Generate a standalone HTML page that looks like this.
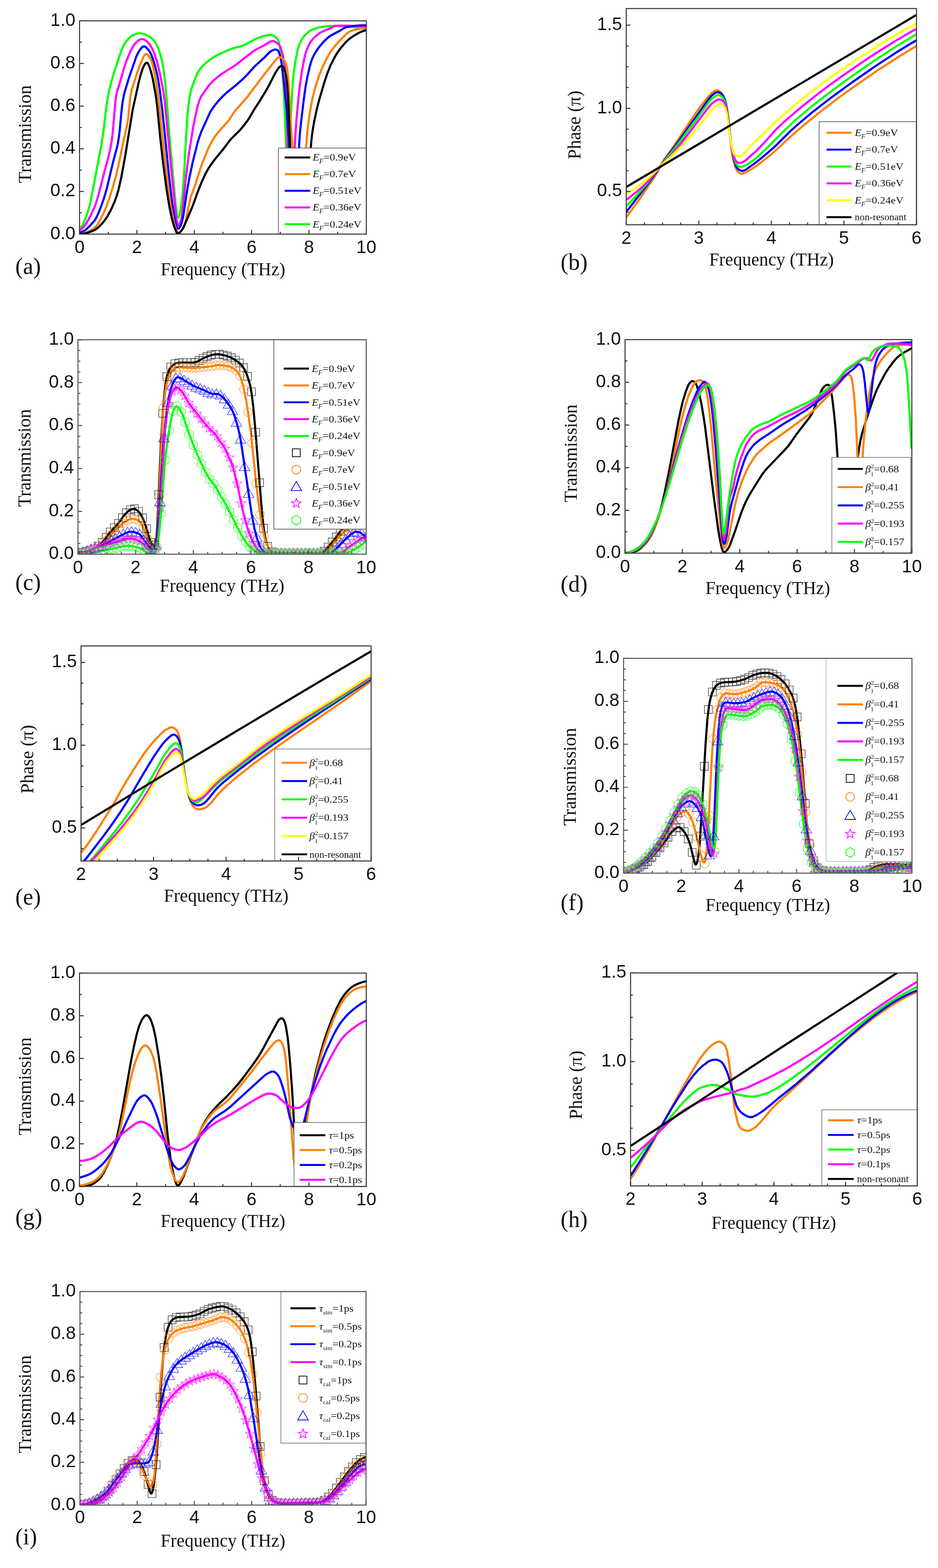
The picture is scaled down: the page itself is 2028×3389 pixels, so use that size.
<!DOCTYPE html>
<html><head><meta charset="utf-8"><title>Figure</title>
<style>html,body{margin:0;padding:0;background:#fff;}svg{display:block;}</style>
</head><body>
<svg xmlns="http://www.w3.org/2000/svg" width="2028" height="3389" viewBox="0 0 2028 3389"><clipPath id="clipa"><rect x="172" y="45" width="620" height="461"/></clipPath>
<g clip-path="url(#clipa)" fill="none" stroke-linejoin="round" stroke-linecap="round">
<path d="M171.9,493.2 174.3,491.9 176.8,489.1 179.3,485.1 183.0,477.1 190.4,456.3 195.4,437.8 218.9,314.8 223.8,283.1 230.0,231.1 232.5,214.0 236.2,194.9 241.2,174.8 247.3,154.2 261.0,113.0 264.7,103.5 268.4,96.3 273.3,88.8 279.5,81.7 284.5,77.5 288.2,75.6 294.4,73.2 299.3,72.0 303.0,71.8 308.0,72.5 312.9,74.1 319.1,76.6 324.1,79.6 327.8,82.6 331.5,86.3 335.2,90.9 337.7,94.9 342.6,105.7 347.6,121.0 350.1,131.3 352.5,144.1 355.0,160.3 357.5,181.4 360.0,209.3 367.4,308.0 378.5,429.1 382.2,462.8 383.5,468.5 384.7,470.8 386.0,470.2 387.2,467.4 389.7,457.4 392.1,443.0 394.6,422.1 398.3,370.8 402.0,299.5 404.5,260.1 407.0,231.8 409.5,212.0 411.9,199.1 414.4,190.0 421.8,170.1 425.6,161.4 429.3,154.1 433.0,148.4 437.9,142.6 445.4,135.7 454.0,128.8 462.7,123.1 472.6,117.7 488.7,110.4 501.0,105.3 508.5,102.9 520.8,100.1 525.8,98.4 533.2,94.8 550.5,85.3 561.7,80.7 567.9,78.6 574.1,77.1 580.2,75.9 585.2,75.5 587.7,75.8 591.4,77.3 596.3,80.3 598.8,82.6 601.3,86.6 602.5,90.0 605.0,101.2 607.5,118.3 609.9,141.6 612.4,174.7 613.7,197.8 618.6,316.4 619.8,335.6 621.1,345.5 622.3,346.9 623.6,340.9 624.8,327.8 631.0,210.8 632.2,190.4 634.7,160.5 638.4,133.3 643.4,108.9 647.1,96.6 652.0,86.1 655.7,80.5 660.7,74.6 665.6,70.1 671.8,65.6 676.8,63.2 683.0,61.1 690.4,59.3 700.3,57.5 707.7,56.5 713.9,56.1 732.5,56.2 748.6,56.9 769.6,59.1 789.4,63.0" stroke="#00ff00" stroke-width="4.6"/>
<path d="M171.9,497.6 175.6,495.8 180.5,491.1 184.2,486.3 189.2,478.4 195.4,466.7 202.8,451.1 206.5,441.8 210.2,430.6 216.4,408.4 226.3,368.9 233.7,342.5 238.7,320.7 241.2,306.4 243.6,288.2 249.8,215.8 252.3,200.7 259.7,176.8 268.4,146.3 272.1,135.3 277.1,122.4 283.2,108.7 288.2,99.3 293.1,92.9 299.3,87.4 303.0,85.2 305.5,84.5 308.0,84.5 310.5,85.1 314.2,87.1 317.9,89.7 321.6,93.3 324.1,96.5 330.3,107.3 335.2,119.7 340.2,135.5 345.1,155.6 351.3,186.5 353.8,201.6 356.3,220.3 369.9,361.8 379.8,460.0 382.2,478.9 383.5,484.3 384.7,486.8 386.0,487.2 387.2,486.0 389.7,481.1 392.1,472.8 393.4,466.3 395.9,446.0 402.0,382.0 408.2,334.2 416.9,279.2 420.6,259.6 425.6,236.6 430.5,218.4 434.2,209.8 436.7,205.8 450.3,186.6 456.5,179.1 463.9,172.0 473.8,164.0 487.4,154.4 503.5,144.6 509.7,140.4 546.8,111.4 555.5,106.0 571.6,97.8 582.7,90.7 587.7,88.7 591.4,88.9 593.9,89.9 600.0,93.8 603.8,97.0 606.2,101.2 609.9,113.1 613.7,131.8 616.1,150.1 617.4,165.1 618.6,190.3 622.3,318.9 623.6,348.5 624.8,366.3 626.0,376.4 627.3,381.9 628.5,384.5 629.7,385.4 631.0,385.3 632.2,383.5 633.5,377.7 634.7,364.5 638.4,295.9 640.9,259.8 644.6,218.7 648.3,184.8 653.3,151.1 658.2,125.0 661.9,111.2 666.9,99.0 670.6,92.2 675.5,85.5 681.7,79.0 687.9,73.7 691.6,71.1 696.6,68.4 712.7,61.9 723.8,56.1 727.5,55.6 751.0,55.6 789.4,56.6" stroke="#ff00ff" stroke-width="4.6"/>
<path d="M171.9,502.2 175.6,501.7 178.0,500.9 181.8,499.0 185.5,496.5 194.1,488.6 204.0,477.2 207.7,471.4 212.7,461.1 217.6,448.7 223.8,431.3 227.5,419.5 231.3,405.9 244.9,348.5 252.3,320.9 254.8,310.3 257.2,295.2 258.5,284.7 262.2,245.2 264.7,223.1 267.2,208.6 269.6,198.3 278.3,169.8 294.4,122.9 296.9,117.5 301.8,108.9 305.5,103.8 308.0,101.4 310.5,100.3 311.7,100.3 314.2,101.1 316.7,102.9 322.8,110.3 326.6,116.9 330.3,126.5 335.2,142.5 338.9,157.1 341.4,169.1 345.1,192.0 350.1,231.1 355.0,276.7 364.9,375.3 372.3,439.0 376.1,463.2 379.8,482.4 382.2,491.1 383.5,493.5 384.7,494.4 386.0,494.3 387.2,493.2 389.7,489.5 392.1,483.9 394.6,475.0 397.1,461.6 404.5,412.0 409.5,384.2 416.9,349.4 426.8,310.3 430.5,297.7 435.5,284.0 454.0,243.2 459.0,235.0 465.2,226.6 473.8,216.3 482.5,207.2 489.9,200.4 508.5,185.5 525.8,170.2 533.2,162.8 550.5,143.6 571.6,124.3 582.7,112.9 586.4,110.1 591.4,107.8 595.1,107.0 597.6,107.3 600.0,108.5 601.3,109.8 603.8,114.9 605.0,118.7 607.5,129.5 608.7,136.8 613.7,177.5 619.8,238.3 627.3,339.8 631.0,383.9 632.2,394.2 633.5,401.4 634.7,405.4 635.9,407.2 637.2,407.9 639.6,407.6 640.9,405.7 642.1,399.2 643.4,384.1 647.1,307.2 648.3,289.0 650.8,264.8 657.0,213.5 660.7,187.0 664.4,166.9 670.6,140.3 673.1,132.1 675.5,125.7 679.2,118.2 683.0,111.7 687.9,104.4 692.9,98.0 699.1,90.9 705.2,84.8 711.4,79.5 716.4,76.1 734.9,66.4 743.6,60.9 747.3,59.2 756.0,57.4 768.4,55.7 779.5,54.8 789.4,54.5" stroke="#0000ff" stroke-width="4.6"/>
<path d="M171.9,506.1 179.3,505.2 187.9,502.2 194.1,499.1 200.3,495.4 204.0,492.8 206.5,490.5 211.5,484.0 217.6,473.2 226.3,455.5 231.3,443.3 241.2,413.6 251.1,378.6 258.5,346.5 268.4,297.6 273.3,277.5 275.8,264.5 277.1,255.1 282.0,207.9 284.5,194.9 296.9,156.2 301.8,142.4 310.5,122.2 312.9,118.5 315.4,116.7 317.9,117.1 320.4,119.1 324.1,124.6 326.6,129.5 330.3,140.8 335.2,164.8 338.9,187.3 343.9,224.5 360.0,377.1 366.2,426.6 371.1,457.1 374.8,474.8 378.5,488.9 381.0,496.6 383.5,501.8 384.7,503.1 386.0,503.6 387.2,503.5 388.4,502.9 390.9,500.6 395.9,493.4 398.3,488.1 402.0,474.8 409.5,437.8 413.2,423.0 420.6,404.4 433.0,365.0 439.2,347.6 450.3,321.1 455.3,310.7 459.0,303.9 463.9,296.2 471.3,286.6 494.9,259.8 506.0,242.6 509.7,237.6 527.0,218.8 536.9,206.7 570.3,162.3 593.9,132.2 600.0,125.2 602.5,123.6 603.8,123.3 606.2,123.8 609.9,125.9 612.4,128.1 614.9,131.2 617.4,135.9 618.6,139.2 621.1,150.2 623.6,173.3 629.7,280.6 637.2,392.4 639.6,424.4 640.9,436.2 642.1,444.4 643.4,449.2 644.6,451.5 645.8,452.3 649.5,452.5 652.0,451.9 653.3,449.8 654.5,443.9 655.7,431.5 661.9,315.4 664.4,286.3 666.9,264.6 670.6,239.2 675.5,213.3 681.7,188.6 687.9,168.8 692.9,155.6 697.8,144.0 704.0,130.9 709.0,121.6 713.9,113.4 720.1,104.6 726.3,96.9 732.5,90.1 748.6,73.7 752.3,70.6 756.0,68.1 762.2,65.8 773.3,63.0 782.0,61.6 789.4,61.2" stroke="#ff8000" stroke-width="4.6"/>
<path d="M171.9,506.1 176.8,505.8 183.0,504.8 195.4,501.0 202.8,498.0 206.5,496.1 213.9,490.2 218.9,485.2 225.1,478.0 232.5,467.2 241.2,450.9 248.6,433.8 252.3,423.2 256.0,410.8 262.2,383.6 270.9,335.8 287.0,236.4 299.3,180.7 303.0,165.5 308.0,149.3 310.5,143.6 312.9,139.2 315.4,136.2 316.7,135.5 317.9,135.5 319.1,136.4 320.4,138.1 322.8,143.7 326.6,155.3 330.3,170.5 336.5,204.4 340.2,233.0 346.4,296.9 352.5,351.6 360.0,408.5 366.2,446.4 371.1,470.3 376.1,488.2 381.0,501.0 382.2,503.0 383.5,504.2 384.7,504.7 387.2,503.9 390.9,500.2 394.6,495.2 398.3,488.3 416.9,444.4 428.0,413.4 435.5,394.6 444.1,375.8 451.5,362.7 463.9,345.2 481.2,324.3 496.1,304.3 502.3,297.5 518.4,281.7 527.0,271.5 534.5,261.7 539.4,254.2 550.5,235.2 561.7,217.9 574.1,197.8 582.7,182.4 595.1,157.9 601.3,148.1 603.8,145.0 606.2,143.3 607.5,143.0 609.9,143.2 611.2,143.8 612.4,144.9 613.7,147.0 616.1,154.2 618.6,165.6 621.1,184.8 622.3,201.2 623.6,224.7 629.7,380.1 633.5,445.4 635.9,475.4 638.4,492.2 639.6,496.2 640.9,498.6 643.4,501.4 647.1,503.9 650.8,505.1 653.3,504.4 655.7,501.4 658.2,495.5 659.4,491.4 661.9,480.0 663.2,470.7 665.6,436.5 670.6,335.4 673.1,304.5 675.5,284.8 679.2,262.8 685.4,233.8 690.4,214.9 700.3,181.1 707.7,158.6 715.1,140.2 725.0,121.0 730.0,113.0 736.2,104.3 747.3,91.4 753.5,85.5 758.5,81.6 767.1,75.9 775.8,71.0 783.2,67.7 789.4,65.9" stroke="#000000" stroke-width="4.6"/>
</g>
<rect x="602" y="320" width="190" height="186" fill="#fff" stroke="#555" stroke-width="1.5"/>
<line x1="615.5" y1="340.3" x2="670.8" y2="340.3" stroke="#000000" stroke-width="4.2"/>
<text transform="translate(676,347.3) scale(1.07,1)" font-family="'Liberation Serif', 'Times New Roman', serif" font-size="22" fill="#111"><tspan font-style="italic">E</tspan><tspan font-size="14" dy="6" font-style="italic">F</tspan><tspan dy="-6">=0.9eV</tspan></text>
<line x1="615.5" y1="376.35" x2="670.8" y2="376.35" stroke="#ff8000" stroke-width="4.2"/>
<text transform="translate(676,383.4) scale(1.07,1)" font-family="'Liberation Serif', 'Times New Roman', serif" font-size="22" fill="#111"><tspan font-style="italic">E</tspan><tspan font-size="14" dy="6" font-style="italic">F</tspan><tspan dy="-6">=0.7eV</tspan></text>
<line x1="615.5" y1="412.4" x2="670.8" y2="412.4" stroke="#0000ff" stroke-width="4.2"/>
<text transform="translate(676,419.4) scale(1.07,1)" font-family="'Liberation Serif', 'Times New Roman', serif" font-size="22" fill="#111"><tspan font-style="italic">E</tspan><tspan font-size="14" dy="6" font-style="italic">F</tspan><tspan dy="-6">=0.51eV</tspan></text>
<line x1="615.5" y1="448.45" x2="670.8" y2="448.45" stroke="#ff00ff" stroke-width="4.2"/>
<text transform="translate(676,455.4) scale(1.07,1)" font-family="'Liberation Serif', 'Times New Roman', serif" font-size="22" fill="#111"><tspan font-style="italic">E</tspan><tspan font-size="14" dy="6" font-style="italic">F</tspan><tspan dy="-6">=0.36eV</tspan></text>
<line x1="615.5" y1="484.5" x2="670.8" y2="484.5" stroke="#00ff00" stroke-width="4.2"/>
<text transform="translate(676,491.5) scale(1.07,1)" font-family="'Liberation Serif', 'Times New Roman', serif" font-size="22" fill="#111"><tspan font-style="italic">E</tspan><tspan font-size="14" dy="6" font-style="italic">F</tspan><tspan dy="-6">=0.24eV</tspan></text>
<rect x="172" y="45" width="620" height="461" fill="none" stroke="#333" stroke-width="2.2"/>
<path d="M172.0,506 v-9 M296.0,506 v-9 M420.0,506 v-9 M544.0,506 v-9 M668.0,506 v-9 M792.0,506 v-9 M234.0,506 v-5 M358.0,506 v-5 M482.0,506 v-5 M606.0,506 v-5 M730.0,506 v-5 M172,506.0 h9 M172,413.8 h9 M172,321.6 h9 M172,229.4 h9 M172,137.2 h9 M172,45.0 h9 M172,459.9 h5 M172,367.7 h5 M172,275.5 h5 M172,183.3 h5 M172,91.1 h5" stroke="#333" stroke-width="2.2" fill="none"/>
<text x="172.0" y="547" font-family="'Liberation Sans', Arial, sans-serif" font-size="39" text-anchor="middle" fill="#111">0</text>
<text x="296.0" y="547" font-family="'Liberation Sans', Arial, sans-serif" font-size="39" text-anchor="middle" fill="#111">2</text>
<text x="420.0" y="547" font-family="'Liberation Sans', Arial, sans-serif" font-size="39" text-anchor="middle" fill="#111">4</text>
<text x="544.0" y="547" font-family="'Liberation Sans', Arial, sans-serif" font-size="39" text-anchor="middle" fill="#111">6</text>
<text x="668.0" y="547" font-family="'Liberation Sans', Arial, sans-serif" font-size="39" text-anchor="middle" fill="#111">8</text>
<text x="792.0" y="547" font-family="'Liberation Sans', Arial, sans-serif" font-size="39" text-anchor="middle" fill="#111">10</text>
<text x="163" y="516.5" font-family="'Liberation Sans', Arial, sans-serif" font-size="39" text-anchor="end" fill="#111">0.0</text>
<text x="163" y="424.3" font-family="'Liberation Sans', Arial, sans-serif" font-size="39" text-anchor="end" fill="#111">0.2</text>
<text x="163" y="332.1" font-family="'Liberation Sans', Arial, sans-serif" font-size="39" text-anchor="end" fill="#111">0.4</text>
<text x="163" y="239.9" font-family="'Liberation Sans', Arial, sans-serif" font-size="39" text-anchor="end" fill="#111">0.6</text>
<text x="163" y="147.7" font-family="'Liberation Sans', Arial, sans-serif" font-size="39" text-anchor="end" fill="#111">0.8</text>
<text x="163" y="55.5" font-family="'Liberation Sans', Arial, sans-serif" font-size="39" text-anchor="end" fill="#111">1.0</text>
<text x="482" y="595" font-family="'Liberation Serif', 'Times New Roman', serif" font-size="39" text-anchor="middle" fill="#111">Frequency (THz)</text>
<text transform="translate(67,290) rotate(-90)" font-family="'Liberation Serif', 'Times New Roman', serif" font-size="39.5" text-anchor="middle" fill="#111">Transmission</text>
<text x="33" y="592" font-family="'Liberation Serif', 'Times New Roman', serif" font-size="50" fill="#111">(a)</text>
<clipPath id="clipb"><rect x="1354" y="18.5" width="627.5" height="467.3"/></clipPath>
<g clip-path="url(#clipb)" fill="none" stroke-linejoin="round" stroke-linecap="round">
<path d="M1353.5,469.6 1357.3,465.4 1381.2,432.4 1413.8,384.2 1418.9,376.2 1428.9,357.0 1436.5,344.5 1457.8,314.2 1506.8,240.6 1518.1,225.4 1533.2,206.8 1538.3,201.7 1545.8,196.1 1549.6,195.0 1552.1,195.3 1555.9,197.2 1558.4,199.3 1562.1,204.5 1564.7,209.7 1567.2,216.3 1569.7,225.5 1572.2,239.9 1581.0,318.1 1583.5,335.4 1586.0,348.3 1589.8,361.1 1593.6,368.7 1597.3,373.1 1599.8,374.9 1602.4,375.7 1604.9,375.4 1612.4,372.6 1621.2,367.8 1632.5,360.7 1643.8,352.2 1665.2,335.2 1677.8,324.6 1713.0,291.8 1741.9,267.1 1779.6,236.7 1816.0,209.1 1861.3,176.8 1904.0,147.7 1945.5,121.0 1969.4,106.5 1980.7,100.1" stroke="#ff8000" stroke-width="4.6"/>
<path d="M1353.5,457.4 1356.0,455.2 1366.1,442.7 1405.0,391.9 1418.9,372.5 1437.7,344.4 1459.1,316.3 1532.0,214.3 1538.3,207.0 1545.8,201.2 1549.6,199.5 1552.1,199.3 1554.6,199.8 1558.4,201.5 1560.9,203.5 1563.4,206.9 1567.2,215.4 1569.7,224.2 1572.2,237.5 1574.7,256.3 1581.0,310.9 1584.8,334.7 1587.3,346.7 1591.0,358.2 1592.3,360.8 1594.8,364.5 1597.3,366.6 1602.4,368.9 1604.9,369.4 1607.4,368.9 1611.2,367.4 1616.2,364.2 1635.0,350.6 1647.6,340.5 1663.9,326.7 1676.5,315.5 1707.9,284.4 1724.3,269.4 1756.9,242.1 1793.4,213.7 1843.7,177.0 1893.9,142.1 1940.4,111.8 1965.6,96.3 1980.7,87.5" stroke="#0000ff" stroke-width="4.6"/>
<path d="M1353.5,445.4 1358.5,441.2 1372.4,426.9 1386.2,411.5 1398.7,396.5 1437.7,346.1 1454.1,326.5 1466.6,310.4 1490.5,277.5 1508.1,254.5 1533.2,219.6 1538.3,214.0 1547.1,207.4 1550.8,205.7 1553.3,205.4 1555.9,205.9 1558.4,207.1 1560.9,208.9 1563.4,211.8 1567.2,219.8 1569.7,228.3 1572.2,241.4 1579.7,303.9 1583.5,326.0 1587.3,342.2 1591.0,352.9 1594.8,358.4 1597.3,360.0 1599.8,360.5 1602.4,360.5 1606.1,359.8 1611.2,357.7 1616.2,354.8 1630.0,345.3 1636.3,340.2 1657.7,320.1 1696.6,281.3 1716.7,262.2 1749.4,234.4 1785.9,205.6 1836.1,168.7 1890.2,131.2 1939.2,99.4 1965.6,83.2 1980.7,74.6" stroke="#00ff00" stroke-width="4.6"/>
<path d="M1353.5,431.5 1356.0,430.2 1361.0,426.5 1382.4,409.8 1392.5,400.5 1402.5,390.0 1435.2,350.7 1454.1,331.6 1465.4,318.5 1479.2,301.0 1534.5,228.6 1539.5,223.4 1548.3,217.0 1553.3,215.1 1555.9,215.1 1558.4,215.6 1560.9,216.7 1563.4,218.4 1565.9,221.6 1567.2,224.1 1569.7,231.7 1572.2,244.8 1579.7,305.2 1582.2,320.5 1586.0,336.3 1589.8,346.1 1592.3,349.6 1594.8,351.3 1597.3,352.1 1599.8,352.2 1603.6,351.4 1607.4,349.6 1612.4,346.2 1635.0,326.6 1655.1,305.5 1676.5,281.2 1696.6,261.9 1731.8,231.9 1770.8,201.0 1793.4,184.0 1817.3,166.8 1850.0,144.1 1880.1,123.9 1907.8,106.0 1934.2,89.6 1961.8,73.2 1980.7,62.7" stroke="#ff00ff" stroke-width="4.6"/>
<path d="M1353.5,419.4 1359.8,416.0 1374.9,406.1 1387.4,397.0 1398.7,388.0 1407.5,380.0 1436.5,350.9 1459.1,330.2 1475.4,313.5 1490.5,296.8 1523.2,257.6 1537.0,240.0 1547.1,229.9 1552.1,226.1 1554.6,225.0 1557.1,224.7 1560.9,225.8 1563.4,227.3 1565.9,230.0 1568.4,234.9 1570.9,243.7 1572.2,250.0 1579.7,302.4 1582.2,316.0 1584.8,326.4 1587.3,333.1 1589.8,336.1 1592.3,337.2 1596.1,337.9 1598.6,337.9 1601.1,337.3 1604.9,335.2 1608.6,331.9 1626.2,311.5 1672.7,267.6 1696.6,245.7 1713.0,231.5 1729.3,217.9 1769.5,186.4 1792.1,169.7 1816.0,152.9 1848.7,130.8 1878.9,111.1 1906.5,93.7 1932.9,77.8 1960.6,61.9 1980.7,51.2" stroke="#ffff00" stroke-width="4.6"/>
<path d="M1354.0,404.2 1981.5,32.2" stroke="#000000" stroke-width="4.6"/>
</g>
<rect x="1771" y="263" width="210.5" height="222.8" fill="#fff" stroke="#555" stroke-width="1.5"/>
<line x1="1787" y1="286.9" x2="1841" y2="286.9" stroke="#ff8000" stroke-width="4.2"/>
<text transform="translate(1848,293.9) scale(1.07,1)" font-family="'Liberation Serif', 'Times New Roman', serif" font-size="22" fill="#111"><tspan font-style="italic">E</tspan><tspan font-size="14" dy="6" font-style="italic">F</tspan><tspan dy="-6">=0.9eV</tspan></text>
<line x1="1787" y1="323.4" x2="1841" y2="323.4" stroke="#0000ff" stroke-width="4.2"/>
<text transform="translate(1848,330.4) scale(1.07,1)" font-family="'Liberation Serif', 'Times New Roman', serif" font-size="22" fill="#111"><tspan font-style="italic">E</tspan><tspan font-size="14" dy="6" font-style="italic">F</tspan><tspan dy="-6">=0.7eV</tspan></text>
<line x1="1787" y1="359.9" x2="1841" y2="359.9" stroke="#00ff00" stroke-width="4.2"/>
<text transform="translate(1848,366.9) scale(1.07,1)" font-family="'Liberation Serif', 'Times New Roman', serif" font-size="22" fill="#111"><tspan font-style="italic">E</tspan><tspan font-size="14" dy="6" font-style="italic">F</tspan><tspan dy="-6">=0.51eV</tspan></text>
<line x1="1787" y1="396.4" x2="1841" y2="396.4" stroke="#ff00ff" stroke-width="4.2"/>
<text transform="translate(1848,403.4) scale(1.07,1)" font-family="'Liberation Serif', 'Times New Roman', serif" font-size="22" fill="#111"><tspan font-style="italic">E</tspan><tspan font-size="14" dy="6" font-style="italic">F</tspan><tspan dy="-6">=0.36eV</tspan></text>
<line x1="1787" y1="432.9" x2="1841" y2="432.9" stroke="#ffff00" stroke-width="4.2"/>
<text transform="translate(1848,439.9) scale(1.07,1)" font-family="'Liberation Serif', 'Times New Roman', serif" font-size="22" fill="#111"><tspan font-style="italic">E</tspan><tspan font-size="14" dy="6" font-style="italic">F</tspan><tspan dy="-6">=0.24eV</tspan></text>
<line x1="1787" y1="469.4" x2="1841" y2="469.4" stroke="#000000" stroke-width="4.2"/>
<text transform="translate(1848,476.4) scale(1.07,1)" font-family="'Liberation Serif', 'Times New Roman', serif" font-size="22" fill="#111"><tspan font-size="20">non-resonant</tspan></text>
<rect x="1354" y="18.5" width="627.5" height="467.3" fill="none" stroke="#333" stroke-width="2.2"/>
<path d="M1354.0,485.8 v-9 M1510.9,485.8 v-9 M1667.8,485.8 v-9 M1824.6,485.8 v-9 M1981.5,485.8 v-9 M1393.2,485.8 v-5 M1432.4,485.8 v-5 M1471.7,485.8 v-5 M1550.1,485.8 v-5 M1589.3,485.8 v-5 M1628.5,485.8 v-5 M1707.0,485.8 v-5 M1746.2,485.8 v-5 M1785.4,485.8 v-5 M1863.8,485.8 v-5 M1903.1,485.8 v-5 M1942.3,485.8 v-5 M1354,413.9 h9 M1354,234.2 h9 M1354,54.4 h9 M1354,458.8 h5 M1354,369.0 h5 M1354,324.0 h5 M1354,279.1 h5 M1354,189.2 h5 M1354,144.3 h5 M1354,99.4 h5" stroke="#333" stroke-width="2.2" fill="none"/>
<text x="1354.0" y="526.8" font-family="'Liberation Sans', Arial, sans-serif" font-size="39" text-anchor="middle" fill="#111">2</text>
<text x="1510.9" y="526.8" font-family="'Liberation Sans', Arial, sans-serif" font-size="39" text-anchor="middle" fill="#111">3</text>
<text x="1667.8" y="526.8" font-family="'Liberation Sans', Arial, sans-serif" font-size="39" text-anchor="middle" fill="#111">4</text>
<text x="1824.6" y="526.8" font-family="'Liberation Sans', Arial, sans-serif" font-size="39" text-anchor="middle" fill="#111">5</text>
<text x="1981.5" y="526.8" font-family="'Liberation Sans', Arial, sans-serif" font-size="39" text-anchor="middle" fill="#111">6</text>
<text x="1345" y="424.4" font-family="'Liberation Sans', Arial, sans-serif" font-size="39" text-anchor="end" fill="#111">0.5</text>
<text x="1345" y="244.7" font-family="'Liberation Sans', Arial, sans-serif" font-size="39" text-anchor="end" fill="#111">1.0</text>
<text x="1345" y="64.9" font-family="'Liberation Sans', Arial, sans-serif" font-size="39" text-anchor="end" fill="#111">1.5</text>
<text x="1668" y="574" font-family="'Liberation Serif', 'Times New Roman', serif" font-size="39" text-anchor="middle" fill="#111">Frequency (THz)</text>
<text transform="translate(1255,270) rotate(-90)" font-family="'Liberation Serif', 'Times New Roman', serif" font-size="39.5" text-anchor="middle" fill="#111">Phase (π)</text>
<text x="1212" y="583" font-family="'Liberation Serif', 'Times New Roman', serif" font-size="50" fill="#111">(b)</text>
<clipPath id="clipc"><rect x="168.6" y="734.3" width="623.1999999999999" height="463.5"/></clipPath>
<g clip-path="url(#clipc)" fill="none" stroke-linejoin="round" stroke-linecap="round">
<path d="M168.6,1194.4 178.6,1193.4 191.1,1190.2 204.8,1185.0 212.3,1180.2 218.5,1174.7 224.7,1168.3 236.0,1152.9 254.7,1132.5 267.1,1115.5 273.4,1108.3 277.1,1105.0 280.9,1102.6 284.6,1100.7 288.3,1099.8 292.1,1100.3 297.1,1103.4 300.8,1106.9 304.6,1112.3 309.6,1122.4 313.3,1131.8 318.3,1147.2 323.3,1164.5 325.8,1171.4 328.3,1175.7 330.8,1178.0 332.0,1178.3 333.2,1177.8 334.5,1176.1 335.7,1173.1 337.0,1168.2 338.2,1159.8 339.5,1145.8 342.0,1097.6 348.2,950.7 353.2,876.3 355.7,848.4 358.2,828.5 360.7,814.9 363.2,805.8 365.7,799.7 369.4,793.5 374.4,788.6 379.4,785.6 383.1,784.6 391.9,783.8 416.8,783.6 421.8,783.1 426.8,781.3 439.3,774.4 449.2,770.2 456.7,767.5 462.9,766.2 469.2,765.6 475.4,766.0 482.9,767.4 492.9,770.3 497.9,772.2 502.9,774.7 509.1,778.5 515.3,783.0 519.1,786.1 522.8,790.0 527.8,797.1 530.3,801.9 534.0,810.7 539.0,825.8 541.5,836.1 544.0,850.1 547.8,880.8 552.7,937.1 565.2,1092.4 567.7,1119.6 570.2,1141.6 572.7,1157.8 576.4,1174.0 580.2,1183.5 582.7,1187.7 585.2,1190.8 587.7,1192.8 591.4,1195.0 596.4,1195.9 689.9,1195.9 694.9,1195.1 699.9,1192.1 706.1,1186.5 724.8,1163.6 737.3,1146.5 743.6,1139.9 758.5,1125.8 764.8,1121.0 774.7,1115.3 783.5,1111.4 790.9,1109.4" stroke="#000000" stroke-width="4.6"/>
<path d="M168.6,1196.5 173.6,1196.2 179.8,1195.2 191.1,1191.7 204.8,1185.1 221.0,1175.2 226.0,1171.8 229.7,1168.4 244.7,1150.8 260.9,1135.0 265.9,1131.0 275.9,1124.4 280.9,1122.0 284.6,1121.2 289.6,1121.6 294.6,1123.0 299.6,1125.3 302.1,1127.3 305.8,1132.7 310.8,1142.6 313.3,1148.8 319.5,1167.4 323.3,1175.7 327.0,1180.3 330.8,1182.8 332.0,1182.8 333.2,1182.0 334.5,1180.3 337.0,1173.0 338.2,1167.1 340.7,1146.4 343.2,1101.9 348.2,974.2 350.7,922.2 353.2,884.3 356.9,848.8 359.4,833.9 361.9,823.5 364.4,815.7 368.2,807.0 371.9,801.5 375.6,797.8 380.6,794.4 384.4,793.4 409.3,795.2 420.5,795.4 458.0,791.7 470.4,789.0 476.7,789.2 484.1,789.9 495.4,792.0 500.4,794.1 505.3,796.8 509.1,799.4 512.8,802.8 515.3,806.0 517.8,810.5 522.8,823.3 526.6,837.1 531.5,861.9 536.5,892.5 542.8,938.2 551.5,1023.3 556.5,1067.3 561.5,1104.7 566.5,1135.6 571.4,1159.9 575.2,1172.8 577.7,1179.2 580.2,1184.3 582.7,1188.1 586.4,1191.8 591.4,1195.0 596.4,1195.9 698.7,1195.9 703.6,1195.5 706.1,1194.1 707.4,1192.8 714.9,1182.3 732.3,1160.7 739.8,1153.0 747.3,1146.7 756.0,1141.5 766.0,1137.2 779.7,1133.4 790.9,1131.5" stroke="#ff8000" stroke-width="4.6"/>
<path d="M168.6,1197.4 177.4,1195.2 189.8,1191.1 217.3,1180.4 231.0,1174.1 249.7,1163.6 270.9,1152.6 275.9,1150.5 280.9,1149.3 285.9,1149.3 290.8,1150.2 297.1,1152.2 300.8,1154.0 304.6,1157.6 314.5,1171.9 322.0,1181.4 325.8,1185.4 328.3,1187.0 330.8,1187.2 333.2,1185.3 334.5,1183.5 337.0,1177.6 338.2,1172.7 340.7,1154.0 343.2,1121.4 353.2,962.6 356.9,918.5 360.7,886.3 365.7,856.1 368.2,845.2 371.9,832.5 374.4,826.3 378.1,820.1 381.9,816.2 384.4,815.2 386.9,815.5 390.6,817.2 418.1,833.9 425.5,837.2 441.7,843.6 454.2,849.7 460.5,851.4 470.4,851.4 472.9,852.1 475.4,853.5 482.9,859.6 487.9,865.4 497.9,879.3 502.9,888.3 506.6,897.5 511.6,913.5 515.3,927.1 519.1,944.2 521.6,959.0 544.0,1110.1 550.2,1143.2 555.2,1162.3 560.2,1176.5 562.7,1181.9 565.2,1186.1 567.7,1189.4 571.4,1193.1 575.2,1195.3 578.9,1195.9 714.9,1195.6 717.4,1194.7 719.9,1192.8 731.1,1181.8 743.6,1168.8 757.3,1156.3 762.3,1152.3 766.0,1150.3 768.5,1149.5 772.2,1149.4 774.7,1149.8 778.5,1151.2 783.5,1154.2 790.9,1161.1" stroke="#0000ff" stroke-width="4.6"/>
<path d="M168.6,1197.4 209.8,1183.6 248.4,1172.2 264.7,1167.0 272.1,1165.1 279.6,1164.3 284.6,1164.5 289.6,1165.3 300.8,1168.9 303.3,1170.4 307.1,1173.5 318.3,1185.1 325.8,1190.6 329.5,1192.8 332.0,1193.7 333.2,1193.8 334.5,1193.2 335.7,1191.4 338.2,1183.4 340.7,1169.1 343.2,1148.0 344.5,1133.4 354.4,962.9 356.9,930.5 360.7,896.7 364.4,873.9 366.9,863.2 369.4,854.8 371.9,848.5 375.6,842.1 379.4,838.0 381.9,836.9 383.1,837.0 385.6,838.2 391.9,844.3 396.8,851.6 406.8,869.1 415.6,881.3 435.5,906.4 448.0,921.3 454.2,928.0 462.9,935.9 466.7,940.1 474.2,952.4 480.4,959.5 485.4,967.7 499.1,997.9 502.9,1007.9 505.3,1015.9 512.8,1046.3 525.3,1105.3 531.5,1129.7 536.5,1146.2 542.8,1162.8 547.8,1173.3 551.5,1179.7 555.2,1185.1 557.7,1187.9 561.5,1191.3 566.5,1194.7 569.0,1195.6 571.4,1195.8 736.1,1195.8 739.8,1194.5 747.3,1187.7 752.3,1183.8 781.0,1164.0 783.5,1163.1 786.0,1163.3 788.4,1165.5 790.9,1169.0" stroke="#ff00ff" stroke-width="4.6"/>
<path d="M168.6,1198.2 192.3,1195.2 222.3,1190.3 247.2,1185.5 264.7,1180.7 273.4,1179.4 279.6,1179.6 285.9,1180.4 300.8,1183.9 305.8,1186.4 317.0,1194.2 322.0,1196.2 325.8,1196.4 330.8,1195.6 333.2,1194.6 335.7,1192.0 338.2,1185.7 340.7,1175.1 343.2,1160.0 344.5,1149.7 347.0,1122.6 355.7,1008.3 358.2,983.7 361.9,954.9 368.2,915.3 371.9,896.6 374.4,888.7 376.9,883.4 379.4,879.7 380.6,878.6 381.9,878.2 383.1,878.3 384.4,879.0 386.9,881.8 390.6,888.2 394.4,895.9 398.1,905.6 408.1,935.8 420.5,968.2 433.0,997.2 445.5,1022.8 453.0,1035.3 464.2,1049.0 467.9,1054.6 474.2,1067.4 482.9,1081.1 490.4,1094.6 514.1,1141.7 525.3,1162.0 532.8,1173.1 539.0,1180.7 545.3,1187.0 552.7,1193.0 556.5,1195.1 561.5,1195.9 748.5,1195.7 753.5,1194.2 769.7,1185.7 781.0,1178.3 790.9,1170.3" stroke="#00ff00" stroke-width="4.6"/>
</g>
<g clip-path="url(#clipc)" fill="none" opacity="0.7">
<path d="M160.1,1185.9h17v17h-17zM168.9,1185.2h17v17h-17zM177.6,1183.2h17v17h-17zM186.3,1180.4h17v17h-17zM195.0,1177.1h17v17h-17zM203.7,1171.8h17v17h-17zM212.5,1163.8h17v17h-17zM221.2,1153.3h17v17h-17zM229.9,1141.4h17v17h-17zM238.6,1132.1h17v17h-17zM247.4,1122.6h17v17h-17zM256.1,1110.3h17v17h-17zM264.8,1099.8h17v17h-17zM273.5,1093.4h17v17h-17zM282.3,1091.2h17v17h-17zM291.0,1096.9h17v17h-17zM299.7,1110.8h17v17h-17zM308.4,1134.3h17v17h-17zM317.2,1163.7h17v17h-17zM325.9,1169.2h17v17h-17zM334.6,1060.6h17v17h-17zM343.3,884.9h17v17h-17zM352.1,805.5h17v17h-17zM360.8,784.9h17v17h-17zM369.5,777.6h17v17h-17zM378.2,775.6h17v17h-17zM387.0,775.1h17v17h-17zM395.7,775.1h17v17h-17zM404.4,775.1h17v17h-17zM413.1,774.8h17v17h-17zM421.9,770.8h17v17h-17zM430.6,765.9h17v17h-17zM439.3,762.3h17v17h-17zM448.0,759.0h17v17h-17zM456.8,757.4h17v17h-17zM465.5,757.3h17v17h-17zM474.2,758.9h17v17h-17zM482.9,761.3h17v17h-17zM491.7,764.7h17v17h-17zM500.4,769.9h17v17h-17zM509.1,776.2h17v17h-17zM517.8,786.0h17v17h-17zM526.6,804.7h17v17h-17zM535.3,838.4h17v17h-17zM544.0,925.6h17v17h-17zM552.7,1034.8h17v17h-17zM561.5,1133.3h17v17h-17zM570.2,1172.2h17v17h-17zM578.9,1184.3h17v17h-17zM587.6,1187.4h17v17h-17zM596.4,1187.4h17v17h-17zM605.1,1187.4h17v17h-17zM613.8,1187.4h17v17h-17zM622.5,1187.4h17v17h-17zM631.3,1187.4h17v17h-17zM640.0,1187.4h17v17h-17zM648.7,1187.4h17v17h-17zM657.4,1187.4h17v17h-17zM666.2,1187.4h17v17h-17zM674.9,1187.4h17v17h-17zM683.6,1187.4h17v17h-17zM692.3,1182.9h17v17h-17zM701.1,1173.9h17v17h-17zM709.8,1163.0h17v17h-17zM718.5,1152.3h17v17h-17zM727.2,1139.8h17v17h-17zM736.0,1130.5h17v17h-17zM744.7,1122.3h17v17h-17zM753.4,1114.4h17v17h-17zM762.1,1109.0h17v17h-17zM770.9,1104.5h17v17h-17zM779.6,1101.4h17v17h-17z" stroke="#000000" stroke-width="1.4"/>
<path d="M160.4,1196.5a9.5,9.5 0 1,0 19,0a9.5,9.5 0 1,0 -19,0M169.1,1195.5a9.5,9.5 0 1,0 19,0a9.5,9.5 0 1,0 -19,0M177.8,1193.1a9.5,9.5 0 1,0 19,0a9.5,9.5 0 1,0 -19,0M186.5,1189.6a9.5,9.5 0 1,0 19,0a9.5,9.5 0 1,0 -19,0M195.3,1185.1a9.5,9.5 0 1,0 19,0a9.5,9.5 0 1,0 -19,0M204.0,1180.0a9.5,9.5 0 1,0 19,0a9.5,9.5 0 1,0 -19,0M212.7,1174.4a9.5,9.5 0 1,0 19,0a9.5,9.5 0 1,0 -19,0M221.4,1167.2a9.5,9.5 0 1,0 19,0a9.5,9.5 0 1,0 -19,0M230.2,1156.6a9.5,9.5 0 1,0 19,0a9.5,9.5 0 1,0 -19,0M238.9,1147.0a9.5,9.5 0 1,0 19,0a9.5,9.5 0 1,0 -19,0M247.6,1138.4a9.5,9.5 0 1,0 19,0a9.5,9.5 0 1,0 -19,0M256.3,1131.0a9.5,9.5 0 1,0 19,0a9.5,9.5 0 1,0 -19,0M265.1,1125.2a9.5,9.5 0 1,0 19,0a9.5,9.5 0 1,0 -19,0M273.8,1121.2a9.5,9.5 0 1,0 19,0a9.5,9.5 0 1,0 -19,0M282.5,1122.1a9.5,9.5 0 1,0 19,0a9.5,9.5 0 1,0 -19,0M291.2,1125.7a9.5,9.5 0 1,0 19,0a9.5,9.5 0 1,0 -19,0M300.0,1139.7a9.5,9.5 0 1,0 19,0a9.5,9.5 0 1,0 -19,0M308.7,1163.8a9.5,9.5 0 1,0 19,0a9.5,9.5 0 1,0 -19,0M317.4,1180.4a9.5,9.5 0 1,0 19,0a9.5,9.5 0 1,0 -19,0M326.1,1179.0a9.5,9.5 0 1,0 19,0a9.5,9.5 0 1,0 -19,0M334.9,1074.0a9.5,9.5 0 1,0 19,0a9.5,9.5 0 1,0 -19,0M343.6,881.7a9.5,9.5 0 1,0 19,0a9.5,9.5 0 1,0 -19,0M352.3,823.3a9.5,9.5 0 1,0 19,0a9.5,9.5 0 1,0 -19,0M361.0,802.8a9.5,9.5 0 1,0 19,0a9.5,9.5 0 1,0 -19,0M369.8,794.9a9.5,9.5 0 1,0 19,0a9.5,9.5 0 1,0 -19,0M378.5,793.5a9.5,9.5 0 1,0 19,0a9.5,9.5 0 1,0 -19,0M387.2,794.4a9.5,9.5 0 1,0 19,0a9.5,9.5 0 1,0 -19,0M395.9,794.9a9.5,9.5 0 1,0 19,0a9.5,9.5 0 1,0 -19,0M404.7,795.4a9.5,9.5 0 1,0 19,0a9.5,9.5 0 1,0 -19,0M413.4,795.3a9.5,9.5 0 1,0 19,0a9.5,9.5 0 1,0 -19,0M422.1,794.4a9.5,9.5 0 1,0 19,0a9.5,9.5 0 1,0 -19,0M430.8,793.3a9.5,9.5 0 1,0 19,0a9.5,9.5 0 1,0 -19,0M439.6,792.6a9.5,9.5 0 1,0 19,0a9.5,9.5 0 1,0 -19,0M448.3,791.7a9.5,9.5 0 1,0 19,0a9.5,9.5 0 1,0 -19,0M457.0,789.7a9.5,9.5 0 1,0 19,0a9.5,9.5 0 1,0 -19,0M465.7,789.1a9.5,9.5 0 1,0 19,0a9.5,9.5 0 1,0 -19,0M474.5,789.9a9.5,9.5 0 1,0 19,0a9.5,9.5 0 1,0 -19,0M483.2,791.2a9.5,9.5 0 1,0 19,0a9.5,9.5 0 1,0 -19,0M491.9,794.6a9.5,9.5 0 1,0 19,0a9.5,9.5 0 1,0 -19,0M500.6,800.1a9.5,9.5 0 1,0 19,0a9.5,9.5 0 1,0 -19,0M509.4,812.4a9.5,9.5 0 1,0 19,0a9.5,9.5 0 1,0 -19,0M518.1,841.4a9.5,9.5 0 1,0 19,0a9.5,9.5 0 1,0 -19,0M526.8,890.8a9.5,9.5 0 1,0 19,0a9.5,9.5 0 1,0 -19,0M535.5,958.0a9.5,9.5 0 1,0 19,0a9.5,9.5 0 1,0 -19,0M544.3,1044.7a9.5,9.5 0 1,0 19,0a9.5,9.5 0 1,0 -19,0M553.0,1112.2a9.5,9.5 0 1,0 19,0a9.5,9.5 0 1,0 -19,0M561.7,1159.5a9.5,9.5 0 1,0 19,0a9.5,9.5 0 1,0 -19,0M570.4,1184.3a9.5,9.5 0 1,0 19,0a9.5,9.5 0 1,0 -19,0M579.2,1193.6a9.5,9.5 0 1,0 19,0a9.5,9.5 0 1,0 -19,0M587.9,1195.9a9.5,9.5 0 1,0 19,0a9.5,9.5 0 1,0 -19,0M596.6,1195.9a9.5,9.5 0 1,0 19,0a9.5,9.5 0 1,0 -19,0M605.3,1195.9a9.5,9.5 0 1,0 19,0a9.5,9.5 0 1,0 -19,0M614.1,1195.9a9.5,9.5 0 1,0 19,0a9.5,9.5 0 1,0 -19,0M622.8,1195.9a9.5,9.5 0 1,0 19,0a9.5,9.5 0 1,0 -19,0M631.5,1195.9a9.5,9.5 0 1,0 19,0a9.5,9.5 0 1,0 -19,0M640.2,1195.9a9.5,9.5 0 1,0 19,0a9.5,9.5 0 1,0 -19,0M649.0,1195.9a9.5,9.5 0 1,0 19,0a9.5,9.5 0 1,0 -19,0M657.7,1195.9a9.5,9.5 0 1,0 19,0a9.5,9.5 0 1,0 -19,0M666.4,1195.9a9.5,9.5 0 1,0 19,0a9.5,9.5 0 1,0 -19,0M675.1,1195.9a9.5,9.5 0 1,0 19,0a9.5,9.5 0 1,0 -19,0M683.9,1195.9a9.5,9.5 0 1,0 19,0a9.5,9.5 0 1,0 -19,0M692.6,1195.9a9.5,9.5 0 1,0 19,0a9.5,9.5 0 1,0 -19,0M701.3,1188.1a9.5,9.5 0 1,0 19,0a9.5,9.5 0 1,0 -19,0M710.0,1176.4a9.5,9.5 0 1,0 19,0a9.5,9.5 0 1,0 -19,0M718.8,1165.4a9.5,9.5 0 1,0 19,0a9.5,9.5 0 1,0 -19,0M727.5,1155.7a9.5,9.5 0 1,0 19,0a9.5,9.5 0 1,0 -19,0M736.2,1147.9a9.5,9.5 0 1,0 19,0a9.5,9.5 0 1,0 -19,0M744.9,1142.3a9.5,9.5 0 1,0 19,0a9.5,9.5 0 1,0 -19,0M753.7,1138.3a9.5,9.5 0 1,0 19,0a9.5,9.5 0 1,0 -19,0M762.4,1135.4a9.5,9.5 0 1,0 19,0a9.5,9.5 0 1,0 -19,0M771.1,1133.2a9.5,9.5 0 1,0 19,0a9.5,9.5 0 1,0 -19,0M779.8,1131.6a9.5,9.5 0 1,0 19,0a9.5,9.5 0 1,0 -19,0" stroke="#ff8000" stroke-width="1.4"/>
<path d="M171.1,1186.0l11.5,19.8h-23.0zM179.8,1183.4l11.5,19.8h-23.0zM188.6,1180.6l11.5,19.8h-23.0zM197.3,1177.4l11.5,19.8h-23.0zM206.0,1174.0l11.5,19.8h-23.0zM214.7,1170.4l11.5,19.8h-23.0zM223.5,1166.7l11.5,19.8h-23.0zM232.2,1162.5l11.5,19.8h-23.0zM240.9,1157.6l11.5,19.8h-23.0zM249.6,1152.7l11.5,19.8h-23.0zM258.4,1148.3l11.5,19.8h-23.0zM267.1,1143.5l11.5,19.8h-23.0zM275.8,1139.4l11.5,19.8h-23.0zM284.5,1138.2l11.5,19.8h-23.0zM293.3,1139.9l11.5,19.8h-23.0zM302.0,1143.6l11.5,19.8h-23.0zM310.7,1155.5l11.5,19.8h-23.0zM319.4,1167.1l11.5,19.8h-23.0zM328.2,1176.4l11.5,19.8h-23.0zM336.9,1167.9l11.5,19.8h-23.0zM345.6,1073.0l11.5,19.8h-23.0zM354.3,935.6l11.5,19.8h-23.0zM363.1,858.5l11.5,19.8h-23.0zM371.8,821.3l11.5,19.8h-23.0zM380.5,806.0l11.5,19.8h-23.0zM389.2,805.4l11.5,19.8h-23.0zM398.0,810.8l11.5,19.8h-23.0zM406.7,816.1l11.5,19.8h-23.0zM415.4,821.5l11.5,19.8h-23.0zM424.1,825.7l11.5,19.8h-23.0zM432.9,829.1l11.5,19.8h-23.0zM441.6,832.4l11.5,19.8h-23.0zM450.3,836.9l11.5,19.8h-23.0zM459.0,840.3l11.5,19.8h-23.0zM467.8,840.3l11.5,19.8h-23.0zM476.5,843.1l11.5,19.8h-23.0zM485.2,851.0l11.5,19.8h-23.0zM493.9,862.5l11.5,19.8h-23.0zM502.7,876.6l11.5,19.8h-23.0zM511.4,901.7l11.5,19.8h-23.0zM520.1,938.0l11.5,19.8h-23.0zM528.8,997.5l11.5,19.8h-23.0zM537.6,1055.6l11.5,19.8h-23.0zM546.3,1112.9l11.5,19.8h-23.0zM555.0,1150.9l11.5,19.8h-23.0zM563.7,1173.2l11.5,19.8h-23.0zM572.5,1183.2l11.5,19.8h-23.0zM581.2,1184.9l11.5,19.8h-23.0zM589.9,1184.9l11.5,19.8h-23.0zM598.6,1184.9l11.5,19.8h-23.0zM607.4,1184.9l11.5,19.8h-23.0zM616.1,1184.9l11.5,19.8h-23.0zM624.8,1184.9l11.5,19.8h-23.0zM633.5,1184.9l11.5,19.8h-23.0zM642.3,1184.9l11.5,19.8h-23.0zM651.0,1184.9l11.5,19.8h-23.0zM659.7,1184.9l11.5,19.8h-23.0zM668.4,1184.9l11.5,19.8h-23.0zM677.2,1184.9l11.5,19.8h-23.0zM685.9,1184.9l11.5,19.8h-23.0zM694.6,1184.9l11.5,19.8h-23.0zM703.3,1184.9l11.5,19.8h-23.0zM712.1,1184.9l11.5,19.8h-23.0zM720.8,1181.0l11.5,19.8h-23.0zM729.5,1172.4l11.5,19.8h-23.0zM738.2,1163.2l11.5,19.8h-23.0zM747.0,1154.6l11.5,19.8h-23.0zM755.7,1146.7l11.5,19.8h-23.0zM764.4,1139.9l11.5,19.8h-23.0zM773.1,1138.4l11.5,19.8h-23.0zM781.9,1142.0l11.5,19.8h-23.0zM790.6,1150.1l11.5,19.8h-23.0z" stroke="#0000ff" stroke-width="1.4"/>
<path d="M172.4,1185.8L175.0,1192.7L182.4,1193.0L176.6,1197.6L178.5,1204.8L172.4,1200.7L166.2,1204.8L168.2,1197.6L162.4,1193.0L169.8,1192.7zM181.1,1182.7L183.7,1189.6L191.1,1189.9L185.3,1194.5L187.3,1201.6L181.1,1197.6L174.9,1201.6L176.9,1194.5L171.1,1189.9L178.5,1189.6zM189.8,1179.6L192.4,1186.6L199.8,1186.9L194.0,1191.5L196.0,1198.6L189.8,1194.5L183.6,1198.6L185.6,1191.5L179.8,1186.9L187.2,1186.6zM198.5,1176.7L201.1,1183.7L208.5,1184.0L202.7,1188.6L204.7,1195.7L198.5,1191.6L192.4,1195.7L194.3,1188.6L188.6,1184.0L195.9,1183.7zM207.3,1173.9L209.9,1180.8L217.2,1181.2L211.5,1185.8L213.4,1192.9L207.3,1188.8L201.1,1192.9L203.1,1185.8L197.3,1181.2L204.7,1180.8zM216.0,1171.2L218.6,1178.1L226.0,1178.4L220.2,1183.0L222.2,1190.2L216.0,1186.1L209.8,1190.2L211.8,1183.0L206.0,1178.4L213.4,1178.1zM224.7,1168.5L227.3,1175.4L234.7,1175.8L228.9,1180.4L230.9,1187.5L224.7,1183.4L218.5,1187.5L220.5,1180.4L214.7,1175.8L222.1,1175.4zM233.4,1166.0L236.0,1172.9L243.4,1173.2L237.6,1177.8L239.6,1184.9L233.4,1180.9L227.3,1184.9L229.2,1177.8L223.5,1173.2L230.8,1172.9zM242.2,1163.5L244.8,1170.4L252.1,1170.7L246.4,1175.3L248.3,1182.5L242.2,1178.4L236.0,1182.5L238.0,1175.3L232.2,1170.7L239.6,1170.4zM250.9,1160.9L253.5,1167.9L260.9,1168.2L255.1,1172.8L257.1,1179.9L250.9,1175.9L244.7,1179.9L246.7,1172.8L240.9,1168.2L248.3,1167.9zM259.6,1158.1L262.2,1165.0L269.6,1165.3L263.8,1169.9L265.8,1177.1L259.6,1173.0L253.4,1177.1L255.4,1169.9L249.6,1165.3L257.0,1165.0zM268.3,1155.5L270.9,1162.4L278.3,1162.7L272.5,1167.3L274.5,1174.5L268.3,1170.4L262.2,1174.5L264.1,1167.3L258.4,1162.7L265.7,1162.4zM277.1,1153.9L279.7,1160.8L287.0,1161.1L281.3,1165.7L283.2,1172.9L277.1,1168.8L270.9,1172.9L272.9,1165.7L267.1,1161.1L274.5,1160.8zM285.8,1154.1L288.4,1161.0L295.8,1161.3L290.0,1165.9L292.0,1173.1L285.8,1169.0L279.6,1173.1L281.6,1165.9L275.8,1161.3L283.2,1161.0zM294.5,1156.1L297.1,1163.1L304.5,1163.4L298.7,1168.0L300.7,1175.1L294.5,1171.0L288.3,1175.1L290.3,1168.0L284.5,1163.4L291.9,1163.1zM303.2,1159.7L305.8,1166.6L313.2,1166.9L307.4,1171.5L309.4,1178.6L303.2,1174.6L297.1,1178.6L299.0,1171.5L293.3,1166.9L300.6,1166.6zM312.0,1168.1L314.6,1175.0L321.9,1175.4L316.2,1180.0L318.1,1187.1L312.0,1183.0L305.8,1187.1L307.8,1180.0L302.0,1175.4L309.4,1175.0zM320.7,1176.7L323.3,1183.7L330.7,1184.0L324.9,1188.6L326.9,1195.7L320.7,1191.6L314.5,1195.7L316.5,1188.6L310.7,1184.0L318.1,1183.7zM329.4,1182.4L332.0,1189.3L339.4,1189.6L333.6,1194.2L335.6,1201.4L329.4,1197.3L323.2,1201.4L325.2,1194.2L319.4,1189.6L326.8,1189.3zM338.1,1175.1L340.7,1182.1L348.1,1182.4L342.3,1187.0L344.3,1194.1L338.1,1190.1L332.0,1194.1L333.9,1187.0L328.1,1182.4L335.5,1182.1zM346.9,1087.5L349.5,1094.4L356.8,1094.8L351.1,1099.4L353.0,1106.5L346.9,1102.4L340.7,1106.5L342.7,1099.4L336.9,1094.8L344.3,1094.4zM355.6,932.6L358.2,939.6L365.6,939.9L359.8,944.5L361.8,951.6L355.6,947.5L349.4,951.6L351.4,944.5L345.6,939.9L353.0,939.6zM364.3,862.9L366.9,869.8L374.3,870.1L368.5,874.7L370.5,881.9L364.3,877.8L358.1,881.9L360.1,874.7L354.3,870.1L361.7,869.8zM373.0,835.3L375.6,842.2L383.0,842.5L377.2,847.1L379.2,854.3L373.0,850.2L366.9,854.3L368.8,847.1L363.0,842.5L370.4,842.2zM381.8,826.0L384.4,832.9L391.7,833.2L386.0,837.8L387.9,845.0L381.8,840.9L375.6,845.0L377.6,837.8L371.8,833.2L379.2,832.9zM390.5,832.2L393.1,839.1L400.5,839.4L394.7,844.0L396.7,851.2L390.5,847.1L384.3,851.2L386.3,844.0L380.5,839.4L387.9,839.1zM399.2,845.2L401.8,852.1L409.2,852.4L403.4,857.0L405.4,864.2L399.2,860.1L393.0,864.2L395.0,857.0L389.2,852.4L396.6,852.1zM407.9,860.4L410.5,867.3L417.9,867.6L412.1,872.2L414.1,879.4L407.9,875.3L401.8,879.4L403.7,872.2L397.9,867.6L405.3,867.3zM416.7,872.3L419.3,879.2L426.6,879.6L420.9,884.2L422.8,891.3L416.7,887.2L410.5,891.3L412.5,884.2L406.7,879.6L414.1,879.2zM425.4,883.3L428.0,890.2L435.4,890.6L429.6,895.2L431.6,902.3L425.4,898.2L419.2,902.3L421.2,895.2L415.4,890.6L422.8,890.2zM434.1,894.2L436.7,901.1L444.1,901.4L438.3,906.0L440.3,913.2L434.1,909.1L427.9,913.2L429.9,906.0L424.1,901.4L431.5,901.1zM442.8,904.8L445.4,911.7L452.8,912.0L447.0,916.6L449.0,923.8L442.8,919.7L436.7,923.8L438.6,916.6L432.8,912.0L440.2,911.7zM451.6,914.8L454.2,921.8L461.5,922.1L455.8,926.7L457.7,933.8L451.6,929.8L445.4,933.8L447.4,926.7L441.6,922.1L449.0,921.8zM460.3,922.9L462.9,929.8L470.3,930.1L464.5,934.7L466.5,941.9L460.3,937.8L454.1,941.9L456.1,934.7L450.3,930.1L457.7,929.8zM469.0,932.6L471.6,939.5L479.0,939.8L473.2,944.4L475.2,951.6L469.0,947.5L462.8,951.6L464.8,944.4L459.0,939.8L466.4,939.5zM477.7,945.9L480.3,952.8L487.7,953.2L481.9,957.8L483.9,964.9L477.7,960.8L471.6,964.9L473.5,957.8L467.7,953.2L475.1,952.8zM486.5,959.3L489.0,966.2L496.4,966.5L490.7,971.1L492.6,978.2L486.5,974.2L480.3,978.2L482.3,971.1L476.5,966.5L483.9,966.2zM495.2,978.3L497.8,985.2L505.2,985.5L499.4,990.1L501.4,997.3L495.2,993.2L489.0,997.3L491.0,990.1L485.2,985.5L492.6,985.2zM503.9,1000.3L506.5,1007.2L513.9,1007.5L508.1,1012.1L510.1,1019.3L503.9,1015.2L497.7,1019.3L499.7,1012.1L493.9,1007.5L501.3,1007.2zM512.6,1034.8L515.2,1041.7L522.6,1042.1L516.8,1046.7L518.8,1053.8L512.6,1049.7L506.5,1053.8L508.4,1046.7L502.6,1042.1L510.0,1041.7zM521.4,1077.4L523.9,1084.3L531.3,1084.6L525.6,1089.3L527.5,1096.4L521.4,1092.3L515.2,1096.4L517.2,1089.3L511.4,1084.6L518.8,1084.3zM530.1,1114.0L532.7,1120.9L540.1,1121.3L534.3,1125.9L536.3,1133.0L530.1,1128.9L523.9,1133.0L525.9,1125.9L520.1,1121.3L527.5,1120.9zM538.8,1142.3L541.4,1149.3L548.8,1149.6L543.0,1154.2L545.0,1161.3L538.8,1157.2L532.6,1161.3L534.6,1154.2L528.8,1149.6L536.2,1149.3zM547.5,1162.6L550.1,1169.5L557.5,1169.9L551.7,1174.5L553.7,1181.6L547.5,1177.5L541.4,1181.6L543.3,1174.5L537.5,1169.9L544.9,1169.5zM556.3,1176.0L558.8,1182.9L566.2,1183.2L560.4,1187.8L562.4,1195.0L556.3,1190.9L550.1,1195.0L552.1,1187.8L546.3,1183.2L553.7,1182.9zM565.0,1183.5L567.6,1190.5L575.0,1190.8L569.2,1195.4L571.2,1202.5L565.0,1198.4L558.8,1202.5L560.8,1195.4L555.0,1190.8L562.4,1190.5zM573.7,1185.4L576.3,1192.3L583.7,1192.6L577.9,1197.2L579.9,1204.4L573.7,1200.3L567.5,1204.4L569.5,1197.2L563.7,1192.6L571.1,1192.3zM582.4,1185.4L585.0,1192.3L592.4,1192.6L586.6,1197.2L588.6,1204.4L582.4,1200.3L576.3,1204.4L578.2,1197.2L572.4,1192.6L579.8,1192.3zM591.2,1185.4L593.7,1192.3L601.1,1192.6L595.3,1197.2L597.3,1204.4L591.2,1200.3L585.0,1204.4L587.0,1197.2L581.2,1192.6L588.6,1192.3zM599.9,1185.4L602.5,1192.3L609.9,1192.6L604.1,1197.2L606.1,1204.4L599.9,1200.3L593.7,1204.4L595.7,1197.2L589.9,1192.6L597.3,1192.3zM608.6,1185.4L611.2,1192.3L618.6,1192.6L612.8,1197.2L614.8,1204.4L608.6,1200.3L602.4,1204.4L604.4,1197.2L598.6,1192.6L606.0,1192.3zM617.3,1185.4L619.9,1192.3L627.3,1192.6L621.5,1197.2L623.5,1204.4L617.3,1200.3L611.2,1204.4L613.1,1197.2L607.3,1192.6L614.7,1192.3zM626.1,1185.4L628.6,1192.3L636.0,1192.6L630.2,1197.2L632.2,1204.4L626.1,1200.3L619.9,1204.4L621.9,1197.2L616.1,1192.6L623.5,1192.3zM634.8,1185.4L637.4,1192.3L644.8,1192.6L639.0,1197.2L641.0,1204.4L634.8,1200.3L628.6,1204.4L630.6,1197.2L624.8,1192.6L632.2,1192.3zM643.5,1185.4L646.1,1192.3L653.5,1192.6L647.7,1197.2L649.7,1204.4L643.5,1200.3L637.3,1204.4L639.3,1197.2L633.5,1192.6L640.9,1192.3zM652.2,1185.4L654.8,1192.3L662.2,1192.6L656.4,1197.2L658.4,1204.4L652.2,1200.3L646.1,1204.4L648.0,1197.2L642.2,1192.6L649.6,1192.3zM661.0,1185.4L663.5,1192.3L670.9,1192.6L665.1,1197.2L667.1,1204.4L661.0,1200.3L654.8,1204.4L656.8,1197.2L651.0,1192.6L658.4,1192.3zM669.7,1185.4L672.3,1192.3L679.7,1192.6L673.9,1197.2L675.8,1204.4L669.7,1200.3L663.5,1204.4L665.5,1197.2L659.7,1192.6L667.1,1192.3zM678.4,1185.4L681.0,1192.3L688.4,1192.6L682.6,1197.2L684.6,1204.4L678.4,1200.3L672.2,1204.4L674.2,1197.2L668.4,1192.6L675.8,1192.3zM687.1,1185.4L689.7,1192.3L697.1,1192.6L691.3,1197.2L693.3,1204.4L687.1,1200.3L681.0,1204.4L682.9,1197.2L677.1,1192.6L684.5,1192.3zM695.9,1185.4L698.4,1192.3L705.8,1192.6L700.0,1197.2L702.0,1204.4L695.9,1200.3L689.7,1204.4L691.7,1197.2L685.9,1192.6L693.3,1192.3zM704.6,1185.4L707.2,1192.3L714.6,1192.6L708.8,1197.2L710.7,1204.4L704.6,1200.3L698.4,1204.4L700.4,1197.2L694.6,1192.6L702.0,1192.3zM713.3,1185.4L715.9,1192.3L723.3,1192.6L717.5,1197.2L719.5,1204.4L713.3,1200.3L707.1,1204.4L709.1,1197.2L703.3,1192.6L710.7,1192.3zM722.0,1185.4L724.6,1192.3L732.0,1192.6L726.2,1197.2L728.2,1204.4L722.0,1200.3L715.9,1204.4L717.8,1197.2L712.0,1192.6L719.4,1192.3zM730.8,1185.4L733.3,1192.3L740.7,1192.6L734.9,1197.2L736.9,1204.4L730.8,1200.3L724.6,1204.4L726.6,1197.2L720.8,1192.6L728.2,1192.3zM739.5,1184.5L742.1,1191.4L749.5,1191.7L743.7,1196.3L745.6,1203.5L739.5,1199.4L733.3,1203.5L735.3,1196.3L729.5,1191.7L736.9,1191.4zM748.2,1176.3L750.8,1183.2L758.2,1183.6L752.4,1188.2L754.4,1195.3L748.2,1191.2L742.0,1195.3L744.0,1188.2L738.2,1183.6L745.6,1183.2zM756.9,1169.9L759.5,1176.8L766.9,1177.1L761.1,1181.7L763.1,1188.9L756.9,1184.8L750.8,1188.9L752.7,1181.7L746.9,1177.1L754.3,1176.8zM765.7,1163.8L768.2,1170.8L775.6,1171.1L769.8,1175.7L771.8,1182.8L765.7,1178.8L759.5,1182.8L761.5,1175.7L755.7,1171.1L763.1,1170.8zM774.4,1157.9L777.0,1164.9L784.4,1165.2L778.6,1169.8L780.5,1176.9L774.4,1172.9L768.2,1176.9L770.2,1169.8L764.4,1165.2L771.8,1164.9zM783.1,1152.5L785.7,1159.4L793.1,1159.7L787.3,1164.3L789.3,1171.5L783.1,1167.4L776.9,1171.5L778.9,1164.3L773.1,1159.7L780.5,1159.4z" stroke="#ff00ff" stroke-width="1.4"/>
<path d="M182.7,1203.0L173.6,1208.2L164.5,1203.0L164.5,1192.5L173.6,1187.2L182.7,1192.5zM191.4,1201.9L182.3,1207.1L173.2,1201.9L173.2,1191.4L182.3,1186.1L191.4,1191.4zM200.2,1200.6L191.1,1205.9L182.0,1200.6L182.0,1190.1L191.1,1184.9L200.2,1190.1zM208.9,1199.3L199.8,1204.6L190.7,1199.3L190.7,1188.8L199.8,1183.6L208.9,1188.8zM217.6,1197.9L208.5,1203.2L199.4,1197.9L199.4,1187.4L208.5,1182.2L217.6,1187.4zM226.3,1196.4L217.2,1201.7L208.1,1196.4L208.1,1185.9L217.2,1180.7L226.3,1185.9zM235.1,1194.9L226.0,1200.1L216.9,1194.9L216.9,1184.4L226.0,1179.1L235.1,1184.4zM243.8,1193.2L234.7,1198.5L225.6,1193.2L225.6,1182.7L234.7,1177.5L243.8,1182.7zM252.5,1191.6L243.4,1196.8L234.3,1191.6L234.3,1181.1L243.4,1175.8L252.5,1181.1zM261.2,1189.6L252.1,1194.8L243.0,1189.6L243.0,1179.1L252.1,1173.8L261.2,1179.1zM270.0,1186.9L260.9,1192.2L251.8,1186.9L251.8,1176.4L260.9,1171.2L270.0,1176.4zM278.7,1184.9L269.6,1190.2L260.5,1184.9L260.5,1174.4L269.6,1169.2L278.7,1174.4zM287.4,1184.7L278.3,1189.9L269.2,1184.7L269.2,1174.2L278.3,1168.9L287.4,1174.2zM296.1,1185.8L287.0,1191.1L277.9,1185.8L277.9,1175.3L287.0,1170.1L296.1,1175.3zM304.9,1187.7L295.8,1193.0L286.7,1187.7L286.7,1177.2L295.8,1172.0L304.9,1177.2zM313.6,1190.7L304.5,1196.0L295.4,1190.7L295.4,1180.2L304.5,1175.0L313.6,1180.2zM322.3,1197.0L313.2,1202.2L304.1,1197.0L304.1,1186.5L313.2,1181.2L322.3,1186.5zM331.0,1201.6L321.9,1206.8L312.8,1201.6L312.8,1191.1L321.9,1185.8L331.0,1191.1zM339.8,1200.9L330.7,1206.2L321.6,1200.9L321.6,1190.4L330.7,1185.2L339.8,1190.4zM348.5,1187.6L339.4,1192.9L330.3,1187.6L330.3,1177.1L339.4,1171.9L348.5,1177.1zM357.2,1113.6L348.1,1118.9L339.0,1113.6L339.0,1103.1L348.1,1097.9L357.2,1103.1zM365.9,999.8L356.8,1005.1L347.7,999.8L347.7,989.3L356.8,984.1L365.9,989.3zM374.6,936.5L365.6,941.7L356.5,936.5L356.5,926.0L365.6,920.7L374.6,926.0zM383.4,893.7L374.3,899.0L365.2,893.7L365.2,883.2L374.3,878.0L383.4,883.2zM392.1,882.8L383.0,888.1L373.9,882.8L373.9,872.3L383.0,867.1L392.1,872.3zM400.8,895.6L391.7,900.8L382.6,895.6L382.6,885.1L391.7,879.8L400.8,885.1zM409.5,917.8L400.5,923.1L391.4,917.8L391.4,907.3L400.5,902.1L409.5,907.3zM418.3,944.1L409.2,949.3L400.1,944.1L400.1,933.6L409.2,928.3L418.3,933.6zM427.0,966.9L417.9,972.1L408.8,966.9L408.8,956.4L417.9,951.1L427.0,956.4zM435.7,988.2L426.6,993.4L417.5,988.2L417.5,977.7L426.6,972.4L435.7,977.7zM444.4,1007.6L435.4,1012.8L426.3,1007.6L426.3,997.1L435.4,991.8L444.4,997.1zM453.2,1025.5L444.1,1030.7L435.0,1025.5L435.0,1015.0L444.1,1009.7L453.2,1015.0zM461.9,1040.5L452.8,1045.7L443.7,1040.5L443.7,1030.0L452.8,1024.7L461.9,1030.0zM470.6,1050.9L461.5,1056.2L452.4,1050.9L452.4,1040.4L461.5,1035.2L470.6,1040.4zM479.3,1063.8L470.3,1069.0L461.2,1063.8L461.2,1053.3L470.3,1048.0L479.3,1053.3zM488.1,1080.0L479.0,1085.3L469.9,1080.0L469.9,1069.5L479.0,1064.3L488.1,1069.5zM496.8,1094.8L487.7,1100.1L478.6,1094.8L478.6,1084.3L487.7,1079.1L496.8,1084.3zM505.5,1111.5L496.4,1116.7L487.3,1111.5L487.3,1101.0L496.4,1095.7L505.5,1101.0zM514.2,1129.1L505.2,1134.4L496.1,1129.1L496.1,1118.6L505.2,1113.4L514.2,1118.6zM523.0,1146.6L513.9,1151.9L504.8,1146.6L504.8,1136.1L513.9,1130.9L523.0,1136.1zM531.7,1162.8L522.6,1168.1L513.5,1162.8L513.5,1152.3L522.6,1147.1L531.7,1152.3zM540.4,1176.4L531.3,1181.6L522.2,1176.4L522.2,1165.9L531.3,1160.6L540.4,1165.9zM549.1,1187.1L540.1,1192.4L531.0,1187.1L531.0,1176.6L540.1,1171.4L549.1,1176.6zM557.9,1195.2L548.8,1200.4L539.7,1195.2L539.7,1184.7L548.8,1179.4L557.9,1184.7zM566.6,1200.9L557.5,1206.2L548.4,1200.9L548.4,1190.4L557.5,1185.2L566.6,1190.4zM575.3,1201.1L566.2,1206.4L557.1,1201.1L557.1,1190.6L566.2,1185.4L575.3,1190.6zM584.0,1201.1L575.0,1206.4L565.9,1201.1L565.9,1190.6L575.0,1185.4L584.0,1190.6zM592.8,1201.1L583.7,1206.4L574.6,1201.1L574.6,1190.6L583.7,1185.4L592.8,1190.6zM601.5,1201.1L592.4,1206.4L583.3,1201.1L583.3,1190.6L592.4,1185.4L601.5,1190.6zM610.2,1201.1L601.1,1206.4L592.0,1201.1L592.0,1190.6L601.1,1185.4L610.2,1190.6zM618.9,1201.1L609.9,1206.4L600.8,1201.1L600.8,1190.6L609.9,1185.4L618.9,1190.6zM627.7,1201.1L618.6,1206.4L609.5,1201.1L609.5,1190.6L618.6,1185.4L627.7,1190.6zM636.4,1201.1L627.3,1206.4L618.2,1201.1L618.2,1190.6L627.3,1185.4L636.4,1190.6zM645.1,1201.1L636.0,1206.4L626.9,1201.1L626.9,1190.6L636.0,1185.4L645.1,1190.6zM653.8,1201.1L644.8,1206.4L635.7,1201.1L635.7,1190.6L644.8,1185.4L653.8,1190.6zM662.6,1201.1L653.5,1206.4L644.4,1201.1L644.4,1190.6L653.5,1185.4L662.6,1190.6zM671.3,1201.1L662.2,1206.4L653.1,1201.1L653.1,1190.6L662.2,1185.4L671.3,1190.6zM680.0,1201.1L670.9,1206.4L661.8,1201.1L661.8,1190.6L670.9,1185.4L680.0,1190.6zM688.7,1201.1L679.6,1206.4L670.6,1201.1L670.6,1190.6L679.6,1185.4L688.7,1190.6zM697.5,1201.1L688.4,1206.4L679.3,1201.1L679.3,1190.6L688.4,1185.4L697.5,1190.6zM706.2,1201.1L697.1,1206.4L688.0,1201.1L688.0,1190.6L697.1,1185.4L706.2,1190.6zM714.9,1201.1L705.8,1206.4L696.7,1201.1L696.7,1190.6L705.8,1185.4L714.9,1190.6zM723.6,1201.1L714.5,1206.4L705.5,1201.1L705.5,1190.6L714.5,1185.4L723.6,1190.6zM732.4,1201.1L723.3,1206.4L714.2,1201.1L714.2,1190.6L723.3,1185.4L732.4,1190.6zM741.1,1201.1L732.0,1206.4L722.9,1201.1L722.9,1190.6L732.0,1185.4L741.1,1190.6zM749.8,1201.1L740.7,1206.4L731.6,1201.1L731.6,1190.6L740.7,1185.4L749.8,1190.6zM758.5,1201.0L749.4,1206.2L740.4,1201.0L740.4,1190.5L749.4,1185.2L758.5,1190.5zM767.3,1197.1L758.2,1202.4L749.1,1197.1L749.1,1186.6L758.2,1181.4L767.3,1186.6zM776.0,1192.6L766.9,1197.9L757.8,1192.6L757.8,1182.1L766.9,1176.9L776.0,1182.1zM784.7,1187.3L775.6,1192.5L766.5,1187.3L766.5,1176.8L775.6,1171.5L784.7,1176.8zM793.4,1181.0L784.3,1186.3L775.3,1181.0L775.3,1170.5L784.3,1165.3L793.4,1170.5z" stroke="#00ff00" stroke-width="1.4"/>
</g>
<rect x="592" y="734.3" width="199.79999999999995" height="409.29999999999995" fill="#fff" stroke="#555" stroke-width="1.5"/>
<line x1="613.4" y1="796.7" x2="668" y2="796.7" stroke="#000000" stroke-width="4.2"/>
<text transform="translate(674,803.7) scale(1.07,1)" font-family="'Liberation Serif', 'Times New Roman', serif" font-size="22" fill="#111"><tspan font-style="italic">E</tspan><tspan font-size="14" dy="6" font-style="italic">F</tspan><tspan dy="-6">=0.9eV</tspan></text>
<line x1="613.4" y1="833.1" x2="668" y2="833.1" stroke="#ff8000" stroke-width="4.2"/>
<text transform="translate(674,840.1) scale(1.07,1)" font-family="'Liberation Serif', 'Times New Roman', serif" font-size="22" fill="#111"><tspan font-style="italic">E</tspan><tspan font-size="14" dy="6" font-style="italic">F</tspan><tspan dy="-6">=0.7eV</tspan></text>
<line x1="613.4" y1="869.5" x2="668" y2="869.5" stroke="#0000ff" stroke-width="4.2"/>
<text transform="translate(674,876.5) scale(1.07,1)" font-family="'Liberation Serif', 'Times New Roman', serif" font-size="22" fill="#111"><tspan font-style="italic">E</tspan><tspan font-size="14" dy="6" font-style="italic">F</tspan><tspan dy="-6">=0.51eV</tspan></text>
<line x1="613.4" y1="905.9000000000001" x2="668" y2="905.9000000000001" stroke="#ff00ff" stroke-width="4.2"/>
<text transform="translate(674,912.9) scale(1.07,1)" font-family="'Liberation Serif', 'Times New Roman', serif" font-size="22" fill="#111"><tspan font-style="italic">E</tspan><tspan font-size="14" dy="6" font-style="italic">F</tspan><tspan dy="-6">=0.36eV</tspan></text>
<line x1="613.4" y1="942.3000000000001" x2="668" y2="942.3000000000001" stroke="#00ff00" stroke-width="4.2"/>
<text transform="translate(674,949.3) scale(1.07,1)" font-family="'Liberation Serif', 'Times New Roman', serif" font-size="22" fill="#111"><tspan font-style="italic">E</tspan><tspan font-size="14" dy="6" font-style="italic">F</tspan><tspan dy="-6">=0.24eV</tspan></text>
<rect x="632.2" y="970.2" width="17.0" height="17.0" stroke="#000000" fill="none" stroke-width="1.6"/>
<text transform="translate(674,985.7) scale(1.07,1)" font-family="'Liberation Serif', 'Times New Roman', serif" font-size="22" fill="#111"><tspan font-style="italic">E</tspan><tspan font-size="14" dy="6" font-style="italic">F</tspan><tspan dy="-6">=0.9eV</tspan></text>
<circle cx="640.7" cy="1015.1" r="9.5" stroke="#ff8000" fill="none" stroke-width="1.6"/>
<text transform="translate(674,1022.1) scale(1.07,1)" font-family="'Liberation Serif', 'Times New Roman', serif" font-size="22" fill="#111"><tspan font-style="italic">E</tspan><tspan font-size="14" dy="6" font-style="italic">F</tspan><tspan dy="-6">=0.7eV</tspan></text>
<path d="M640.7,1040.5 L652.2,1060.3 L629.2,1060.3 Z" stroke="#0000ff" fill="none" stroke-width="1.6"/>
<text transform="translate(674,1058.5) scale(1.07,1)" font-family="'Liberation Serif', 'Times New Roman', serif" font-size="22" fill="#111"><tspan font-style="italic">E</tspan><tspan font-size="14" dy="6" font-style="italic">F</tspan><tspan dy="-6">=0.51eV</tspan></text>
<path d="M640.7,1077.4 L643.3,1084.3 L650.7,1084.7 L644.9,1089.3 L646.9,1096.4 L640.7,1092.3 L634.5,1096.4 L636.5,1089.3 L630.7,1084.7 L638.1,1084.3 Z" stroke="#ff00ff" fill="none" stroke-width="1.6"/>
<text transform="translate(674,1094.9) scale(1.07,1)" font-family="'Liberation Serif', 'Times New Roman', serif" font-size="22" fill="#111"><tspan font-style="italic">E</tspan><tspan font-size="14" dy="6" font-style="italic">F</tspan><tspan dy="-6">=0.36eV</tspan></text>
<path d="M649.8,1129.5 L640.7,1134.8 L631.6,1129.5 L631.6,1119.0 L640.7,1113.8 L649.8,1119.0 Z" stroke="#00ff00" fill="none" stroke-width="1.6"/>
<text transform="translate(674,1131.3) scale(1.07,1)" font-family="'Liberation Serif', 'Times New Roman', serif" font-size="22" fill="#111"><tspan font-style="italic">E</tspan><tspan font-size="14" dy="6" font-style="italic">F</tspan><tspan dy="-6">=0.24eV</tspan></text>
<rect x="168.6" y="734.3" width="623.1999999999999" height="463.5" fill="none" stroke="#555" stroke-width="2.2"/>
<path d="M168.6,1197.8 v-9 M293.2,1197.8 v-9 M417.9,1197.8 v-9 M542.5,1197.8 v-9 M667.2,1197.8 v-9 M791.8,1197.8 v-9 M199.8,1197.8 v-5 M230.9,1197.8 v-5 M262.1,1197.8 v-5 M324.4,1197.8 v-5 M355.6,1197.8 v-5 M386.7,1197.8 v-5 M449.0,1197.8 v-5 M480.2,1197.8 v-5 M511.4,1197.8 v-5 M573.7,1197.8 v-5 M604.8,1197.8 v-5 M636.0,1197.8 v-5 M698.3,1197.8 v-5 M729.5,1197.8 v-5 M760.6,1197.8 v-5 M168.6,1197.8 h9 M168.6,1105.1 h9 M168.6,1012.4 h9 M168.6,919.7 h9 M168.6,827.0 h9 M168.6,734.3 h9 M168.6,1174.6 h5 M168.6,1151.5 h5 M168.6,1128.3 h5 M168.6,1081.9 h5 M168.6,1058.8 h5 M168.6,1035.6 h5 M168.6,989.2 h5 M168.6,966.0 h5 M168.6,942.9 h5 M168.6,896.5 h5 M168.6,873.3 h5 M168.6,850.2 h5 M168.6,803.8 h5 M168.6,780.6 h5 M168.6,757.5 h5" stroke="#555" stroke-width="2.2" fill="none"/>
<text x="168.6" y="1238.8" font-family="'Liberation Sans', Arial, sans-serif" font-size="39" text-anchor="middle" fill="#111">0</text>
<text x="293.2" y="1238.8" font-family="'Liberation Sans', Arial, sans-serif" font-size="39" text-anchor="middle" fill="#111">2</text>
<text x="417.9" y="1238.8" font-family="'Liberation Sans', Arial, sans-serif" font-size="39" text-anchor="middle" fill="#111">4</text>
<text x="542.5" y="1238.8" font-family="'Liberation Sans', Arial, sans-serif" font-size="39" text-anchor="middle" fill="#111">6</text>
<text x="667.2" y="1238.8" font-family="'Liberation Sans', Arial, sans-serif" font-size="39" text-anchor="middle" fill="#111">8</text>
<text x="791.8" y="1238.8" font-family="'Liberation Sans', Arial, sans-serif" font-size="39" text-anchor="middle" fill="#111">10</text>
<text x="159.6" y="1208.3" font-family="'Liberation Sans', Arial, sans-serif" font-size="39" text-anchor="end" fill="#111">0.0</text>
<text x="159.6" y="1115.6" font-family="'Liberation Sans', Arial, sans-serif" font-size="39" text-anchor="end" fill="#111">0.2</text>
<text x="159.6" y="1022.9" font-family="'Liberation Sans', Arial, sans-serif" font-size="39" text-anchor="end" fill="#111">0.4</text>
<text x="159.6" y="930.2" font-family="'Liberation Sans', Arial, sans-serif" font-size="39" text-anchor="end" fill="#111">0.6</text>
<text x="159.6" y="837.5" font-family="'Liberation Sans', Arial, sans-serif" font-size="39" text-anchor="end" fill="#111">0.8</text>
<text x="159.6" y="744.8" font-family="'Liberation Sans', Arial, sans-serif" font-size="39" text-anchor="end" fill="#111">1.0</text>
<text x="480" y="1279" font-family="'Liberation Serif', 'Times New Roman', serif" font-size="39" text-anchor="middle" fill="#111">Frequency (THz)</text>
<text transform="translate(66,990) rotate(-90)" font-family="'Liberation Serif', 'Times New Roman', serif" font-size="39.5" text-anchor="middle" fill="#111">Transmission</text>
<text x="33" y="1275" font-family="'Liberation Serif', 'Times New Roman', serif" font-size="50" fill="#111">(c)</text>
<clipPath id="clipd"><rect x="1351.4" y="734" width="620.0" height="461.5"/></clipPath>
<g clip-path="url(#clipd)" fill="none" stroke-linejoin="round" stroke-linecap="round">
<path d="M1351.4,1195.0 1361.4,1194.3 1372.5,1192.1 1378.7,1189.6 1384.9,1185.2 1394.9,1176.1 1401.1,1168.5 1408.5,1156.3 1414.7,1143.1 1420.9,1125.5 1427.1,1105.0 1432.1,1086.1 1437.0,1064.8 1447.0,1015.6 1466.8,909.4 1471.8,886.2 1476.7,865.8 1482.9,845.6 1487.9,833.1 1490.4,828.9 1492.9,826.0 1495.3,824.1 1497.8,823.6 1500.3,824.6 1502.8,826.9 1505.3,830.8 1506.5,833.6 1511.5,849.9 1516.4,872.5 1521.4,902.0 1525.1,927.5 1542.5,1068.2 1552.4,1142.5 1556.1,1164.3 1559.9,1182.1 1562.3,1190.2 1563.6,1192.4 1564.8,1193.4 1566.1,1193.5 1567.3,1193.0 1569.8,1191.1 1573.5,1186.8 1576.0,1182.8 1578.5,1177.4 1588.4,1150.1 1602.0,1109.9 1608.2,1094.0 1613.2,1083.0 1620.6,1068.9 1643.0,1032.9 1650.4,1021.9 1659.1,1011.5 1696.3,972.8 1703.8,964.5 1708.7,958.0 1722.4,938.0 1750.9,901.4 1754.6,895.5 1758.4,888.0 1774.5,847.7 1777.0,842.3 1779.4,838.4 1783.2,834.4 1786.9,832.0 1790.6,831.8 1791.9,832.2 1793.1,833.4 1794.3,835.8 1795.6,839.7 1799.3,860.0 1803.0,891.1 1806.7,928.7 1810.5,983.4 1816.7,1106.5 1817.9,1125.3 1820.4,1152.8 1822.9,1172.2 1825.3,1185.6 1826.6,1189.4 1827.8,1191.1 1829.1,1190.7 1830.3,1188.3 1831.6,1184.4 1834.0,1173.0 1837.8,1150.3 1840.2,1131.9 1852.6,1005.1 1855.1,984.0 1857.6,967.0 1860.1,953.1 1863.8,936.9 1873.7,904.8 1888.6,860.6 1894.8,844.2 1902.3,828.8 1912.2,810.3 1917.2,801.9 1923.4,792.8 1932.0,781.5 1937.0,775.6 1940.7,771.9 1945.7,767.8 1951.9,763.4 1970.5,752.9" stroke="#000000" stroke-width="4.6"/>
<path d="M1351.4,1195.0 1356.4,1194.7 1361.4,1193.8 1371.3,1190.5 1377.5,1187.5 1383.7,1184.0 1394.9,1176.2 1399.8,1170.5 1404.8,1162.4 1411.0,1150.1 1417.2,1136.5 1422.1,1123.7 1428.3,1105.0 1435.8,1080.1 1442.0,1057.1 1450.7,1019.0 1469.3,925.5 1475.5,899.2 1481.7,876.6 1489.1,854.0 1497.8,834.4 1501.5,828.4 1504.0,825.8 1507.7,823.3 1511.5,821.8 1515.2,821.9 1517.7,823.0 1520.2,825.1 1522.6,829.1 1526.4,840.7 1530.1,861.1 1533.8,890.7 1537.5,925.8 1548.7,1050.3 1558.6,1147.9 1561.1,1169.0 1562.3,1176.6 1563.6,1181.4 1564.8,1183.7 1566.1,1184.0 1567.3,1183.0 1569.8,1179.2 1572.3,1173.6 1574.7,1165.3 1589.6,1089.2 1594.6,1069.2 1599.6,1053.0 1607.0,1033.1 1614.4,1016.3 1620.6,1004.7 1630.6,988.8 1635.5,982.4 1640.5,977.2 1664.1,957.0 1695.1,935.3 1738.5,903.6 1748.4,896.1 1757.1,888.8 1770.8,875.6 1795.6,849.6 1809.2,834.6 1822.9,818.5 1829.1,812.2 1832.8,809.7 1835.3,809.6 1837.8,811.1 1840.2,815.1 1841.5,818.8 1844.0,832.2 1846.4,853.6 1850.2,903.1 1852.6,956.3 1856.4,1062.2 1857.6,1082.8 1858.8,1089.5 1860.1,1083.7 1861.3,1067.0 1866.3,966.1 1870.0,923.2 1875.0,882.1 1879.9,848.7 1883.7,829.3 1888.6,810.9 1891.1,803.9 1894.8,795.4 1898.5,788.5 1902.3,782.7 1907.2,775.9 1913.4,768.3 1922.1,758.8 1928.3,753.1 1934.5,748.6 1939.5,746.7 1954.4,745.1 1970.5,744.5" stroke="#ff8000" stroke-width="4.6"/>
<path d="M1351.4,1195.0 1360.1,1194.0 1365.1,1192.5 1370.0,1190.5 1381.2,1184.3 1392.4,1176.2 1397.3,1171.2 1401.1,1165.8 1406.0,1156.6 1411.0,1146.1 1418.4,1129.3 1423.4,1116.6 1429.6,1098.8 1437.0,1075.7 1443.2,1054.2 1456.9,1002.4 1471.8,948.7 1480.5,919.6 1491.6,885.0 1499.1,864.6 1506.5,847.4 1512.7,836.2 1517.7,829.1 1520.2,826.5 1522.6,825.2 1523.9,825.3 1525.1,826.0 1527.6,828.9 1530.1,833.9 1532.6,842.2 1535.0,854.3 1538.8,879.2 1542.5,912.8 1547.4,968.6 1561.1,1152.8 1562.3,1164.7 1563.6,1172.2 1564.8,1175.5 1566.1,1175.5 1567.3,1173.2 1568.5,1169.5 1571.0,1158.0 1577.2,1110.2 1579.7,1096.6 1582.2,1086.4 1597.1,1032.5 1608.2,998.1 1613.2,985.6 1616.9,978.6 1620.6,972.8 1624.4,967.8 1629.3,962.0 1635.5,956.2 1643.0,950.4 1662.8,937.4 1685.2,921.8 1695.1,915.4 1718.7,901.4 1737.3,889.8 1750.9,880.7 1763.3,871.6 1779.4,858.6 1796.8,843.5 1810.5,830.4 1827.8,811.3 1834.0,806.0 1846.4,796.5 1853.9,789.1 1856.4,787.4 1857.6,787.3 1860.1,788.2 1862.6,790.9 1865.0,796.9 1866.3,802.0 1867.5,809.0 1870.0,829.2 1875.0,880.7 1876.2,888.8 1877.5,892.0 1878.7,890.3 1879.9,884.4 1887.4,819.0 1891.1,794.2 1893.6,783.4 1896.1,775.9 1898.5,770.2 1902.3,763.3 1907.2,756.5 1912.2,751.9 1917.2,748.8 1925.8,745.3 1933.3,743.3 1940.7,742.1 1956.9,740.5 1970.5,740.0" stroke="#0000ff" stroke-width="4.6"/>
<path d="M1351.4,1195.0 1356.4,1194.6 1360.1,1193.8 1368.8,1190.5 1378.7,1184.7 1391.1,1175.2 1396.1,1170.5 1399.8,1165.6 1404.8,1157.1 1411.0,1144.6 1418.4,1128.4 1423.4,1116.1 1429.6,1099.1 1437.0,1076.8 1443.2,1056.2 1456.9,1006.4 1473.0,950.2 1484.2,914.7 1494.1,885.5 1501.5,867.1 1511.5,847.4 1517.7,838.1 1525.1,830.2 1527.6,828.7 1528.8,828.5 1530.1,828.8 1531.3,829.9 1532.6,831.8 1535.0,837.9 1537.5,847.7 1538.8,854.4 1542.5,880.8 1546.2,914.9 1551.2,971.8 1556.1,1043.8 1561.1,1133.7 1562.3,1150.0 1563.6,1160.4 1564.8,1164.7 1566.1,1163.9 1567.3,1159.7 1569.8,1145.3 1576.0,1087.9 1577.2,1079.4 1578.5,1073.5 1583.4,1059.5 1584.7,1055.0 1589.6,1031.7 1593.4,1016.9 1602.0,989.2 1610.7,966.5 1614.4,959.0 1618.2,952.9 1623.1,945.8 1628.1,940.0 1633.1,935.7 1640.5,931.0 1662.8,920.9 1690.1,905.6 1723.6,889.7 1742.2,879.3 1759.6,868.2 1777.0,855.4 1798.1,839.0 1805.5,832.6 1809.2,828.9 1812.9,824.3 1825.3,805.3 1829.1,801.3 1835.3,796.2 1851.4,785.8 1862.6,777.4 1868.8,774.1 1871.3,773.7 1873.7,774.0 1876.2,775.3 1881.2,778.7 1882.4,779.2 1883.7,779.1 1884.9,778.2 1887.4,774.5 1893.6,762.2 1896.1,758.2 1901.0,752.5 1906.0,748.9 1917.2,744.1 1922.1,742.9 1927.1,742.3 1940.7,742.4 1951.9,743.0 1960.6,744.1 1970.5,746.3" stroke="#ff00ff" stroke-width="4.6"/>
<path d="M1351.4,1195.0 1355.2,1194.7 1360.1,1193.6 1371.3,1189.4 1377.5,1186.1 1384.9,1180.0 1393.6,1170.9 1399.8,1162.7 1406.0,1152.4 1414.7,1135.5 1419.7,1124.7 1424.6,1112.5 1438.3,1074.2 1445.7,1050.5 1475.5,950.3 1486.7,916.1 1495.3,891.4 1506.5,864.1 1514.0,848.4 1516.4,844.3 1520.2,839.5 1523.9,835.6 1527.6,833.0 1530.1,832.5 1531.3,832.8 1533.8,834.3 1536.3,837.9 1537.5,841.1 1538.8,845.7 1541.2,858.4 1545.0,884.8 1548.7,920.7 1552.4,965.9 1556.1,1023.3 1561.1,1121.0 1562.3,1139.0 1563.6,1150.2 1564.8,1154.2 1566.1,1152.0 1567.3,1145.5 1576.0,1077.6 1579.7,1051.4 1584.7,1022.4 1589.6,997.7 1594.6,980.7 1598.3,970.9 1602.0,962.6 1610.7,948.0 1619.4,936.0 1624.4,930.4 1628.1,926.9 1631.8,924.1 1636.8,921.1 1643.0,918.2 1659.1,912.2 1665.3,909.5 1691.4,895.3 1744.7,870.4 1753.4,865.8 1759.6,862.0 1770.8,853.9 1800.5,830.9 1806.7,825.7 1812.9,819.2 1822.9,805.8 1826.6,801.5 1830.3,798.0 1836.5,793.2 1851.4,783.6 1861.3,776.7 1866.3,774.2 1868.8,773.8 1870.0,774.0 1871.3,774.6 1875.0,778.1 1876.2,778.5 1877.5,778.0 1878.7,776.3 1883.7,764.9 1886.1,761.1 1888.6,758.2 1892.3,754.9 1898.5,751.5 1907.2,748.2 1914.7,746.8 1927.1,747.2 1938.2,748.8 1942.0,750.8 1945.7,755.0 1949.4,761.1 1953.1,769.7 1955.6,778.0 1958.1,789.2 1960.6,806.1 1961.8,818.4 1965.5,873.3 1970.5,967.9" stroke="#00ff00" stroke-width="4.6"/>
</g>
<rect x="1798.5" y="988.6" width="170.5" height="206.89999999999998" fill="#fff" stroke="#777" stroke-width="1.5"/>
<line x1="1811.2" y1="1013.5" x2="1865.7" y2="1013.5" stroke="#000000" stroke-width="4.2"/>
<text transform="translate(1871,1020.5) scale(1.07,1)" font-family="'Liberation Serif', 'Times New Roman', serif" font-size="22" fill="#111"><tspan font-style="italic">β</tspan><tspan font-size="13" dy="-9">2</tspan><tspan font-size="13" dx="-7" dy="17">1</tspan><tspan dy="-8">=0.68</tspan></text>
<line x1="1811.2" y1="1052.9" x2="1865.7" y2="1052.9" stroke="#ff8000" stroke-width="4.2"/>
<text transform="translate(1871,1059.9) scale(1.07,1)" font-family="'Liberation Serif', 'Times New Roman', serif" font-size="22" fill="#111"><tspan font-style="italic">β</tspan><tspan font-size="13" dy="-9">2</tspan><tspan font-size="13" dx="-7" dy="17">1</tspan><tspan dy="-8">=0.41</tspan></text>
<line x1="1811.2" y1="1092.3" x2="1865.7" y2="1092.3" stroke="#0000ff" stroke-width="4.2"/>
<text transform="translate(1871,1099.3) scale(1.07,1)" font-family="'Liberation Serif', 'Times New Roman', serif" font-size="22" fill="#111"><tspan font-style="italic">β</tspan><tspan font-size="13" dy="-9">2</tspan><tspan font-size="13" dx="-7" dy="17">1</tspan><tspan dy="-8">=0.255</tspan></text>
<line x1="1811.2" y1="1131.7" x2="1865.7" y2="1131.7" stroke="#ff00ff" stroke-width="4.2"/>
<text transform="translate(1871,1138.7) scale(1.07,1)" font-family="'Liberation Serif', 'Times New Roman', serif" font-size="22" fill="#111"><tspan font-style="italic">β</tspan><tspan font-size="13" dy="-9">2</tspan><tspan font-size="13" dx="-7" dy="17">1</tspan><tspan dy="-8">=0.193</tspan></text>
<line x1="1811.2" y1="1171.1" x2="1865.7" y2="1171.1" stroke="#00ff00" stroke-width="4.2"/>
<text transform="translate(1871,1178.1) scale(1.07,1)" font-family="'Liberation Serif', 'Times New Roman', serif" font-size="22" fill="#111"><tspan font-style="italic">β</tspan><tspan font-size="13" dy="-9">2</tspan><tspan font-size="13" dx="-7" dy="17">1</tspan><tspan dy="-8">=0.157</tspan></text>
<rect x="1351.4" y="734" width="620.0" height="461.5" fill="none" stroke="#333" stroke-width="2.2"/>
<path d="M1351.4,1195.5 v-9 M1475.4,1195.5 v-9 M1599.4,1195.5 v-9 M1723.4,1195.5 v-9 M1847.4,1195.5 v-9 M1971.4,1195.5 v-9 M1413.4,1195.5 v-5 M1537.4,1195.5 v-5 M1661.4,1195.5 v-5 M1785.4,1195.5 v-5 M1909.4,1195.5 v-5 M1351.4,1195.5 h9 M1351.4,1103.2 h9 M1351.4,1010.9 h9 M1351.4,918.6 h9 M1351.4,826.3 h9 M1351.4,734.0 h9 M1351.4,1149.3 h5 M1351.4,1057.0 h5 M1351.4,964.8 h5 M1351.4,872.5 h5 M1351.4,780.1 h5" stroke="#333" stroke-width="2.2" fill="none"/>
<text x="1351.4" y="1236.5" font-family="'Liberation Sans', Arial, sans-serif" font-size="39" text-anchor="middle" fill="#111">0</text>
<text x="1475.4" y="1236.5" font-family="'Liberation Sans', Arial, sans-serif" font-size="39" text-anchor="middle" fill="#111">2</text>
<text x="1599.4" y="1236.5" font-family="'Liberation Sans', Arial, sans-serif" font-size="39" text-anchor="middle" fill="#111">4</text>
<text x="1723.4" y="1236.5" font-family="'Liberation Sans', Arial, sans-serif" font-size="39" text-anchor="middle" fill="#111">6</text>
<text x="1847.4" y="1236.5" font-family="'Liberation Sans', Arial, sans-serif" font-size="39" text-anchor="middle" fill="#111">8</text>
<text x="1971.4" y="1236.5" font-family="'Liberation Sans', Arial, sans-serif" font-size="39" text-anchor="middle" fill="#111">10</text>
<text x="1342.4" y="1206.0" font-family="'Liberation Sans', Arial, sans-serif" font-size="39" text-anchor="end" fill="#111">0.0</text>
<text x="1342.4" y="1113.7" font-family="'Liberation Sans', Arial, sans-serif" font-size="39" text-anchor="end" fill="#111">0.2</text>
<text x="1342.4" y="1021.4" font-family="'Liberation Sans', Arial, sans-serif" font-size="39" text-anchor="end" fill="#111">0.4</text>
<text x="1342.4" y="929.1" font-family="'Liberation Sans', Arial, sans-serif" font-size="39" text-anchor="end" fill="#111">0.6</text>
<text x="1342.4" y="836.8" font-family="'Liberation Sans', Arial, sans-serif" font-size="39" text-anchor="end" fill="#111">0.8</text>
<text x="1342.4" y="744.5" font-family="'Liberation Sans', Arial, sans-serif" font-size="39" text-anchor="end" fill="#111">1.0</text>
<text x="1660" y="1284" font-family="'Liberation Serif', 'Times New Roman', serif" font-size="39" text-anchor="middle" fill="#111">Frequency (THz)</text>
<text transform="translate(1247,980) rotate(-90)" font-family="'Liberation Serif', 'Times New Roman', serif" font-size="39.5" text-anchor="middle" fill="#111">Transmission</text>
<text x="1212" y="1279" font-family="'Liberation Serif', 'Times New Roman', serif" font-size="50" fill="#111">(d)</text>
<clipPath id="clipe"><rect x="175.2" y="1396.1" width="627.2" height="464.8000000000002"/></clipPath>
<g clip-path="url(#clipe)" fill="none" stroke-linejoin="round" stroke-linecap="round">
<path d="M175.6,1842.1 179.3,1838.2 189.4,1824.8 209.4,1795.4 247.1,1735.0 268.4,1696.7 277.2,1681.9 301.0,1644.5 311.1,1629.4 323.6,1612.7 334.9,1599.5 350.0,1584.0 355.0,1579.7 360.0,1576.4 365.0,1573.7 368.8,1572.3 371.3,1572.0 373.8,1572.4 377.6,1574.3 381.3,1577.7 383.8,1581.4 385.1,1584.1 387.6,1591.8 390.1,1603.2 392.6,1619.3 401.4,1688.7 405.2,1709.8 408.9,1724.2 411.4,1731.1 413.9,1736.7 416.4,1740.9 420.2,1745.0 424.0,1747.8 427.7,1749.3 431.5,1749.5 435.3,1748.8 442.8,1746.3 446.6,1744.0 451.6,1740.0 457.8,1733.6 471.6,1716.3 485.4,1702.5 498.0,1691.2 513.0,1678.5 540.6,1656.7 574.5,1631.5 605.9,1609.0 738.9,1517.3 801.6,1472.7" stroke="#ff8000" stroke-width="4.6"/>
<path d="M182.2,1859.9 186.0,1856.0 225.7,1804.4 241.8,1782.1 260.4,1755.1 275.3,1731.8 308.8,1674.4 326.2,1645.5 334.9,1631.8 344.8,1617.4 352.3,1607.2 357.3,1601.4 365.9,1593.0 370.9,1589.1 373.4,1588.0 375.9,1587.7 378.4,1588.4 380.8,1590.1 384.6,1594.6 387.0,1599.8 388.3,1603.4 390.8,1613.2 393.2,1627.4 399.5,1674.7 403.2,1699.1 406.9,1715.4 410.6,1726.2 414.3,1732.6 418.1,1736.4 421.8,1739.1 424.3,1740.2 426.8,1740.6 430.5,1740.4 434.2,1739.7 439.2,1737.4 445.4,1732.2 451.6,1725.4 467.7,1705.3 472.7,1700.1 480.1,1693.4 495.0,1681.0 517.4,1663.2 552.1,1636.9 594.3,1606.5 648.9,1569.0 687.4,1543.3 801.6,1468.4" stroke="#0000ff" stroke-width="4.6"/>
<path d="M195.6,1860.0 199.2,1856.4 249.0,1796.3 266.0,1774.4 284.2,1749.6 298.8,1728.1 315.8,1700.5 337.7,1663.3 351.0,1639.1 355.9,1631.1 368.0,1615.2 371.7,1611.2 375.3,1608.2 377.8,1606.9 380.2,1606.6 382.6,1607.3 383.8,1608.1 387.5,1612.3 389.9,1618.1 392.3,1628.4 394.8,1642.2 403.3,1699.5 405.7,1710.2 408.1,1717.9 411.8,1725.2 414.2,1728.5 416.6,1730.8 419.1,1732.2 422.7,1733.5 425.1,1733.8 427.6,1733.5 432.4,1730.4 439.7,1724.2 466.4,1697.2 478.6,1686.5 547.8,1633.5 572.1,1615.6 606.1,1591.9 647.4,1564.4 744.5,1502.3 801.6,1465.1" stroke="#00ff00" stroke-width="4.6"/>
<path d="M197.8,1860.1 200.2,1858.2 205.1,1853.1 248.6,1805.6 268.0,1782.6 288.6,1756.3 304.3,1733.9 320.0,1709.2 338.2,1678.0 351.5,1652.4 356.3,1644.1 360.0,1638.8 368.4,1628.0 372.1,1623.9 375.7,1620.8 378.1,1619.4 380.5,1618.8 382.9,1619.3 384.2,1620.0 387.8,1623.9 390.2,1629.1 392.6,1637.8 395.0,1649.9 401.1,1687.9 403.5,1700.4 405.9,1709.8 409.6,1719.0 414.4,1725.9 418.0,1728.8 420.5,1729.5 422.9,1729.4 431.3,1727.4 437.4,1724.1 443.4,1719.1 449.5,1712.8 466.4,1693.3 471.3,1688.5 477.3,1683.3 489.4,1673.8 516.1,1653.9 552.4,1625.7 576.6,1607.9 612.9,1582.9 658.8,1552.7 801.6,1462.9" stroke="#ff00ff" stroke-width="4.6"/>
<path d="M204.5,1860.1 209.3,1855.6 251.1,1809.4 270.3,1786.4 289.4,1761.8 305.0,1739.5 321.8,1713.0 338.5,1684.1 351.7,1658.5 356.5,1650.3 360.0,1645.4 367.2,1636.9 372.0,1631.9 375.6,1628.9 379.2,1627.1 382.8,1626.7 385.2,1627.8 386.4,1628.9 388.8,1632.4 391.2,1638.8 393.6,1648.5 401.9,1695.1 404.3,1705.4 406.7,1713.0 410.3,1719.9 415.1,1725.0 418.7,1726.9 421.1,1727.1 423.5,1726.4 433.0,1720.5 440.2,1714.7 447.4,1707.9 466.6,1688.4 477.3,1679.0 516.8,1649.2 556.3,1617.5 580.2,1600.0 605.4,1582.8 634.1,1564.3 666.4,1544.1 743.0,1497.6 801.6,1459.6" stroke="#ffff00" stroke-width="4.6"/>
<path d="M175.6,1782.6 179.3,1780.7 351.2,1676.4 521.8,1573.9 687.4,1475.2 801.6,1408.0" stroke="#000000" stroke-width="4.6"/>
</g>
<rect x="594" y="1618.9" width="208.39999999999998" height="242.0" fill="#fff" stroke="#777" stroke-width="1.5"/>
<line x1="609" y1="1648.5" x2="664" y2="1648.5" stroke="#ff8000" stroke-width="4.2"/>
<text transform="translate(669,1655.5) scale(1.07,1)" font-family="'Liberation Serif', 'Times New Roman', serif" font-size="22" fill="#111"><tspan font-style="italic">β</tspan><tspan font-size="13" dy="-9">2</tspan><tspan font-size="13" dx="-7" dy="17">1</tspan><tspan dy="-8">=0.68</tspan></text>
<line x1="609" y1="1688.1" x2="664" y2="1688.1" stroke="#0000ff" stroke-width="4.2"/>
<text transform="translate(669,1695.1) scale(1.07,1)" font-family="'Liberation Serif', 'Times New Roman', serif" font-size="22" fill="#111"><tspan font-style="italic">β</tspan><tspan font-size="13" dy="-9">2</tspan><tspan font-size="13" dx="-7" dy="17">1</tspan><tspan dy="-8">=0.41</tspan></text>
<line x1="609" y1="1727.7" x2="664" y2="1727.7" stroke="#00ff00" stroke-width="4.2"/>
<text transform="translate(669,1734.7) scale(1.07,1)" font-family="'Liberation Serif', 'Times New Roman', serif" font-size="22" fill="#111"><tspan font-style="italic">β</tspan><tspan font-size="13" dy="-9">2</tspan><tspan font-size="13" dx="-7" dy="17">1</tspan><tspan dy="-8">=0.255</tspan></text>
<line x1="609" y1="1767.3" x2="664" y2="1767.3" stroke="#ff00ff" stroke-width="4.2"/>
<text transform="translate(669,1774.3) scale(1.07,1)" font-family="'Liberation Serif', 'Times New Roman', serif" font-size="22" fill="#111"><tspan font-style="italic">β</tspan><tspan font-size="13" dy="-9">2</tspan><tspan font-size="13" dx="-7" dy="17">1</tspan><tspan dy="-8">=0.193</tspan></text>
<line x1="609" y1="1806.9" x2="664" y2="1806.9" stroke="#ffff00" stroke-width="4.2"/>
<text transform="translate(669,1813.9) scale(1.07,1)" font-family="'Liberation Serif', 'Times New Roman', serif" font-size="22" fill="#111"><tspan font-style="italic">β</tspan><tspan font-size="13" dy="-9">2</tspan><tspan font-size="13" dx="-7" dy="17">1</tspan><tspan dy="-8">=0.157</tspan></text>
<line x1="609" y1="1846.5" x2="664" y2="1846.5" stroke="#000000" stroke-width="4.2"/>
<text transform="translate(669,1853.5) scale(1.07,1)" font-family="'Liberation Serif', 'Times New Roman', serif" font-size="22" fill="#111"><tspan font-size="20">non-resonant</tspan></text>
<rect x="175.2" y="1396.1" width="627.2" height="464.8000000000002" fill="none" stroke="#333" stroke-width="2.2"/>
<path d="M175.2,1860.9 v-9 M332.0,1860.9 v-9 M488.8,1860.9 v-9 M645.6,1860.9 v-9 M802.4,1860.9 v-9 M214.4,1860.9 v-5 M253.6,1860.9 v-5 M292.8,1860.9 v-5 M371.2,1860.9 v-5 M410.4,1860.9 v-5 M449.6,1860.9 v-5 M528.0,1860.9 v-5 M567.2,1860.9 v-5 M606.4,1860.9 v-5 M684.8,1860.9 v-5 M724.0,1860.9 v-5 M763.2,1860.9 v-5 M175.2,1789.4 h9 M175.2,1610.6 h9 M175.2,1431.9 h9 M175.2,1834.1 h5 M175.2,1744.7 h5 M175.2,1700.0 h5 M175.2,1655.3 h5 M175.2,1565.9 h5 M175.2,1521.2 h5 M175.2,1476.5 h5" stroke="#333" stroke-width="2.2" fill="none"/>
<text x="175.2" y="1901.9" font-family="'Liberation Sans', Arial, sans-serif" font-size="39" text-anchor="middle" fill="#111">2</text>
<text x="332.0" y="1901.9" font-family="'Liberation Sans', Arial, sans-serif" font-size="39" text-anchor="middle" fill="#111">3</text>
<text x="488.8" y="1901.9" font-family="'Liberation Sans', Arial, sans-serif" font-size="39" text-anchor="middle" fill="#111">4</text>
<text x="645.6" y="1901.9" font-family="'Liberation Sans', Arial, sans-serif" font-size="39" text-anchor="middle" fill="#111">5</text>
<text x="802.4" y="1901.9" font-family="'Liberation Sans', Arial, sans-serif" font-size="39" text-anchor="middle" fill="#111">6</text>
<text x="166.2" y="1799.9" font-family="'Liberation Sans', Arial, sans-serif" font-size="39" text-anchor="end" fill="#111">0.5</text>
<text x="166.2" y="1621.1" font-family="'Liberation Sans', Arial, sans-serif" font-size="39" text-anchor="end" fill="#111">1.0</text>
<text x="166.2" y="1442.4" font-family="'Liberation Sans', Arial, sans-serif" font-size="39" text-anchor="end" fill="#111">1.5</text>
<text x="489" y="1949" font-family="'Liberation Serif', 'Times New Roman', serif" font-size="39" text-anchor="middle" fill="#111">Frequency (THz)</text>
<text transform="translate(72,1641) rotate(-90)" font-family="'Liberation Serif', 'Times New Roman', serif" font-size="39.5" text-anchor="middle" fill="#111">Phase (π)</text>
<text x="33" y="1955" font-family="'Liberation Serif', 'Times New Roman', serif" font-size="50" fill="#111">(e)</text>
<clipPath id="clipf"><rect x="1348.2" y="1422.9" width="623.5" height="464.29999999999995"/></clipPath>
<g clip-path="url(#clipf)" fill="none" stroke-linejoin="round" stroke-linecap="round">
<path d="M1348.2,1884.3 1353.2,1883.5 1360.7,1881.7 1375.6,1876.7 1386.9,1871.4 1393.1,1867.6 1396.9,1864.9 1405.6,1856.5 1425.6,1834.0 1438.0,1818.3 1448.0,1803.6 1451.8,1798.7 1460.5,1790.5 1464.3,1788.3 1466.8,1787.7 1468.0,1787.8 1470.5,1788.8 1475.5,1793.2 1480.5,1799.4 1485.5,1808.2 1489.2,1817.0 1493.0,1828.8 1501.7,1864.4 1502.9,1867.6 1504.2,1868.8 1505.4,1867.8 1506.7,1864.9 1507.9,1860.3 1509.2,1854.1 1511.7,1834.4 1512.9,1820.2 1516.7,1763.5 1525.4,1609.3 1529.2,1556.8 1532.9,1526.0 1535.4,1512.6 1539.1,1499.0 1542.9,1490.0 1546.6,1484.0 1550.4,1480.2 1555.4,1477.1 1560.4,1475.6 1565.3,1474.8 1587.8,1473.6 1596.5,1472.1 1611.5,1467.5 1625.2,1460.9 1630.2,1458.8 1642.7,1455.2 1650.2,1454.2 1661.4,1454.6 1665.2,1455.3 1668.9,1456.5 1677.7,1460.7 1683.9,1464.9 1688.9,1469.0 1693.9,1473.9 1697.6,1478.3 1705.1,1489.3 1711.4,1500.7 1713.9,1506.6 1716.4,1514.3 1720.1,1530.0 1722.6,1544.3 1725.1,1562.2 1728.8,1594.6 1733.8,1647.3 1743.8,1769.5 1746.3,1795.3 1748.8,1815.9 1752.5,1838.6 1756.3,1853.5 1758.8,1860.6 1761.3,1866.3 1766.3,1874.1 1770.0,1878.3 1773.8,1880.9 1777.5,1882.3 1783.7,1883.7 1793.7,1884.7 1823.7,1884.5 1852.4,1883.6 1873.6,1882.3 1878.6,1880.7 1889.8,1874.5 1893.6,1872.9 1904.8,1869.8 1913.5,1868.3 1946.0,1868.4 1970.9,1870.2" stroke="#000000" stroke-width="4.6"/>
<path d="M1348.2,1885.4 1353.2,1885.1 1359.4,1883.7 1364.4,1882.0 1370.7,1879.2 1378.1,1875.1 1388.1,1868.8 1394.4,1864.6 1399.4,1860.3 1405.6,1853.5 1416.8,1839.6 1430.6,1820.9 1438.0,1809.4 1451.8,1785.1 1464.3,1765.1 1468.0,1760.7 1471.7,1757.6 1476.7,1754.5 1480.5,1753.3 1483.0,1753.4 1484.2,1753.9 1488.0,1757.7 1493.0,1765.8 1496.7,1774.3 1500.4,1785.5 1504.2,1799.2 1514.2,1843.6 1516.7,1853.0 1520.4,1862.8 1521.7,1864.4 1522.9,1864.4 1524.2,1862.0 1525.4,1856.6 1527.9,1837.0 1529.2,1822.7 1531.6,1783.1 1539.1,1636.1 1542.9,1584.1 1545.4,1562.3 1547.9,1546.6 1551.6,1528.8 1555.4,1515.5 1557.9,1509.6 1560.4,1505.5 1564.1,1501.0 1566.6,1499.3 1569.1,1498.6 1571.6,1498.6 1584.1,1500.3 1590.3,1500.4 1597.8,1499.3 1611.5,1495.7 1620.3,1492.6 1630.2,1488.0 1634.0,1485.6 1645.2,1476.3 1647.7,1475.1 1651.5,1474.5 1663.9,1475.5 1675.2,1477.5 1683.9,1481.5 1687.6,1483.9 1691.4,1487.0 1696.4,1492.7 1702.6,1503.8 1708.9,1518.0 1713.9,1532.8 1716.4,1542.4 1720.1,1560.3 1723.8,1582.1 1726.3,1599.5 1730.1,1632.3 1745.1,1781.8 1750.0,1819.2 1753.8,1838.8 1757.5,1853.2 1761.3,1863.5 1763.8,1868.5 1767.5,1874.4 1770.0,1877.3 1773.8,1879.8 1780.0,1882.2 1786.2,1883.9 1793.7,1884.7 1817.4,1884.6 1853.6,1883.9 1883.6,1882.5 1886.1,1882.0 1889.8,1880.5 1899.8,1874.8 1903.5,1873.2 1908.5,1872.1 1919.8,1870.7 1928.5,1870.3 1948.5,1870.6 1959.7,1871.2 1970.9,1872.4" stroke="#ff8000" stroke-width="4.6"/>
<path d="M1348.2,1885.4 1353.2,1885.0 1359.4,1883.4 1364.4,1881.5 1370.7,1878.5 1378.1,1874.0 1388.1,1867.1 1394.4,1862.4 1399.4,1857.7 1405.6,1850.3 1416.8,1835.1 1430.6,1815.0 1440.5,1798.5 1456.8,1768.9 1466.8,1752.2 1471.7,1744.6 1475.5,1740.2 1479.2,1736.9 1485.5,1732.9 1489.2,1731.6 1491.7,1731.6 1495.5,1732.9 1499.2,1735.6 1504.2,1740.4 1509.2,1747.6 1514.2,1758.5 1516.7,1766.1 1520.4,1781.0 1532.9,1841.5 1535.4,1849.8 1536.6,1850.8 1537.9,1849.1 1539.1,1844.0 1540.4,1834.4 1541.6,1819.0 1544.1,1770.6 1549.1,1651.6 1552.9,1584.0 1554.1,1568.7 1556.6,1546.7 1557.9,1539.0 1560.4,1528.9 1561.6,1525.8 1564.1,1521.5 1565.3,1520.1 1567.8,1518.4 1571.6,1518.0 1584.1,1519.7 1590.3,1519.9 1600.3,1519.2 1610.3,1517.6 1616.5,1515.3 1630.2,1507.5 1645.2,1500.7 1660.2,1495.7 1663.9,1494.9 1667.7,1494.6 1670.2,1494.8 1673.9,1495.9 1680.2,1499.2 1685.2,1502.7 1690.1,1508.3 1695.1,1515.7 1700.1,1525.3 1703.9,1534.5 1707.6,1546.4 1711.4,1561.8 1716.4,1585.4 1722.6,1622.4 1727.6,1659.5 1741.3,1773.9 1746.3,1808.9 1750.0,1828.1 1755.0,1847.3 1761.3,1864.7 1763.8,1869.6 1766.3,1873.0 1771.3,1877.8 1776.3,1881.4 1781.2,1883.3 1786.2,1883.6 1844.9,1883.4 1893.6,1882.5 1899.8,1881.5 1914.8,1875.3 1928.5,1873.2 1937.2,1872.6 1949.7,1872.7 1961.0,1873.4 1970.9,1874.6" stroke="#0000ff" stroke-width="4.6"/>
<path d="M1348.2,1885.3 1354.4,1883.8 1361.9,1880.7 1369.4,1876.5 1378.1,1870.4 1386.9,1863.2 1395.6,1855.1 1416.8,1833.2 1425.6,1821.4 1438.0,1800.6 1455.5,1765.2 1468.0,1741.8 1473.0,1733.4 1476.7,1728.3 1480.5,1724.7 1486.7,1720.5 1491.7,1718.7 1494.2,1718.7 1498.0,1720.1 1502.9,1724.0 1506.7,1728.0 1509.2,1731.7 1511.7,1736.5 1516.7,1748.3 1522.9,1767.3 1527.9,1787.1 1537.9,1841.4 1539.1,1845.7 1540.4,1848.1 1541.6,1848.1 1542.9,1844.3 1544.1,1835.3 1546.6,1800.0 1552.9,1658.4 1556.6,1595.9 1557.9,1582.0 1560.4,1561.5 1562.8,1548.5 1565.3,1540.0 1567.8,1534.4 1569.1,1532.6 1571.6,1531.1 1576.6,1531.2 1604.0,1534.8 1610.3,1534.9 1614.0,1534.2 1617.8,1532.6 1621.5,1530.4 1632.7,1523.2 1642.7,1515.7 1646.5,1513.5 1651.5,1512.2 1665.2,1511.2 1670.2,1511.6 1675.2,1513.5 1682.7,1518.5 1687.6,1523.7 1693.9,1533.6 1698.9,1543.6 1703.9,1556.4 1707.6,1568.7 1711.4,1584.0 1716.4,1607.7 1722.6,1644.7 1727.6,1681.8 1738.8,1775.5 1742.6,1802.4 1745.1,1817.5 1748.8,1835.1 1752.5,1848.6 1758.8,1865.3 1761.3,1870.6 1763.8,1874.6 1767.5,1878.3 1773.8,1882.1 1778.8,1884.0 1785.0,1884.8 1847.4,1884.3 1902.3,1882.7 1909.8,1881.9 1923.5,1877.8 1929.8,1876.8 1951.0,1875.9 1970.9,1876.9" stroke="#ff00ff" stroke-width="4.6"/>
<path d="M1348.2,1885.3 1354.4,1883.9 1361.9,1880.8 1369.4,1876.4 1378.1,1870.1 1386.9,1862.5 1395.6,1854.1 1416.8,1831.0 1420.6,1826.0 1425.6,1818.2 1438.0,1796.2 1455.5,1760.9 1473.0,1727.7 1476.7,1722.2 1481.7,1717.1 1488.0,1712.4 1493.0,1710.2 1496.7,1710.0 1500.4,1711.1 1504.2,1713.3 1507.9,1716.2 1511.7,1721.2 1516.7,1732.0 1521.7,1745.9 1526.7,1764.0 1530.4,1780.0 1536.6,1811.4 1540.4,1828.0 1541.6,1832.5 1542.9,1835.3 1544.1,1835.0 1545.4,1829.3 1546.6,1816.8 1547.9,1797.8 1554.1,1658.6 1556.6,1613.9 1557.9,1598.2 1559.1,1586.6 1561.6,1571.6 1564.1,1561.9 1566.6,1554.5 1570.3,1546.6 1572.8,1544.3 1576.6,1544.0 1587.8,1545.8 1604.0,1547.8 1610.3,1547.9 1614.0,1547.3 1620.3,1545.1 1631.5,1539.1 1635.2,1536.5 1644.0,1529.0 1647.7,1526.6 1650.2,1525.7 1655.2,1524.6 1665.2,1523.5 1671.4,1524.0 1676.4,1525.9 1682.7,1529.7 1685.2,1531.8 1687.6,1534.7 1692.6,1542.5 1697.6,1552.4 1702.6,1565.5 1706.4,1577.8 1710.1,1593.5 1713.9,1611.4 1720.1,1647.2 1725.1,1684.1 1735.1,1764.7 1740.1,1799.6 1743.8,1822.5 1747.6,1840.5 1752.5,1858.2 1755.0,1864.4 1757.5,1869.2 1762.5,1876.3 1766.3,1879.5 1772.5,1882.7 1777.5,1884.5 1782.5,1885.3 1853.6,1885.0 1917.3,1883.6 1922.3,1883.1 1928.5,1881.9 1946.0,1877.0 1959.7,1871.1 1970.9,1864.5" stroke="#00ff00" stroke-width="4.6"/>
</g>
<g clip-path="url(#clipf)" fill="none" opacity="0.7">
<path d="M1339.7,1875.9h17v17h-17zM1348.4,1874.2h17v17h-17zM1357.2,1871.7h17v17h-17zM1365.9,1868.7h17v17h-17zM1374.6,1864.9h17v17h-17zM1383.3,1860.0h17v17h-17zM1392.1,1853.2h17v17h-17zM1400.8,1844.0h17v17h-17zM1409.5,1834.3h17v17h-17zM1418.3,1824.1h17v17h-17zM1427.0,1813.2h17v17h-17zM1435.7,1800.7h17v17h-17zM1444.4,1788.8h17v17h-17zM1453.2,1781.1h17v17h-17zM1461.9,1779.9h17v17h-17zM1470.6,1788.8h17v17h-17zM1479.4,1804.7h17v17h-17zM1488.1,1833.9h17v17h-17zM1496.8,1861.6h17v17h-17zM1505.5,1798.6h17v17h-17zM1514.3,1647.7h17v17h-17zM1523.0,1525.0h17v17h-17zM1531.7,1487.1h17v17h-17zM1540.5,1472.8h17v17h-17zM1549.2,1467.7h17v17h-17zM1557.9,1466.2h17v17h-17zM1566.6,1465.7h17v17h-17zM1575.4,1465.4h17v17h-17zM1584.1,1464.5h17v17h-17zM1592.8,1462.3h17v17h-17zM1601.6,1459.5h17v17h-17zM1610.3,1455.6h17v17h-17zM1619.0,1451.3h17v17h-17zM1627.8,1448.4h17v17h-17zM1636.5,1446.2h17v17h-17zM1645.2,1445.7h17v17h-17zM1653.9,1446.1h17v17h-17zM1662.7,1448.9h17v17h-17zM1671.4,1453.6h17v17h-17zM1680.1,1460.2h17v17h-17zM1688.9,1469.4h17v17h-17zM1697.6,1482.4h17v17h-17zM1706.3,1500.2h17v17h-17zM1715.0,1541.3h17v17h-17zM1723.8,1620.6h17v17h-17zM1732.5,1728.0h17v17h-17zM1741.2,1814.9h17v17h-17zM1750.0,1851.7h17v17h-17zM1758.7,1866.9h17v17h-17zM1767.4,1873.3h17v17h-17zM1776.1,1875.4h17v17h-17zM1784.9,1876.3h17v17h-17zM1793.6,1876.2h17v17h-17zM1802.3,1876.2h17v17h-17zM1811.1,1876.1h17v17h-17zM1819.8,1875.9h17v17h-17zM1828.5,1875.7h17v17h-17zM1837.2,1875.4h17v17h-17zM1846.0,1875.0h17v17h-17zM1854.7,1874.6h17v17h-17zM1863.4,1874.1h17v17h-17zM1872.2,1871.2h17v17h-17zM1880.9,1866.2h17v17h-17zM1889.6,1863.0h17v17h-17zM1898.4,1860.8h17v17h-17zM1907.1,1859.6h17v17h-17zM1915.8,1859.6h17v17h-17zM1924.5,1859.6h17v17h-17zM1933.3,1859.8h17v17h-17zM1942.0,1860.1h17v17h-17zM1950.7,1860.6h17v17h-17zM1959.5,1861.4h17v17h-17z" stroke="#000000" stroke-width="1.4"/>
<path d="M1339.9,1885.4a9.5,9.5 0 1,0 19,0a9.5,9.5 0 1,0 -19,0M1348.7,1884.1a9.5,9.5 0 1,0 19,0a9.5,9.5 0 1,0 -19,0M1357.4,1881.0a9.5,9.5 0 1,0 19,0a9.5,9.5 0 1,0 -19,0M1366.1,1876.6a9.5,9.5 0 1,0 19,0a9.5,9.5 0 1,0 -19,0M1374.9,1871.3a9.5,9.5 0 1,0 19,0a9.5,9.5 0 1,0 -19,0M1383.6,1865.5a9.5,9.5 0 1,0 19,0a9.5,9.5 0 1,0 -19,0M1392.3,1857.9a9.5,9.5 0 1,0 19,0a9.5,9.5 0 1,0 -19,0M1401.0,1847.4a9.5,9.5 0 1,0 19,0a9.5,9.5 0 1,0 -19,0M1409.8,1836.5a9.5,9.5 0 1,0 19,0a9.5,9.5 0 1,0 -19,0M1418.5,1824.6a9.5,9.5 0 1,0 19,0a9.5,9.5 0 1,0 -19,0M1427.2,1811.6a9.5,9.5 0 1,0 19,0a9.5,9.5 0 1,0 -19,0M1436.0,1796.4a9.5,9.5 0 1,0 19,0a9.5,9.5 0 1,0 -19,0M1444.7,1781.0a9.5,9.5 0 1,0 19,0a9.5,9.5 0 1,0 -19,0M1453.4,1766.9a9.5,9.5 0 1,0 19,0a9.5,9.5 0 1,0 -19,0M1462.1,1757.7a9.5,9.5 0 1,0 19,0a9.5,9.5 0 1,0 -19,0M1470.9,1753.1a9.5,9.5 0 1,0 19,0a9.5,9.5 0 1,0 -19,0M1479.6,1759.1a9.5,9.5 0 1,0 19,0a9.5,9.5 0 1,0 -19,0M1488.3,1777.1a9.5,9.5 0 1,0 19,0a9.5,9.5 0 1,0 -19,0M1497.1,1809.2a9.5,9.5 0 1,0 19,0a9.5,9.5 0 1,0 -19,0M1505.8,1849.0a9.5,9.5 0 1,0 19,0a9.5,9.5 0 1,0 -19,0M1514.5,1866.3a9.5,9.5 0 1,0 19,0a9.5,9.5 0 1,0 -19,0M1523.3,1762.4a9.5,9.5 0 1,0 19,0a9.5,9.5 0 1,0 -19,0M1532.0,1596.8a9.5,9.5 0 1,0 19,0a9.5,9.5 0 1,0 -19,0M1540.7,1534.6a9.5,9.5 0 1,0 19,0a9.5,9.5 0 1,0 -19,0M1549.4,1507.4a9.5,9.5 0 1,0 19,0a9.5,9.5 0 1,0 -19,0M1558.2,1498.5a9.5,9.5 0 1,0 19,0a9.5,9.5 0 1,0 -19,0M1566.9,1499.2a9.5,9.5 0 1,0 19,0a9.5,9.5 0 1,0 -19,0M1575.6,1500.4a9.5,9.5 0 1,0 19,0a9.5,9.5 0 1,0 -19,0M1584.4,1500.1a9.5,9.5 0 1,0 19,0a9.5,9.5 0 1,0 -19,0M1593.1,1498.2a9.5,9.5 0 1,0 19,0a9.5,9.5 0 1,0 -19,0M1601.8,1495.8a9.5,9.5 0 1,0 19,0a9.5,9.5 0 1,0 -19,0M1610.5,1492.7a9.5,9.5 0 1,0 19,0a9.5,9.5 0 1,0 -19,0M1619.3,1488.8a9.5,9.5 0 1,0 19,0a9.5,9.5 0 1,0 -19,0M1628.0,1482.7a9.5,9.5 0 1,0 19,0a9.5,9.5 0 1,0 -19,0M1636.7,1475.5a9.5,9.5 0 1,0 19,0a9.5,9.5 0 1,0 -19,0M1645.5,1474.6a9.5,9.5 0 1,0 19,0a9.5,9.5 0 1,0 -19,0M1654.2,1475.4a9.5,9.5 0 1,0 19,0a9.5,9.5 0 1,0 -19,0M1662.9,1476.7a9.5,9.5 0 1,0 19,0a9.5,9.5 0 1,0 -19,0M1671.6,1480.0a9.5,9.5 0 1,0 19,0a9.5,9.5 0 1,0 -19,0M1680.4,1485.6a9.5,9.5 0 1,0 19,0a9.5,9.5 0 1,0 -19,0M1689.1,1496.0a9.5,9.5 0 1,0 19,0a9.5,9.5 0 1,0 -19,0M1697.8,1514.0a9.5,9.5 0 1,0 19,0a9.5,9.5 0 1,0 -19,0M1706.6,1540.6a9.5,9.5 0 1,0 19,0a9.5,9.5 0 1,0 -19,0M1715.3,1587.7a9.5,9.5 0 1,0 19,0a9.5,9.5 0 1,0 -19,0M1724.0,1667.0a9.5,9.5 0 1,0 19,0a9.5,9.5 0 1,0 -19,0M1732.7,1754.7a9.5,9.5 0 1,0 19,0a9.5,9.5 0 1,0 -19,0M1741.5,1825.7a9.5,9.5 0 1,0 19,0a9.5,9.5 0 1,0 -19,0M1750.2,1860.2a9.5,9.5 0 1,0 19,0a9.5,9.5 0 1,0 -19,0M1758.9,1875.9a9.5,9.5 0 1,0 19,0a9.5,9.5 0 1,0 -19,0M1767.7,1881.2a9.5,9.5 0 1,0 19,0a9.5,9.5 0 1,0 -19,0M1776.4,1883.8a9.5,9.5 0 1,0 19,0a9.5,9.5 0 1,0 -19,0M1785.1,1884.8a9.5,9.5 0 1,0 19,0a9.5,9.5 0 1,0 -19,0M1793.8,1884.7a9.5,9.5 0 1,0 19,0a9.5,9.5 0 1,0 -19,0M1802.6,1884.7a9.5,9.5 0 1,0 19,0a9.5,9.5 0 1,0 -19,0M1811.3,1884.6a9.5,9.5 0 1,0 19,0a9.5,9.5 0 1,0 -19,0M1820.0,1884.5a9.5,9.5 0 1,0 19,0a9.5,9.5 0 1,0 -19,0M1828.8,1884.3a9.5,9.5 0 1,0 19,0a9.5,9.5 0 1,0 -19,0M1837.5,1884.1a9.5,9.5 0 1,0 19,0a9.5,9.5 0 1,0 -19,0M1846.2,1883.8a9.5,9.5 0 1,0 19,0a9.5,9.5 0 1,0 -19,0M1855.0,1883.5a9.5,9.5 0 1,0 19,0a9.5,9.5 0 1,0 -19,0M1863.7,1883.1a9.5,9.5 0 1,0 19,0a9.5,9.5 0 1,0 -19,0M1872.4,1882.6a9.5,9.5 0 1,0 19,0a9.5,9.5 0 1,0 -19,0M1881.1,1880.2a9.5,9.5 0 1,0 19,0a9.5,9.5 0 1,0 -19,0M1889.9,1875.0a9.5,9.5 0 1,0 19,0a9.5,9.5 0 1,0 -19,0M1898.6,1872.2a9.5,9.5 0 1,0 19,0a9.5,9.5 0 1,0 -19,0M1907.3,1871.0a9.5,9.5 0 1,0 19,0a9.5,9.5 0 1,0 -19,0M1916.1,1870.3a9.5,9.5 0 1,0 19,0a9.5,9.5 0 1,0 -19,0M1924.8,1870.3a9.5,9.5 0 1,0 19,0a9.5,9.5 0 1,0 -19,0M1933.5,1870.4a9.5,9.5 0 1,0 19,0a9.5,9.5 0 1,0 -19,0M1942.2,1870.7a9.5,9.5 0 1,0 19,0a9.5,9.5 0 1,0 -19,0M1951.0,1871.2a9.5,9.5 0 1,0 19,0a9.5,9.5 0 1,0 -19,0M1959.7,1872.2a9.5,9.5 0 1,0 19,0a9.5,9.5 0 1,0 -19,0" stroke="#ff8000" stroke-width="1.4"/>
<path d="M1350.7,1874.3l11.5,19.8h-23.0zM1359.4,1872.5l11.5,19.8h-23.0zM1368.1,1868.8l11.5,19.8h-23.0zM1376.9,1863.8l11.5,19.8h-23.0zM1385.6,1857.9l11.5,19.8h-23.0zM1394.3,1851.5l11.5,19.8h-23.0zM1403.1,1842.5l11.5,19.8h-23.0zM1411.8,1830.9l11.5,19.8h-23.0zM1420.5,1819.0l11.5,19.8h-23.0zM1429.2,1806.0l11.5,19.8h-23.0zM1438.0,1792.0l11.5,19.8h-23.0zM1446.7,1776.2l11.5,19.8h-23.0zM1455.4,1760.1l11.5,19.8h-23.0zM1464.2,1745.5l11.5,19.8h-23.0zM1472.9,1732.0l11.5,19.8h-23.0zM1481.6,1724.2l11.5,19.8h-23.0zM1490.4,1720.3l11.5,19.8h-23.0zM1499.1,1724.4l11.5,19.8h-23.0zM1507.8,1734.0l11.5,19.8h-23.0zM1516.5,1754.0l11.5,19.8h-23.0zM1525.3,1792.3l11.5,19.8h-23.0zM1534.0,1836.6l11.5,19.8h-23.0zM1542.7,1795.6l11.5,19.8h-23.0zM1551.5,1590.2l11.5,19.8h-23.0zM1560.2,1517.1l11.5,19.8h-23.0zM1568.9,1506.8l11.5,19.8h-23.0zM1577.6,1507.8l11.5,19.8h-23.0zM1586.4,1508.9l11.5,19.8h-23.0zM1595.1,1508.7l11.5,19.8h-23.0zM1603.8,1507.7l11.5,19.8h-23.0zM1612.6,1506.0l11.5,19.8h-23.0zM1621.3,1501.6l11.5,19.8h-23.0zM1630.0,1496.6l11.5,19.8h-23.0zM1638.7,1492.5l11.5,19.8h-23.0zM1647.5,1488.8l11.5,19.8h-23.0zM1656.2,1485.9l11.5,19.8h-23.0zM1664.9,1483.7l11.5,19.8h-23.0zM1673.7,1484.7l11.5,19.8h-23.0zM1682.4,1489.5l11.5,19.8h-23.0zM1691.1,1498.5l11.5,19.8h-23.0zM1699.8,1513.5l11.5,19.8h-23.0zM1708.6,1538.6l11.5,19.8h-23.0zM1717.3,1579.0l11.5,19.8h-23.0zM1726.0,1635.7l11.5,19.8h-23.0zM1734.8,1709.0l11.5,19.8h-23.0zM1743.5,1780.6l11.5,19.8h-23.0zM1752.2,1826.8l11.5,19.8h-23.0zM1761.0,1853.3l11.5,19.8h-23.0zM1769.7,1865.5l11.5,19.8h-23.0zM1778.4,1871.6l11.5,19.8h-23.0zM1787.1,1872.7l11.5,19.8h-23.0zM1795.9,1872.6l11.5,19.8h-23.0zM1804.6,1872.6l11.5,19.8h-23.0zM1813.3,1872.6l11.5,19.8h-23.0zM1822.1,1872.6l11.5,19.8h-23.0zM1830.8,1872.5l11.5,19.8h-23.0zM1839.5,1872.4l11.5,19.8h-23.0zM1848.2,1872.3l11.5,19.8h-23.0zM1857.0,1872.2l11.5,19.8h-23.0zM1865.7,1872.1l11.5,19.8h-23.0zM1874.4,1872.0l11.5,19.8h-23.0zM1883.2,1871.8l11.5,19.8h-23.0zM1891.9,1871.6l11.5,19.8h-23.0zM1900.6,1870.2l11.5,19.8h-23.0zM1909.3,1866.3l11.5,19.8h-23.0zM1918.1,1863.6l11.5,19.8h-23.0zM1926.8,1862.3l11.5,19.8h-23.0zM1935.5,1861.6l11.5,19.8h-23.0zM1944.3,1861.6l11.5,19.8h-23.0zM1953.0,1861.8l11.5,19.8h-23.0zM1961.7,1862.4l11.5,19.8h-23.0zM1970.4,1863.5l11.5,19.8h-23.0z" stroke="#0000ff" stroke-width="1.4"/>
<path d="M1351.9,1874.1L1354.5,1881.0L1361.9,1881.4L1356.1,1886.0L1358.1,1893.1L1351.9,1889.0L1345.8,1893.1L1347.7,1886.0L1341.9,1881.4L1349.3,1881.0zM1360.7,1870.8L1363.3,1877.8L1370.7,1878.1L1364.9,1882.7L1366.8,1889.8L1360.7,1885.8L1354.5,1889.8L1356.5,1882.7L1350.7,1878.1L1358.1,1877.8zM1369.4,1866.0L1372.0,1873.0L1379.4,1873.3L1373.6,1877.9L1375.6,1885.0L1369.4,1881.0L1363.2,1885.0L1365.2,1877.9L1359.4,1873.3L1366.8,1873.0zM1378.1,1859.9L1380.7,1866.9L1388.1,1867.2L1382.3,1871.8L1384.3,1878.9L1378.1,1874.8L1372.0,1878.9L1373.9,1871.8L1368.1,1867.2L1375.5,1866.9zM1386.9,1852.7L1389.4,1859.7L1396.8,1860.0L1391.0,1864.6L1393.0,1871.7L1386.9,1867.7L1380.7,1871.7L1382.7,1864.6L1376.9,1860.0L1384.3,1859.7zM1395.6,1844.7L1398.2,1851.6L1405.6,1851.9L1399.8,1856.5L1401.8,1863.7L1395.6,1859.6L1389.4,1863.7L1391.4,1856.5L1385.6,1851.9L1393.0,1851.6zM1404.3,1836.0L1406.9,1842.9L1414.3,1843.2L1408.5,1847.9L1410.5,1855.0L1404.3,1850.9L1398.1,1855.0L1400.1,1847.9L1394.3,1843.2L1401.7,1842.9zM1413.0,1826.9L1415.6,1833.8L1423.0,1834.1L1417.2,1838.7L1419.2,1845.9L1413.0,1841.8L1406.9,1845.9L1408.8,1838.7L1403.1,1834.1L1410.4,1833.8zM1421.8,1816.5L1424.4,1823.4L1431.8,1823.8L1426.0,1828.4L1427.9,1835.5L1421.8,1831.4L1415.6,1835.5L1417.6,1828.4L1411.8,1823.8L1419.2,1823.4zM1430.5,1803.0L1433.1,1810.0L1440.5,1810.3L1434.7,1814.9L1436.7,1822.0L1430.5,1818.0L1424.3,1822.0L1426.3,1814.9L1420.5,1810.3L1427.9,1810.0zM1439.2,1788.0L1441.8,1795.0L1449.2,1795.3L1443.4,1799.9L1445.4,1807.0L1439.2,1802.9L1433.1,1807.0L1435.0,1799.9L1429.2,1795.3L1436.6,1795.0zM1448.0,1770.3L1450.5,1777.2L1457.9,1777.5L1452.1,1782.1L1454.1,1789.3L1448.0,1785.2L1441.8,1789.3L1443.8,1782.1L1438.0,1777.5L1445.4,1777.2zM1456.7,1752.3L1459.3,1759.3L1466.7,1759.6L1460.9,1764.2L1462.9,1771.3L1456.7,1767.3L1450.5,1771.3L1452.5,1764.2L1446.7,1759.6L1454.1,1759.3zM1465.4,1736.1L1468.0,1743.0L1475.4,1743.3L1469.6,1747.9L1471.6,1755.1L1465.4,1751.0L1459.2,1755.1L1461.2,1747.9L1455.4,1743.3L1462.8,1743.0zM1474.1,1721.0L1476.7,1728.0L1484.1,1728.3L1478.3,1732.9L1480.3,1740.0L1474.1,1735.9L1468.0,1740.0L1469.9,1732.9L1464.2,1728.3L1471.5,1728.0zM1482.9,1712.4L1485.5,1719.3L1492.9,1719.6L1487.1,1724.2L1489.0,1731.4L1482.9,1727.3L1476.7,1731.4L1478.7,1724.2L1472.9,1719.6L1480.3,1719.3zM1491.6,1708.0L1494.2,1714.9L1501.6,1715.2L1495.8,1719.8L1497.8,1727.0L1491.6,1722.9L1485.4,1727.0L1487.4,1719.8L1481.6,1715.2L1489.0,1714.9zM1500.3,1711.1L1502.9,1718.0L1510.3,1718.4L1504.5,1723.0L1506.5,1730.1L1500.3,1726.0L1494.2,1730.1L1496.1,1723.0L1490.3,1718.4L1497.7,1718.0zM1509.1,1720.7L1511.6,1727.6L1519.0,1727.9L1513.3,1732.5L1515.2,1739.7L1509.1,1735.6L1502.9,1739.7L1504.9,1732.5L1499.1,1727.9L1506.5,1727.6zM1517.8,1740.6L1520.4,1747.5L1527.8,1747.8L1522.0,1752.4L1524.0,1759.6L1517.8,1755.5L1511.6,1759.6L1513.6,1752.4L1507.8,1747.8L1515.2,1747.5zM1526.5,1770.2L1529.1,1777.1L1536.5,1777.4L1530.7,1782.1L1532.7,1789.2L1526.5,1785.1L1520.3,1789.2L1522.3,1782.1L1516.5,1777.4L1523.9,1777.1zM1535.2,1816.9L1537.8,1823.8L1545.2,1824.1L1539.4,1828.7L1541.4,1835.9L1535.2,1831.8L1529.1,1835.9L1531.0,1828.7L1525.3,1824.1L1532.7,1823.8zM1544.0,1834.6L1546.6,1841.5L1554.0,1841.9L1548.2,1846.5L1550.1,1853.6L1544.0,1849.5L1537.8,1853.6L1539.8,1846.5L1534.0,1841.9L1541.4,1841.5zM1552.7,1648.4L1555.3,1655.3L1562.7,1655.7L1556.9,1660.3L1558.9,1667.4L1552.7,1663.3L1546.5,1667.4L1548.5,1660.3L1542.7,1655.7L1550.1,1655.3zM1561.4,1542.5L1564.0,1549.4L1571.4,1549.7L1565.6,1554.4L1567.6,1561.5L1561.4,1557.4L1555.3,1561.5L1557.2,1554.4L1551.4,1549.7L1558.8,1549.4zM1570.2,1520.4L1572.8,1527.3L1580.1,1527.6L1574.4,1532.2L1576.3,1539.4L1570.2,1535.3L1564.0,1539.4L1566.0,1532.2L1560.2,1527.6L1567.6,1527.3zM1578.9,1521.0L1581.5,1528.0L1588.9,1528.3L1583.1,1532.9L1585.1,1540.0L1578.9,1535.9L1572.7,1540.0L1574.7,1532.9L1568.9,1528.3L1576.3,1528.0zM1587.6,1522.4L1590.2,1529.3L1597.6,1529.6L1591.8,1534.2L1593.8,1541.4L1587.6,1537.3L1581.4,1541.4L1583.4,1534.2L1577.6,1529.6L1585.0,1529.3zM1596.3,1523.5L1598.9,1530.4L1606.3,1530.7L1600.5,1535.3L1602.5,1542.5L1596.3,1538.4L1590.2,1542.5L1592.2,1535.3L1586.4,1530.7L1593.8,1530.4zM1605.1,1524.4L1607.7,1531.3L1615.1,1531.7L1609.3,1536.3L1611.2,1543.4L1605.1,1539.3L1598.9,1543.4L1600.9,1536.3L1595.1,1531.7L1602.5,1531.3zM1613.8,1523.8L1616.4,1530.8L1623.8,1531.1L1618.0,1535.7L1620.0,1542.8L1613.8,1538.8L1607.6,1542.8L1609.6,1535.7L1603.8,1531.1L1611.2,1530.8zM1622.5,1519.3L1625.1,1526.2L1632.5,1526.5L1626.7,1531.1L1628.7,1538.3L1622.5,1534.2L1616.4,1538.3L1618.3,1531.1L1612.5,1526.5L1619.9,1526.2zM1631.3,1513.7L1633.9,1520.6L1641.2,1521.0L1635.5,1525.6L1637.4,1532.7L1631.3,1528.6L1625.1,1532.7L1627.1,1525.6L1621.3,1521.0L1628.7,1520.6zM1640.0,1507.2L1642.6,1514.1L1650.0,1514.4L1644.2,1519.0L1646.2,1526.2L1640.0,1522.1L1633.8,1526.2L1635.8,1519.0L1630.0,1514.4L1637.4,1514.1zM1648.7,1502.0L1651.3,1509.0L1658.7,1509.3L1652.9,1513.9L1654.9,1521.0L1648.7,1516.9L1642.5,1521.0L1644.5,1513.9L1638.7,1509.3L1646.1,1509.0zM1657.5,1501.1L1660.0,1508.0L1667.4,1508.3L1661.6,1512.9L1663.6,1520.1L1657.5,1516.0L1651.3,1520.1L1653.3,1512.9L1647.5,1508.3L1654.9,1508.0zM1666.2,1500.7L1668.8,1507.6L1676.2,1507.9L1670.4,1512.6L1672.4,1519.7L1666.2,1515.6L1660.0,1519.7L1662.0,1512.6L1656.2,1507.9L1663.6,1507.6zM1674.9,1502.7L1677.5,1509.7L1684.9,1510.0L1679.1,1514.6L1681.1,1521.7L1674.9,1517.6L1668.7,1521.7L1670.7,1514.6L1664.9,1510.0L1672.3,1509.7zM1683.6,1508.7L1686.2,1515.6L1693.6,1515.9L1687.8,1520.5L1689.8,1527.7L1683.6,1523.6L1677.5,1527.7L1679.4,1520.5L1673.7,1515.9L1681.0,1515.6zM1692.4,1520.4L1695.0,1527.3L1702.4,1527.6L1696.6,1532.2L1698.5,1539.4L1692.4,1535.3L1686.2,1539.4L1688.2,1532.2L1682.4,1527.6L1689.8,1527.3zM1701.1,1538.2L1703.7,1545.1L1711.1,1545.4L1705.3,1550.0L1707.3,1557.2L1701.1,1553.1L1694.9,1557.2L1696.9,1550.0L1691.1,1545.4L1698.5,1545.1zM1709.8,1566.7L1712.4,1573.6L1719.8,1573.9L1714.0,1578.5L1716.0,1585.7L1709.8,1581.6L1703.7,1585.7L1705.6,1578.5L1699.8,1573.9L1707.2,1573.6zM1718.6,1608.6L1721.1,1615.5L1728.5,1615.8L1722.7,1620.5L1724.7,1627.6L1718.6,1623.5L1712.4,1627.6L1714.4,1620.5L1708.6,1615.8L1716.0,1615.5zM1727.3,1668.3L1729.9,1675.3L1737.3,1675.6L1731.5,1680.2L1733.5,1687.3L1727.3,1683.2L1721.1,1687.3L1723.1,1680.2L1717.3,1675.6L1724.7,1675.3zM1736.0,1742.8L1738.6,1749.7L1746.0,1750.0L1740.2,1754.6L1742.2,1761.8L1736.0,1757.7L1729.8,1761.8L1731.8,1754.6L1726.0,1750.0L1733.4,1749.7zM1744.7,1806.3L1747.3,1813.2L1754.7,1813.5L1748.9,1818.2L1750.9,1825.3L1744.7,1821.2L1738.6,1825.3L1740.5,1818.2L1734.8,1813.5L1742.1,1813.2zM1753.5,1841.3L1756.1,1848.3L1763.5,1848.6L1757.7,1853.2L1759.6,1860.3L1753.5,1856.3L1747.3,1860.3L1749.3,1853.2L1743.5,1848.6L1750.9,1848.3zM1762.2,1862.1L1764.8,1869.1L1772.2,1869.4L1766.4,1874.0L1768.4,1881.1L1762.2,1877.0L1756.0,1881.1L1758.0,1874.0L1752.2,1869.4L1759.6,1869.1zM1770.9,1870.1L1773.5,1877.0L1780.9,1877.4L1775.1,1882.0L1777.1,1889.1L1770.9,1885.0L1764.8,1889.1L1766.7,1882.0L1760.9,1877.4L1768.3,1877.0zM1779.7,1873.8L1782.2,1880.8L1789.6,1881.1L1783.9,1885.7L1785.8,1892.8L1779.7,1888.7L1773.5,1892.8L1775.5,1885.7L1769.7,1881.1L1777.1,1880.8zM1788.4,1874.3L1791.0,1881.2L1798.4,1881.5L1792.6,1886.1L1794.6,1893.3L1788.4,1889.2L1782.2,1893.3L1784.2,1886.1L1778.4,1881.5L1785.8,1881.2zM1797.1,1874.2L1799.7,1881.2L1807.1,1881.5L1801.3,1886.1L1803.3,1893.2L1797.1,1889.2L1790.9,1893.2L1792.9,1886.1L1787.1,1881.5L1794.5,1881.2zM1805.8,1874.2L1808.4,1881.1L1815.8,1881.5L1810.0,1886.1L1812.0,1893.2L1805.8,1889.1L1799.7,1893.2L1801.6,1886.1L1795.9,1881.5L1803.3,1881.1zM1814.6,1874.2L1817.2,1881.1L1824.6,1881.4L1818.8,1886.0L1820.7,1893.1L1814.6,1889.1L1808.4,1893.1L1810.4,1886.0L1804.6,1881.4L1812.0,1881.1zM1823.3,1874.1L1825.9,1881.0L1833.3,1881.3L1827.5,1885.9L1829.5,1893.1L1823.3,1889.0L1817.1,1893.1L1819.1,1885.9L1813.3,1881.3L1820.7,1881.0zM1832.0,1874.0L1834.6,1880.9L1842.0,1881.2L1836.2,1885.8L1838.2,1893.0L1832.0,1888.9L1825.9,1893.0L1827.8,1885.8L1822.0,1881.2L1829.4,1880.9zM1840.8,1873.9L1843.4,1880.8L1850.7,1881.1L1845.0,1885.7L1846.9,1892.9L1840.8,1888.8L1834.6,1892.9L1836.6,1885.7L1830.8,1881.1L1838.2,1880.8zM1849.5,1873.7L1852.1,1880.6L1859.5,1881.0L1853.7,1885.6L1855.7,1892.7L1849.5,1888.6L1843.3,1892.7L1845.3,1885.6L1839.5,1881.0L1846.9,1880.6zM1858.2,1873.5L1860.8,1880.5L1868.2,1880.8L1862.4,1885.4L1864.4,1892.5L1858.2,1888.4L1852.0,1892.5L1854.0,1885.4L1848.2,1880.8L1855.6,1880.5zM1866.9,1873.3L1869.5,1880.3L1876.9,1880.6L1871.1,1885.2L1873.1,1892.3L1866.9,1888.2L1860.8,1892.3L1862.8,1885.2L1857.0,1880.6L1864.4,1880.3zM1875.7,1873.1L1878.3,1880.0L1885.7,1880.4L1879.9,1885.0L1881.8,1892.1L1875.7,1888.0L1869.5,1892.1L1871.5,1885.0L1865.7,1880.4L1873.1,1880.0zM1884.4,1872.8L1887.0,1879.8L1894.4,1880.1L1888.6,1884.7L1890.6,1891.8L1884.4,1887.7L1878.2,1891.8L1880.2,1884.7L1874.4,1880.1L1881.8,1879.8zM1893.1,1872.5L1895.7,1879.5L1903.1,1879.8L1897.3,1884.4L1899.3,1891.5L1893.1,1887.4L1887.0,1891.5L1888.9,1884.4L1883.1,1879.8L1890.5,1879.5zM1901.9,1872.2L1904.5,1879.1L1911.8,1879.5L1906.1,1884.1L1908.0,1891.2L1901.9,1887.1L1895.7,1891.2L1897.7,1884.1L1891.9,1879.5L1899.3,1879.1zM1910.6,1871.3L1913.2,1878.2L1920.6,1878.6L1914.8,1883.2L1916.8,1890.3L1910.6,1886.2L1904.4,1890.3L1906.4,1883.2L1900.6,1878.6L1908.0,1878.2zM1919.3,1868.5L1921.9,1875.5L1929.3,1875.8L1923.5,1880.4L1925.5,1887.5L1919.3,1883.4L1913.1,1887.5L1915.1,1880.4L1909.3,1875.8L1916.7,1875.5zM1928.0,1866.5L1930.6,1873.4L1938.0,1873.7L1932.2,1878.3L1934.2,1885.5L1928.0,1881.4L1921.9,1885.5L1923.9,1878.3L1918.1,1873.7L1925.5,1873.4zM1936.8,1865.8L1939.4,1872.8L1946.8,1873.1L1941.0,1877.7L1942.9,1884.8L1936.8,1880.7L1930.6,1884.8L1932.6,1877.7L1926.8,1873.1L1934.2,1872.8zM1945.5,1865.4L1948.1,1872.4L1955.5,1872.7L1949.7,1877.3L1951.7,1884.4L1945.5,1880.3L1939.3,1884.4L1941.3,1877.3L1935.5,1872.7L1942.9,1872.4zM1954.2,1865.4L1956.8,1872.3L1964.2,1872.7L1958.4,1877.3L1960.4,1884.4L1954.2,1880.3L1948.1,1884.4L1950.0,1877.3L1944.2,1872.7L1951.6,1872.3zM1963.0,1865.8L1965.6,1872.7L1973.0,1873.0L1967.2,1877.6L1969.1,1884.8L1963.0,1880.7L1956.8,1884.8L1958.8,1877.6L1953.0,1873.0L1960.4,1872.7zM1971.7,1866.5L1974.3,1873.4L1981.7,1873.7L1975.9,1878.3L1977.9,1885.5L1971.7,1881.4L1965.5,1885.5L1967.5,1878.3L1961.7,1873.7L1969.1,1873.4z" stroke="#ff00ff" stroke-width="1.4"/>
<path d="M1362.3,1889.6L1353.2,1894.8L1344.1,1889.6L1344.1,1879.1L1353.2,1873.8L1362.3,1879.1zM1371.0,1886.1L1361.9,1891.3L1352.8,1886.1L1352.8,1875.6L1361.9,1870.3L1371.0,1875.6zM1379.7,1880.9L1370.6,1886.2L1361.5,1880.9L1361.5,1870.4L1370.6,1865.2L1379.7,1870.4zM1388.5,1874.4L1379.4,1879.6L1370.3,1874.4L1370.3,1863.9L1379.4,1858.6L1388.5,1863.9zM1397.2,1866.7L1388.1,1871.9L1379.0,1866.7L1379.0,1856.2L1388.1,1850.9L1397.2,1856.2zM1405.9,1858.1L1396.8,1863.3L1387.7,1858.1L1387.7,1847.6L1396.8,1842.3L1405.9,1847.6zM1414.6,1848.9L1405.6,1854.1L1396.5,1848.9L1396.5,1838.4L1405.6,1833.1L1414.6,1838.4zM1423.4,1839.2L1414.3,1844.5L1405.2,1839.2L1405.2,1828.7L1414.3,1823.5L1423.4,1828.7zM1432.1,1827.7L1423.0,1832.9L1413.9,1827.7L1413.9,1817.2L1423.0,1811.9L1432.1,1817.2zM1440.8,1812.9L1431.7,1818.1L1422.6,1812.9L1422.6,1802.4L1431.7,1797.1L1440.8,1802.4zM1449.6,1797.0L1440.5,1802.2L1431.4,1797.0L1431.4,1786.5L1440.5,1781.2L1449.6,1786.5zM1458.3,1779.1L1449.2,1784.3L1440.1,1779.1L1440.1,1768.6L1449.2,1763.3L1458.3,1768.6zM1467.0,1761.5L1457.9,1766.8L1448.8,1761.5L1448.8,1751.0L1457.9,1745.8L1467.0,1751.0zM1475.8,1744.5L1466.7,1749.7L1457.6,1744.5L1457.6,1734.0L1466.7,1728.7L1475.8,1734.0zM1484.5,1729.1L1475.4,1734.3L1466.3,1729.1L1466.3,1718.6L1475.4,1713.3L1484.5,1718.6zM1493.2,1720.3L1484.1,1725.6L1475.0,1720.3L1475.0,1709.8L1484.1,1704.6L1493.2,1709.8zM1501.9,1715.3L1492.8,1720.6L1483.8,1715.3L1483.8,1704.8L1492.8,1699.6L1501.9,1704.8zM1510.7,1716.8L1501.6,1722.1L1492.5,1716.8L1492.5,1706.3L1501.6,1701.1L1510.7,1706.3zM1519.4,1723.9L1510.3,1729.1L1501.2,1723.9L1501.2,1713.4L1510.3,1708.1L1519.4,1713.4zM1528.1,1743.2L1519.0,1748.4L1509.9,1743.2L1509.9,1732.7L1519.0,1727.4L1528.1,1732.7zM1536.9,1773.5L1527.8,1778.8L1518.7,1773.5L1518.7,1763.0L1527.8,1757.8L1536.9,1763.0zM1545.6,1816.4L1536.5,1821.7L1527.4,1816.4L1527.4,1805.9L1536.5,1800.7L1545.6,1805.9zM1554.3,1845.7L1545.2,1851.0L1536.1,1845.7L1536.1,1835.2L1545.2,1830.0L1554.3,1835.2zM1563.0,1664.2L1553.9,1669.4L1544.9,1664.2L1544.9,1653.7L1553.9,1648.4L1563.0,1653.7zM1571.8,1571.3L1562.7,1576.6L1553.6,1571.3L1553.6,1560.8L1562.7,1555.6L1571.8,1560.8zM1580.5,1549.7L1571.4,1554.9L1562.3,1549.7L1562.3,1539.2L1571.4,1533.9L1580.5,1539.2zM1589.2,1549.7L1580.1,1555.0L1571.0,1549.7L1571.0,1539.2L1580.1,1534.0L1589.2,1539.2zM1598.0,1551.2L1588.9,1556.5L1579.8,1551.2L1579.8,1540.7L1588.9,1535.5L1598.0,1540.7zM1606.7,1552.4L1597.6,1557.6L1588.5,1552.4L1588.5,1541.9L1597.6,1536.6L1606.7,1541.9zM1615.4,1553.2L1606.3,1558.4L1597.2,1553.2L1597.2,1542.7L1606.3,1537.4L1615.4,1542.7zM1624.1,1552.4L1615.1,1557.6L1606.0,1552.4L1606.0,1541.9L1615.1,1536.6L1624.1,1541.9zM1632.9,1548.6L1623.8,1553.8L1614.7,1548.6L1614.7,1538.1L1623.8,1532.8L1632.9,1538.1zM1641.6,1543.8L1632.5,1549.1L1623.4,1543.8L1623.4,1533.3L1632.5,1528.1L1641.6,1533.3zM1650.3,1536.4L1641.2,1541.7L1632.1,1536.4L1632.1,1525.9L1641.2,1520.7L1650.3,1525.9zM1659.1,1530.9L1650.0,1536.1L1640.9,1530.9L1640.9,1520.4L1650.0,1515.1L1659.1,1520.4zM1667.8,1529.3L1658.7,1534.6L1649.6,1529.3L1649.6,1518.8L1658.7,1513.6L1667.8,1518.8zM1676.5,1528.7L1667.4,1533.9L1658.3,1528.7L1658.3,1518.2L1667.4,1512.9L1676.5,1518.2zM1685.2,1531.0L1676.2,1536.2L1667.1,1531.0L1667.1,1520.5L1676.2,1515.2L1685.2,1520.5zM1694.0,1536.6L1684.9,1541.8L1675.8,1536.6L1675.8,1526.1L1684.9,1520.8L1694.0,1526.1zM1702.7,1549.3L1693.6,1554.6L1684.5,1549.3L1684.5,1538.8L1693.6,1533.6L1702.7,1538.8zM1711.4,1569.7L1702.3,1574.9L1693.2,1569.7L1693.2,1559.2L1702.3,1553.9L1711.4,1559.2zM1720.2,1603.0L1711.1,1608.3L1702.0,1603.0L1702.0,1592.5L1711.1,1587.3L1720.2,1592.5zM1728.9,1649.8L1719.8,1655.1L1710.7,1649.8L1710.7,1639.3L1719.8,1634.1L1728.9,1639.3zM1737.6,1717.5L1728.5,1722.7L1719.4,1717.5L1719.4,1707.0L1728.5,1701.7L1737.6,1707.0zM1746.4,1786.2L1737.3,1791.4L1728.2,1786.2L1728.2,1775.7L1737.3,1770.4L1746.4,1775.7zM1755.1,1839.4L1746.0,1844.6L1736.9,1839.4L1736.9,1828.9L1746.0,1823.6L1755.1,1828.9zM1763.8,1869.3L1754.7,1874.5L1745.6,1869.3L1745.6,1858.8L1754.7,1853.5L1763.8,1858.8zM1772.5,1882.8L1763.4,1888.0L1754.4,1882.8L1754.4,1872.3L1763.4,1867.0L1772.5,1872.3zM1781.3,1887.9L1772.2,1893.1L1763.1,1887.9L1763.1,1877.4L1772.2,1872.1L1781.3,1877.4zM1790.0,1890.5L1780.9,1895.8L1771.8,1890.5L1771.8,1880.0L1780.9,1874.8L1790.0,1880.0zM1798.7,1890.7L1789.6,1895.9L1780.5,1890.7L1780.5,1880.2L1789.6,1874.9L1798.7,1880.2zM1807.5,1890.7L1798.4,1895.9L1789.3,1890.7L1789.3,1880.2L1798.4,1874.9L1807.5,1880.2zM1816.2,1890.6L1807.1,1895.9L1798.0,1890.6L1798.0,1880.1L1807.1,1874.9L1816.2,1880.1zM1824.9,1890.6L1815.8,1895.9L1806.7,1890.6L1806.7,1880.1L1815.8,1874.9L1824.9,1880.1zM1833.6,1890.6L1824.5,1895.8L1815.5,1890.6L1815.5,1880.1L1824.5,1874.8L1833.6,1880.1zM1842.4,1890.5L1833.3,1895.7L1824.2,1890.5L1824.2,1880.0L1833.3,1874.7L1842.4,1880.0zM1851.1,1890.4L1842.0,1895.7L1832.9,1890.4L1832.9,1879.9L1842.0,1874.7L1851.1,1879.9zM1859.8,1890.3L1850.7,1895.6L1841.6,1890.3L1841.6,1879.8L1850.7,1874.6L1859.8,1879.8zM1868.6,1890.2L1859.5,1895.4L1850.4,1890.2L1850.4,1879.7L1859.5,1874.4L1868.6,1879.7zM1877.3,1890.1L1868.2,1895.3L1859.1,1890.1L1859.1,1879.6L1868.2,1874.3L1877.3,1879.6zM1886.0,1889.9L1876.9,1895.2L1867.8,1889.9L1867.8,1879.4L1876.9,1874.2L1886.0,1879.4zM1894.7,1889.7L1885.7,1895.0L1876.6,1889.7L1876.6,1879.2L1885.7,1874.0L1894.7,1879.2zM1903.5,1889.5L1894.4,1894.8L1885.3,1889.5L1885.3,1879.0L1894.4,1873.8L1903.5,1879.0zM1912.2,1889.3L1903.1,1894.6L1894.0,1889.3L1894.0,1878.8L1903.1,1873.6L1912.2,1878.8zM1920.9,1889.1L1911.8,1894.3L1902.7,1889.1L1902.7,1878.6L1911.8,1873.3L1920.9,1878.6zM1929.7,1888.6L1920.6,1893.9L1911.5,1888.6L1911.5,1878.1L1920.6,1872.9L1929.7,1878.1zM1938.4,1887.0L1929.3,1892.3L1920.2,1887.0L1920.2,1876.5L1929.3,1871.3L1938.4,1876.5zM1947.1,1884.7L1938.0,1890.0L1928.9,1884.7L1928.9,1874.2L1938.0,1869.0L1947.1,1874.2zM1955.8,1882.0L1946.8,1887.3L1937.7,1882.0L1937.7,1871.5L1946.8,1866.3L1955.8,1871.5zM1964.6,1878.4L1955.5,1883.6L1946.4,1878.4L1946.4,1867.9L1955.5,1862.6L1964.6,1867.9zM1973.3,1874.0L1964.2,1879.2L1955.1,1874.0L1955.1,1863.5L1964.2,1858.2L1973.3,1863.5z" stroke="#00ff00" stroke-width="1.4"/>
</g>
<rect x="1786.1" y="1422.9" width="185.60000000000014" height="439.0" fill="#fff" stroke="#bbb" stroke-width="1.5"/>
<line x1="1810.5" y1="1482.3" x2="1865.7" y2="1482.3" stroke="#000000" stroke-width="4.2"/>
<text transform="translate(1871,1489.3) scale(1.07,1)" font-family="'Liberation Serif', 'Times New Roman', serif" font-size="22" fill="#111"><tspan font-style="italic">β</tspan><tspan font-size="13" dy="-9">2</tspan><tspan font-size="13" dx="-7" dy="17">1</tspan><tspan dy="-8">=0.68</tspan></text>
<line x1="1810.5" y1="1522.3" x2="1865.7" y2="1522.3" stroke="#ff8000" stroke-width="4.2"/>
<text transform="translate(1871,1529.3) scale(1.07,1)" font-family="'Liberation Serif', 'Times New Roman', serif" font-size="22" fill="#111"><tspan font-style="italic">β</tspan><tspan font-size="13" dy="-9">2</tspan><tspan font-size="13" dx="-7" dy="17">1</tspan><tspan dy="-8">=0.41</tspan></text>
<line x1="1810.5" y1="1562.3" x2="1865.7" y2="1562.3" stroke="#0000ff" stroke-width="4.2"/>
<text transform="translate(1871,1569.3) scale(1.07,1)" font-family="'Liberation Serif', 'Times New Roman', serif" font-size="22" fill="#111"><tspan font-style="italic">β</tspan><tspan font-size="13" dy="-9">2</tspan><tspan font-size="13" dx="-7" dy="17">1</tspan><tspan dy="-8">=0.255</tspan></text>
<line x1="1810.5" y1="1602.3" x2="1865.7" y2="1602.3" stroke="#ff00ff" stroke-width="4.2"/>
<text transform="translate(1871,1609.3) scale(1.07,1)" font-family="'Liberation Serif', 'Times New Roman', serif" font-size="22" fill="#111"><tspan font-style="italic">β</tspan><tspan font-size="13" dy="-9">2</tspan><tspan font-size="13" dx="-7" dy="17">1</tspan><tspan dy="-8">=0.193</tspan></text>
<line x1="1810.5" y1="1642.3" x2="1865.7" y2="1642.3" stroke="#00ff00" stroke-width="4.2"/>
<text transform="translate(1871,1649.3) scale(1.07,1)" font-family="'Liberation Serif', 'Times New Roman', serif" font-size="22" fill="#111"><tspan font-style="italic">β</tspan><tspan font-size="13" dy="-9">2</tspan><tspan font-size="13" dx="-7" dy="17">1</tspan><tspan dy="-8">=0.157</tspan></text>
<rect x="1829.6" y="1673.8" width="17.0" height="17.0" stroke="#000000" fill="none" stroke-width="1.6"/>
<text transform="translate(1871,1689.3) scale(1.07,1)" font-family="'Liberation Serif', 'Times New Roman', serif" font-size="22" fill="#111"><tspan font-style="italic">β</tspan><tspan font-size="13" dy="-9">2</tspan><tspan font-size="13" dx="-7" dy="17">1</tspan><tspan dy="-8">=0.68</tspan></text>
<circle cx="1838.1" cy="1722.3" r="9.5" stroke="#ff8000" fill="none" stroke-width="1.6"/>
<text transform="translate(1871,1729.3) scale(1.07,1)" font-family="'Liberation Serif', 'Times New Roman', serif" font-size="22" fill="#111"><tspan font-style="italic">β</tspan><tspan font-size="13" dy="-9">2</tspan><tspan font-size="13" dx="-7" dy="17">1</tspan><tspan dy="-8">=0.41</tspan></text>
<path d="M1838.1,1751.3 L1849.6,1771.1 L1826.6,1771.1 Z" stroke="#0000ff" fill="none" stroke-width="1.6"/>
<text transform="translate(1871,1769.3) scale(1.07,1)" font-family="'Liberation Serif', 'Times New Roman', serif" font-size="22" fill="#111"><tspan font-style="italic">β</tspan><tspan font-size="13" dy="-9">2</tspan><tspan font-size="13" dx="-7" dy="17">1</tspan><tspan dy="-8">=0.255</tspan></text>
<path d="M1838.1,1791.8 L1840.7,1798.7 L1848.1,1799.1 L1842.3,1803.7 L1844.3,1810.8 L1838.1,1806.7 L1831.9,1810.8 L1833.9,1803.7 L1828.1,1799.1 L1835.5,1798.7 Z" stroke="#ff00ff" fill="none" stroke-width="1.6"/>
<text transform="translate(1871,1809.3) scale(1.07,1)" font-family="'Liberation Serif', 'Times New Roman', serif" font-size="22" fill="#111"><tspan font-style="italic">β</tspan><tspan font-size="13" dy="-9">2</tspan><tspan font-size="13" dx="-7" dy="17">1</tspan><tspan dy="-8">=0.193</tspan></text>
<path d="M1847.2,1847.5 L1838.1,1852.8 L1829.0,1847.5 L1829.0,1837.0 L1838.1,1831.8 L1847.2,1837.0 Z" stroke="#00ff00" fill="none" stroke-width="1.6"/>
<text transform="translate(1871,1849.3) scale(1.07,1)" font-family="'Liberation Serif', 'Times New Roman', serif" font-size="22" fill="#111"><tspan font-style="italic">β</tspan><tspan font-size="13" dy="-9">2</tspan><tspan font-size="13" dx="-7" dy="17">1</tspan><tspan dy="-8">=0.157</tspan></text>
<rect x="1348.2" y="1422.9" width="623.5" height="464.29999999999995" fill="none" stroke="#555" stroke-width="2.2"/>
<path d="M1348.2,1887.2 v-9 M1472.9,1887.2 v-9 M1597.6,1887.2 v-9 M1722.3,1887.2 v-9 M1847.0,1887.2 v-9 M1971.7,1887.2 v-9 M1379.4,1887.2 v-5 M1410.5,1887.2 v-5 M1441.7,1887.2 v-5 M1504.1,1887.2 v-5 M1535.2,1887.2 v-5 M1566.4,1887.2 v-5 M1628.8,1887.2 v-5 M1660.0,1887.2 v-5 M1691.1,1887.2 v-5 M1753.5,1887.2 v-5 M1784.7,1887.2 v-5 M1815.8,1887.2 v-5 M1878.2,1887.2 v-5 M1909.3,1887.2 v-5 M1940.5,1887.2 v-5 M1348.2,1887.2 h9 M1348.2,1794.3 h9 M1348.2,1701.5 h9 M1348.2,1608.6 h9 M1348.2,1515.8 h9 M1348.2,1422.9 h9 M1348.2,1864.0 h5 M1348.2,1840.8 h5 M1348.2,1817.6 h5 M1348.2,1771.1 h5 M1348.2,1747.9 h5 M1348.2,1724.7 h5 M1348.2,1678.3 h5 M1348.2,1655.1 h5 M1348.2,1631.8 h5 M1348.2,1585.4 h5 M1348.2,1562.2 h5 M1348.2,1539.0 h5 M1348.2,1492.5 h5 M1348.2,1469.3 h5 M1348.2,1446.1 h5" stroke="#555" stroke-width="2.2" fill="none"/>
<text x="1348.2" y="1928.2" font-family="'Liberation Sans', Arial, sans-serif" font-size="39" text-anchor="middle" fill="#111">0</text>
<text x="1472.9" y="1928.2" font-family="'Liberation Sans', Arial, sans-serif" font-size="39" text-anchor="middle" fill="#111">2</text>
<text x="1597.6" y="1928.2" font-family="'Liberation Sans', Arial, sans-serif" font-size="39" text-anchor="middle" fill="#111">4</text>
<text x="1722.3" y="1928.2" font-family="'Liberation Sans', Arial, sans-serif" font-size="39" text-anchor="middle" fill="#111">6</text>
<text x="1847.0" y="1928.2" font-family="'Liberation Sans', Arial, sans-serif" font-size="39" text-anchor="middle" fill="#111">8</text>
<text x="1971.7" y="1928.2" font-family="'Liberation Sans', Arial, sans-serif" font-size="39" text-anchor="middle" fill="#111">10</text>
<text x="1339.2" y="1897.7" font-family="'Liberation Sans', Arial, sans-serif" font-size="39" text-anchor="end" fill="#111">0.0</text>
<text x="1339.2" y="1804.8" font-family="'Liberation Sans', Arial, sans-serif" font-size="39" text-anchor="end" fill="#111">0.2</text>
<text x="1339.2" y="1712.0" font-family="'Liberation Sans', Arial, sans-serif" font-size="39" text-anchor="end" fill="#111">0.4</text>
<text x="1339.2" y="1619.1" font-family="'Liberation Sans', Arial, sans-serif" font-size="39" text-anchor="end" fill="#111">0.6</text>
<text x="1339.2" y="1526.3" font-family="'Liberation Sans', Arial, sans-serif" font-size="39" text-anchor="end" fill="#111">0.8</text>
<text x="1339.2" y="1433.4" font-family="'Liberation Sans', Arial, sans-serif" font-size="39" text-anchor="end" fill="#111">1.0</text>
<text x="1660" y="1969" font-family="'Liberation Serif', 'Times New Roman', serif" font-size="39" text-anchor="middle" fill="#111">Frequency (THz)</text>
<text transform="translate(1245,1679) rotate(-90)" font-family="'Liberation Serif', 'Times New Roman', serif" font-size="39.5" text-anchor="middle" fill="#111">Transmission</text>
<text x="1212" y="1967" font-family="'Liberation Serif', 'Times New Roman', serif" font-size="50" fill="#111">(f)</text>
<clipPath id="clipg"><rect x="171.9" y="2103.2" width="620.0" height="461.2000000000003"/></clipPath>
<g clip-path="url(#clipg)" fill="none" stroke-linejoin="round" stroke-linecap="round">
<path d="M171.9,2564.4 184.3,2563.5 195.4,2561.4 199.1,2559.9 204.1,2557.0 212.8,2550.2 217.7,2544.9 223.9,2535.1 232.6,2518.2 238.8,2503.7 243.8,2489.9 248.7,2473.8 252.4,2459.3 257.4,2437.3 263.6,2404.9 283.4,2292.3 289.6,2261.5 295.8,2234.4 300.8,2218.0 304.5,2208.8 307.0,2203.8 309.5,2199.9 312.0,2197.0 314.4,2195.0 316.9,2194.1 319.4,2194.9 321.9,2197.4 324.4,2201.1 326.8,2206.3 331.8,2221.5 336.7,2244.0 342.9,2282.1 349.1,2328.2 354.1,2371.3 362.8,2456.8 369.0,2506.6 372.7,2527.4 377.7,2548.7 381.4,2559.3 382.6,2561.2 383.9,2562.2 385.1,2562.3 387.6,2560.5 390.1,2556.8 397.5,2541.6 429.7,2451.9 437.2,2434.8 444.6,2421.5 453.3,2409.0 463.2,2396.9 471.9,2387.7 489.2,2371.0 501.6,2358.0 514.0,2344.0 525.2,2330.0 548.7,2298.4 559.9,2281.9 568.6,2266.8 600.8,2207.2 603.3,2203.9 607.0,2201.0 609.5,2200.8 612.0,2202.5 614.5,2206.4 615.7,2209.5 618.2,2218.8 621.9,2242.0 624.4,2265.4 628.1,2308.9 631.8,2359.7 638.0,2469.4 640.5,2506.4 643.0,2531.4 644.2,2538.7 645.4,2541.6 646.7,2539.4 647.9,2532.6 652.9,2486.9 656.6,2456.4 660.3,2430.0 664.0,2408.6 678.9,2334.6 683.9,2312.3 695.0,2269.4 701.2,2248.4 706.2,2233.2 717.4,2203.1 727.3,2180.1 736.0,2162.8 744.6,2149.8 754.5,2138.5 759.5,2134.2 764.5,2130.8 769.4,2128.2 778.1,2124.6 784.3,2122.6 790.5,2121.3" stroke="#000000" stroke-width="4.6"/>
<path d="M171.9,2562.2 176.8,2561.8 181.8,2560.9 195.4,2556.8 202.9,2553.1 211.5,2546.9 216.5,2542.2 221.5,2535.7 228.9,2523.2 235.1,2511.3 241.3,2497.1 248.7,2477.9 253.7,2463.4 257.4,2450.5 262.4,2429.1 279.7,2343.9 285.9,2318.2 292.1,2296.9 298.3,2279.6 304.5,2267.8 307.0,2264.1 309.5,2261.6 312.0,2260.2 314.4,2259.6 316.9,2260.2 319.4,2262.2 323.1,2266.8 325.6,2271.0 330.5,2282.9 334.3,2296.1 338.0,2315.5 344.2,2354.7 351.6,2406.5 361.5,2480.8 367.7,2517.0 371.5,2531.9 376.4,2545.1 378.9,2550.1 381.4,2553.6 383.9,2555.1 385.1,2555.1 387.6,2553.6 390.1,2550.6 393.8,2544.9 397.5,2537.9 402.5,2525.7 419.8,2477.5 428.5,2454.8 433.4,2443.8 438.4,2434.1 448.3,2418.8 455.8,2409.3 463.2,2401.5 470.6,2395.3 488.0,2382.8 493.0,2378.3 497.9,2373.0 538.8,2323.0 574.8,2276.0 590.9,2255.7 594.6,2252.4 599.6,2249.2 602.1,2248.3 603.3,2248.3 605.8,2249.4 609.5,2254.1 612.0,2259.7 613.2,2263.7 615.7,2275.0 618.2,2292.7 621.9,2332.2 626.9,2393.6 634.3,2497.2 636.8,2520.9 638.0,2528.1 639.3,2532.1 640.5,2534.0 641.7,2534.6 644.2,2534.7 646.7,2533.9 647.9,2532.2 649.2,2528.4 650.4,2522.1 657.8,2461.9 669.0,2387.0 672.7,2366.3 677.7,2344.7 691.3,2289.7 698.8,2264.6 709.9,2231.6 719.8,2205.9 729.8,2183.7 737.2,2169.6 745.9,2157.1 750.8,2151.3 755.8,2146.2 760.7,2142.2 765.7,2138.9 770.7,2136.6 778.1,2134.3 784.3,2132.9 790.5,2132.3" stroke="#ff8000" stroke-width="4.6"/>
<path d="M171.9,2544.9 178.1,2543.7 186.7,2540.8 195.4,2537.0 201.6,2533.1 210.3,2526.5 219.0,2518.8 226.4,2511.0 232.6,2503.5 241.3,2490.7 252.4,2470.0 261.1,2452.3 276.0,2418.9 288.4,2393.2 293.4,2383.9 297.1,2378.3 300.8,2374.1 307.0,2369.1 310.7,2367.5 313.2,2367.5 314.4,2368.0 316.9,2369.5 319.4,2371.8 325.6,2379.5 329.3,2386.4 335.5,2401.5 340.5,2415.4 360.3,2481.6 369.0,2505.9 372.7,2514.1 376.4,2519.9 381.4,2525.1 385.1,2527.2 387.6,2527.4 391.3,2525.9 396.3,2522.0 400.0,2517.8 403.7,2511.8 409.9,2500.4 426.0,2467.7 433.4,2454.2 438.4,2446.5 444.6,2437.8 450.8,2429.7 457.0,2422.6 462.0,2417.8 466.9,2413.7 488.0,2400.0 496.7,2393.2 572.3,2324.4 578.5,2320.3 585.9,2316.6 588.4,2316.0 590.9,2316.0 593.4,2316.8 595.9,2318.4 600.8,2323.4 604.5,2330.1 609.5,2344.0 614.5,2360.9 618.2,2376.0 625.6,2411.4 629.3,2424.2 633.1,2433.6 639.3,2444.5 643.0,2448.7 645.4,2449.5 646.7,2449.0 647.9,2447.9 650.4,2443.6 656.6,2426.5 660.3,2413.0 669.0,2377.3 674.0,2359.2 691.3,2306.6 698.8,2286.4 705.0,2271.2 721.1,2236.8 727.3,2225.2 734.7,2213.2 742.2,2203.3 750.8,2193.5 759.5,2185.3 771.9,2175.3 781.8,2168.5 790.5,2164.0" stroke="#0000ff" stroke-width="4.6"/>
<path d="M171.9,2509.4 181.8,2508.4 195.4,2505.2 204.1,2501.2 215.3,2494.5 222.7,2489.1 233.8,2479.6 240.0,2473.8 254.9,2458.6 267.3,2447.8 292.1,2429.2 297.1,2426.3 300.8,2424.9 305.8,2424.4 310.7,2425.5 316.9,2428.2 324.4,2432.4 330.5,2437.4 339.2,2446.1 352.9,2463.7 360.3,2472.4 365.3,2477.5 370.2,2480.8 377.7,2483.9 382.6,2485.3 387.6,2485.5 391.3,2484.8 396.3,2482.8 403.7,2479.0 408.7,2475.7 431.0,2456.9 450.8,2437.5 463.2,2428.3 471.9,2423.1 496.7,2409.9 553.7,2375.2 568.6,2367.4 574.8,2364.7 578.5,2363.8 583.5,2363.7 590.9,2364.8 595.9,2366.5 599.6,2369.0 607.0,2376.1 618.2,2385.8 625.6,2390.9 630.6,2393.6 634.3,2394.5 643.0,2394.6 646.7,2394.3 649.2,2393.5 655.4,2389.1 661.6,2383.3 667.8,2375.7 672.7,2368.2 683.9,2347.3 716.1,2282.9 729.8,2258.8 737.2,2247.5 742.2,2241.6 748.3,2235.1 759.5,2225.3 768.2,2218.9 776.9,2213.1 784.3,2208.9 790.5,2206.1" stroke="#ff00ff" stroke-width="4.6"/>
</g>
<rect x="635.7" y="2426.2" width="156.19999999999993" height="138.20000000000027" fill="#fff" stroke="#666" stroke-width="1.5"/>
<line x1="648" y1="2453.6" x2="703.5" y2="2453.6" stroke="#000000" stroke-width="4.2"/>
<text transform="translate(711,2460.6) scale(1.07,1)" font-family="'Liberation Serif', 'Times New Roman', serif" font-size="22" fill="#111"><tspan font-style="italic">τ</tspan>=1ps</text>
<line x1="648" y1="2485.7" x2="703.5" y2="2485.7" stroke="#ff8000" stroke-width="4.2"/>
<text transform="translate(711,2492.7) scale(1.07,1)" font-family="'Liberation Serif', 'Times New Roman', serif" font-size="22" fill="#111"><tspan font-style="italic">τ</tspan>=0.5ps</text>
<line x1="648" y1="2517.7999999999997" x2="703.5" y2="2517.7999999999997" stroke="#0000ff" stroke-width="4.2"/>
<text transform="translate(711,2524.8) scale(1.07,1)" font-family="'Liberation Serif', 'Times New Roman', serif" font-size="22" fill="#111"><tspan font-style="italic">τ</tspan>=0.2ps</text>
<line x1="648" y1="2549.9" x2="703.5" y2="2549.9" stroke="#ff00ff" stroke-width="4.2"/>
<text transform="translate(711,2556.9) scale(1.07,1)" font-family="'Liberation Serif', 'Times New Roman', serif" font-size="22" fill="#111"><tspan font-style="italic">τ</tspan>=0.1ps</text>
<rect x="171.9" y="2103.2" width="620.0" height="461.2000000000003" fill="none" stroke="#333" stroke-width="2.2"/>
<path d="M171.9,2564.4 v-9 M295.9,2564.4 v-9 M419.9,2564.4 v-9 M543.9,2564.4 v-9 M667.9,2564.4 v-9 M791.9,2564.4 v-9 M233.9,2564.4 v-5 M357.9,2564.4 v-5 M481.9,2564.4 v-5 M605.9,2564.4 v-5 M729.9,2564.4 v-5 M171.9,2564.4 h9 M171.9,2472.2 h9 M171.9,2379.9 h9 M171.9,2287.7 h9 M171.9,2195.4 h9 M171.9,2103.2 h9 M171.9,2518.3 h5 M171.9,2426.0 h5 M171.9,2333.8 h5 M171.9,2241.6 h5 M171.9,2149.3 h5" stroke="#333" stroke-width="2.2" fill="none"/>
<text x="171.9" y="2605.4" font-family="'Liberation Sans', Arial, sans-serif" font-size="39" text-anchor="middle" fill="#111">0</text>
<text x="295.9" y="2605.4" font-family="'Liberation Sans', Arial, sans-serif" font-size="39" text-anchor="middle" fill="#111">2</text>
<text x="419.9" y="2605.4" font-family="'Liberation Sans', Arial, sans-serif" font-size="39" text-anchor="middle" fill="#111">4</text>
<text x="543.9" y="2605.4" font-family="'Liberation Sans', Arial, sans-serif" font-size="39" text-anchor="middle" fill="#111">6</text>
<text x="667.9" y="2605.4" font-family="'Liberation Sans', Arial, sans-serif" font-size="39" text-anchor="middle" fill="#111">8</text>
<text x="791.9" y="2605.4" font-family="'Liberation Sans', Arial, sans-serif" font-size="39" text-anchor="middle" fill="#111">10</text>
<text x="162.9" y="2574.9" font-family="'Liberation Sans', Arial, sans-serif" font-size="39" text-anchor="end" fill="#111">0.0</text>
<text x="162.9" y="2482.7" font-family="'Liberation Sans', Arial, sans-serif" font-size="39" text-anchor="end" fill="#111">0.2</text>
<text x="162.9" y="2390.4" font-family="'Liberation Sans', Arial, sans-serif" font-size="39" text-anchor="end" fill="#111">0.4</text>
<text x="162.9" y="2298.2" font-family="'Liberation Sans', Arial, sans-serif" font-size="39" text-anchor="end" fill="#111">0.6</text>
<text x="162.9" y="2205.9" font-family="'Liberation Sans', Arial, sans-serif" font-size="39" text-anchor="end" fill="#111">0.8</text>
<text x="162.9" y="2113.7" font-family="'Liberation Sans', Arial, sans-serif" font-size="39" text-anchor="end" fill="#111">1.0</text>
<text x="482" y="2652" font-family="'Liberation Serif', 'Times New Roman', serif" font-size="39" text-anchor="middle" fill="#111">Frequency (THz)</text>
<text transform="translate(67,2348) rotate(-90)" font-family="'Liberation Serif', 'Times New Roman', serif" font-size="39.5" text-anchor="middle" fill="#111">Transmission</text>
<text x="33" y="2647" font-family="'Liberation Serif', 'Times New Roman', serif" font-size="50" fill="#111">(g)</text>
<clipPath id="cliph"><rect x="1363.3" y="2102.9" width="619.8" height="460.2999999999997"/></clipPath>
<g clip-path="url(#cliph)" fill="none" stroke-linejoin="round" stroke-linecap="round">
<path d="M1363.3,2547.0 1367.1,2542.5 1376.9,2527.2 1399.2,2490.3 1423.9,2446.3 1448.7,2399.5 1466.0,2368.0 1483.3,2337.9 1508.0,2296.4 1515.5,2285.3 1527.8,2269.6 1535.3,2262.0 1543.9,2255.7 1547.6,2253.4 1551.3,2251.9 1555.0,2251.4 1557.5,2251.8 1561.2,2253.5 1564.9,2256.4 1567.4,2259.7 1568.6,2262.1 1571.1,2269.1 1572.4,2274.0 1574.8,2287.6 1579.8,2323.5 1587.2,2388.4 1589.7,2403.6 1593.4,2419.9 1595.9,2427.9 1598.3,2434.1 1599.6,2436.4 1602.0,2439.3 1605.8,2441.4 1613.2,2443.7 1616.9,2444.1 1619.4,2443.8 1623.1,2442.4 1626.8,2440.4 1633.0,2436.4 1636.7,2433.3 1642.9,2426.7 1670.1,2395.0 1678.7,2386.1 1704.7,2362.8 1798.7,2275.8 1829.6,2248.3 1853.1,2228.4 1885.3,2202.7 1906.3,2187.5 1922.4,2176.5 1936.0,2167.9 1952.1,2158.7 1968.1,2150.3 1980.5,2144.6" stroke="#ff8000" stroke-width="4.6"/>
<path d="M1363.3,2540.3 1365.8,2537.5 1368.3,2533.8 1399.2,2485.1 1451.2,2397.3 1466.0,2373.4 1488.3,2338.8 1498.2,2325.6 1509.3,2312.8 1517.9,2304.7 1530.3,2295.1 1534.0,2293.1 1537.7,2291.6 1542.7,2290.6 1547.6,2290.2 1551.3,2290.8 1555.0,2292.3 1558.8,2294.6 1561.2,2296.9 1563.7,2300.2 1567.4,2306.8 1571.1,2314.9 1573.6,2321.4 1578.5,2337.6 1584.7,2363.6 1588.4,2377.4 1592.1,2388.7 1594.6,2394.2 1597.1,2398.2 1600.8,2402.6 1604.5,2406.0 1609.5,2409.4 1615.6,2412.7 1620.6,2414.4 1624.3,2414.5 1628.0,2413.7 1635.4,2410.1 1645.3,2404.1 1651.5,2399.7 1667.6,2386.8 1686.1,2371.1 1718.3,2345.6 1754.2,2314.5 1839.5,2237.4 1866.7,2214.2 1885.3,2199.2 1912.5,2179.0 1932.3,2165.9 1944.6,2158.7 1958.2,2151.5 1970.6,2145.6 1980.5,2141.5" stroke="#0000ff" stroke-width="4.6"/>
<path d="M1363.3,2522.6 1367.1,2518.6 1406.6,2466.8 1468.5,2392.3 1480.8,2378.8 1489.5,2370.2 1503.1,2358.6 1510.5,2353.3 1516.7,2350.3 1530.3,2346.3 1540.2,2344.8 1547.6,2345.0 1555.0,2347.0 1564.9,2350.6 1587.2,2362.6 1593.4,2365.3 1605.8,2368.1 1623.1,2370.1 1630.5,2370.0 1639.1,2368.5 1655.2,2363.8 1663.9,2360.3 1677.5,2353.3 1688.6,2346.5 1712.1,2330.8 1735.6,2313.7 1769.0,2287.6 1838.3,2230.7 1866.7,2207.9 1885.3,2193.5 1907.5,2177.3 1926.1,2164.6 1942.2,2154.6 1963.2,2142.9 1980.5,2134.4" stroke="#00ff00" stroke-width="4.6"/>
<path d="M1363.3,2501.9 1367.1,2499.5 1376.9,2491.3 1401.7,2469.5 1414.1,2457.5 1443.7,2427.3 1451.2,2420.4 1466.0,2408.1 1480.8,2398.1 1505.6,2384.2 1513.0,2380.7 1519.2,2378.2 1541.4,2371.8 1582.3,2361.6 1600.8,2355.0 1610.7,2352.4 1615.6,2350.6 1663.9,2328.3 1697.3,2311.0 1730.7,2291.5 1769.0,2267.1 1809.8,2239.3 1887.7,2184.4 1921.1,2161.4 1954.5,2139.4 1980.5,2123.4" stroke="#ff00ff" stroke-width="4.6"/>
<path d="M1363.3,2476.4 1368.3,2473.7 1525.4,2370.8 1687.4,2265.3 1980.5,2076.3" stroke="#000000" stroke-width="4.6"/>
</g>
<rect x="1776.7" y="2398.6" width="206.39999999999986" height="164.5999999999999" fill="#fff" stroke="#777" stroke-width="1.5"/>
<line x1="1790" y1="2421.3" x2="1845.7" y2="2421.3" stroke="#ff8000" stroke-width="4.2"/>
<text transform="translate(1853,2428.3) scale(1.07,1)" font-family="'Liberation Serif', 'Times New Roman', serif" font-size="22" fill="#111"><tspan font-style="italic">τ</tspan>=1ps</text>
<line x1="1790" y1="2453.0" x2="1845.7" y2="2453.0" stroke="#0000ff" stroke-width="4.2"/>
<text transform="translate(1853,2460.0) scale(1.07,1)" font-family="'Liberation Serif', 'Times New Roman', serif" font-size="22" fill="#111"><tspan font-style="italic">τ</tspan>=0.5ps</text>
<line x1="1790" y1="2484.7000000000003" x2="1845.7" y2="2484.7000000000003" stroke="#00ff00" stroke-width="4.2"/>
<text transform="translate(1853,2491.7) scale(1.07,1)" font-family="'Liberation Serif', 'Times New Roman', serif" font-size="22" fill="#111"><tspan font-style="italic">τ</tspan>=0.2ps</text>
<line x1="1790" y1="2516.4" x2="1845.7" y2="2516.4" stroke="#ff00ff" stroke-width="4.2"/>
<text transform="translate(1853,2523.4) scale(1.07,1)" font-family="'Liberation Serif', 'Times New Roman', serif" font-size="22" fill="#111"><tspan font-style="italic">τ</tspan>=0.1ps</text>
<line x1="1790" y1="2548.1000000000004" x2="1845.7" y2="2548.1000000000004" stroke="#000000" stroke-width="4.2"/>
<text transform="translate(1853,2555.1) scale(1.07,1)" font-family="'Liberation Serif', 'Times New Roman', serif" font-size="22" fill="#111"><tspan font-size="20">non-resonant</tspan></text>
<rect x="1363.3" y="2102.9" width="619.8" height="460.2999999999997" fill="none" stroke="#333" stroke-width="2.2"/>
<path d="M1363.3,2563.2 v-9 M1518.2,2563.2 v-9 M1673.2,2563.2 v-9 M1828.1,2563.2 v-9 M1983.1,2563.2 v-9 M1402.0,2563.2 v-5 M1440.8,2563.2 v-5 M1479.5,2563.2 v-5 M1557.0,2563.2 v-5 M1595.7,2563.2 v-5 M1634.5,2563.2 v-5 M1711.9,2563.2 v-5 M1750.7,2563.2 v-5 M1789.4,2563.2 v-5 M1866.9,2563.2 v-5 M1905.6,2563.2 v-5 M1944.4,2563.2 v-5 M1363.3,2486.5 h9 M1363.3,2294.7 h9 M1363.3,2102.9 h9 M1363.3,2534.4 h5 M1363.3,2438.5 h5 M1363.3,2390.6 h5 M1363.3,2342.6 h5 M1363.3,2246.7 h5 M1363.3,2198.8 h5 M1363.3,2150.8 h5" stroke="#333" stroke-width="2.2" fill="none"/>
<text x="1363.3" y="2604.2" font-family="'Liberation Sans', Arial, sans-serif" font-size="39" text-anchor="middle" fill="#111">2</text>
<text x="1518.2" y="2604.2" font-family="'Liberation Sans', Arial, sans-serif" font-size="39" text-anchor="middle" fill="#111">3</text>
<text x="1673.2" y="2604.2" font-family="'Liberation Sans', Arial, sans-serif" font-size="39" text-anchor="middle" fill="#111">4</text>
<text x="1828.1" y="2604.2" font-family="'Liberation Sans', Arial, sans-serif" font-size="39" text-anchor="middle" fill="#111">5</text>
<text x="1983.1" y="2604.2" font-family="'Liberation Sans', Arial, sans-serif" font-size="39" text-anchor="middle" fill="#111">6</text>
<text x="1354.3" y="2497.0" font-family="'Liberation Sans', Arial, sans-serif" font-size="39" text-anchor="end" fill="#111">0.5</text>
<text x="1354.3" y="2305.2" font-family="'Liberation Sans', Arial, sans-serif" font-size="39" text-anchor="end" fill="#111">1.0</text>
<text x="1354.3" y="2113.4" font-family="'Liberation Sans', Arial, sans-serif" font-size="39" text-anchor="end" fill="#111">1.5</text>
<text x="1673" y="2656" font-family="'Liberation Serif', 'Times New Roman', serif" font-size="39" text-anchor="middle" fill="#111">Frequency (THz)</text>
<text transform="translate(1258,2345) rotate(-90)" font-family="'Liberation Serif', 'Times New Roman', serif" font-size="39.5" text-anchor="middle" fill="#111">Phase (π)</text>
<text x="1212" y="2652" font-family="'Liberation Serif', 'Times New Roman', serif" font-size="50" fill="#111">(h)</text>
<clipPath id="clipi"><rect x="172.9" y="2791.5" width="618.5" height="461.5"/></clipPath>
<g clip-path="url(#clipi)" fill="none" stroke-linejoin="round" stroke-linecap="round">
<path d="M172.9,3252.2 186.6,3251.2 202.7,3248.0 208.9,3245.5 216.3,3240.2 226.2,3231.3 232.4,3224.1 263.3,3180.6 275.7,3164.3 278.2,3161.7 281.9,3158.9 285.6,3156.9 289.4,3155.6 293.1,3155.6 295.5,3156.5 298.0,3158.1 301.7,3161.3 305.5,3166.7 309.2,3174.7 312.9,3184.7 324.0,3223.3 325.3,3226.4 326.5,3228.0 327.7,3227.7 329.0,3225.3 330.2,3221.2 332.7,3208.2 336.4,3175.9 340.1,3126.1 347.6,2998.6 350.0,2964.6 353.8,2923.5 356.2,2902.6 358.7,2887.5 361.2,2876.4 363.7,2868.3 367.4,2859.4 369.9,2855.3 373.6,2851.6 379.8,2848.1 386.0,2846.7 409.5,2845.6 418.2,2843.9 431.8,2839.5 445.4,2832.2 450.4,2829.9 460.3,2826.8 470.2,2824.6 480.1,2823.5 482.6,2823.6 486.3,2824.4 494.9,2827.8 499.9,2830.3 504.9,2833.3 509.8,2837.1 516.0,2842.6 521.0,2847.7 528.4,2857.6 532.1,2864.1 534.6,2869.5 538.3,2880.3 540.8,2890.9 543.2,2906.2 548.2,2950.1 551.9,2992.1 563.1,3131.1 565.5,3158.0 568.0,3179.6 571.7,3201.6 574.2,3212.0 576.7,3220.2 579.2,3227.0 581.6,3232.5 585.4,3238.5 589.1,3243.1 591.5,3245.3 595.3,3247.0 603.9,3248.5 612.6,3249.2 674.5,3249.1 689.4,3247.5 693.1,3246.7 696.8,3245.4 700.5,3243.3 705.5,3239.6 714.2,3231.8 719.1,3226.6 752.6,3181.5 768.7,3162.9 773.6,3158.3 778.6,3154.8 786.0,3151.0 790.9,3149.4" stroke="#000000" stroke-width="4.6"/>
<path d="M172.9,3252.2 179.1,3251.9 185.3,3250.9 191.5,3249.3 197.7,3247.1 205.1,3243.9 212.6,3240.1 221.2,3235.0 226.2,3231.5 231.1,3226.0 246.0,3203.0 264.6,3178.4 274.5,3166.6 278.2,3162.7 281.9,3160.1 286.9,3158.4 291.8,3157.6 294.3,3157.8 296.8,3159.3 299.3,3161.9 304.2,3169.7 312.9,3189.4 322.8,3209.0 325.3,3211.9 326.5,3212.1 327.7,3211.2 330.2,3206.4 331.5,3202.2 333.9,3187.0 335.2,3174.5 337.7,3138.7 345.1,3010.7 348.8,2964.7 351.3,2944.3 355.0,2922.9 358.7,2907.9 362.4,2897.4 367.4,2888.4 372.3,2882.1 377.3,2878.2 383.5,2875.1 389.7,2872.8 397.1,2870.6 416.9,2866.7 425.6,2864.4 460.3,2853.8 473.9,2848.3 478.8,2847.0 482.6,2846.8 486.3,2847.4 491.2,2848.7 494.9,2850.1 499.9,2853.1 504.9,2856.9 512.3,2864.2 518.5,2872.2 524.7,2882.8 529.6,2894.3 534.6,2909.8 537.1,2920.0 540.8,2938.2 544.5,2958.7 547.0,2975.2 550.7,3008.1 564.3,3144.9 566.8,3166.4 570.5,3192.1 574.2,3210.1 576.7,3219.2 579.2,3226.5 581.6,3231.9 584.1,3236.3 587.8,3241.6 590.3,3244.2 592.8,3246.1 596.5,3247.3 605.2,3248.7 613.8,3249.2 644.8,3248.9 673.3,3248.0 691.9,3247.0 695.6,3246.3 698.1,3245.4 703.0,3242.6 708.0,3239.0 715.4,3232.9 720.4,3228.0 738.9,3204.3 753.8,3184.2 758.7,3178.5 764.9,3172.2 771.1,3166.6 777.3,3162.3 784.8,3158.4 790.9,3156.2" stroke="#ff8000" stroke-width="4.6"/>
<path d="M172.9,3252.2 177.9,3251.9 184.1,3250.9 190.3,3249.1 196.5,3246.8 210.1,3239.8 226.2,3229.4 229.9,3226.0 234.9,3220.1 264.6,3180.4 274.5,3169.9 279.4,3165.7 284.4,3163.4 290.6,3162.0 295.5,3161.8 306.7,3162.7 312.9,3162.5 319.1,3161.5 321.6,3159.6 324.0,3155.9 327.7,3147.3 330.2,3139.5 333.9,3123.7 338.9,3096.0 347.6,3039.5 351.3,3019.3 353.8,3008.2 356.2,2999.1 360.0,2987.8 364.9,2975.5 369.9,2965.2 374.8,2957.1 381.0,2949.3 387.2,2943.2 395.9,2936.6 419.4,2921.7 440.5,2909.9 446.6,2906.9 455.3,2903.5 460.3,2901.8 464.0,2901.0 467.7,2900.9 471.4,2901.4 482.6,2905.2 486.3,2907.1 491.2,2910.5 498.7,2917.0 506.1,2926.1 512.3,2936.2 519.7,2950.7 525.9,2965.6 529.6,2976.6 533.3,2989.4 537.1,3004.7 540.8,3022.9 548.2,3067.2 561.8,3157.4 568.0,3191.6 573.0,3211.1 577.9,3225.2 581.6,3233.3 584.1,3237.8 586.6,3241.1 589.1,3243.3 594.0,3246.4 597.7,3248.0 601.5,3249.0 605.2,3249.2 638.6,3248.9 669.6,3248.1 691.9,3247.0 698.1,3245.6 704.3,3242.6 711.7,3237.8 717.9,3233.4 722.8,3228.9 738.9,3211.2 756.3,3190.0 768.7,3176.6 773.6,3171.8 777.3,3169.0 781.0,3167.1 786.0,3165.6 790.9,3164.8" stroke="#0000ff" stroke-width="4.6"/>
<path d="M172.9,3252.2 185.3,3251.8 197.7,3250.7 203.9,3249.9 208.9,3248.2 216.3,3243.6 228.7,3233.9 236.1,3226.8 246.0,3215.8 252.2,3208.0 258.4,3199.3 285.6,3157.9 290.6,3151.8 299.3,3143.2 303.0,3138.2 322.8,3105.7 350.0,3050.8 357.5,3037.2 362.4,3029.4 367.4,3022.5 373.6,3015.2 382.2,3006.0 388.4,3000.4 397.1,2993.8 404.5,2988.9 410.7,2985.7 420.6,2981.5 436.7,2976.0 446.6,2973.0 459.0,2970.1 464.0,2970.0 470.2,2971.9 482.6,2978.8 488.8,2983.6 493.7,2988.5 498.7,2995.1 504.9,3005.1 509.8,3014.7 521.0,3039.5 525.9,3052.3 529.6,3063.4 542.0,3105.6 563.1,3184.1 571.7,3211.9 576.7,3224.4 582.9,3236.3 586.6,3241.2 591.5,3244.9 595.3,3247.0 599.0,3248.4 605.2,3249.2 649.8,3249.0 688.2,3248.2 694.3,3247.8 699.3,3246.5 704.3,3244.2 711.7,3239.9 716.6,3236.7 721.6,3232.8 738.9,3216.0 756.3,3198.5 772.4,3184.2 781.0,3178.3 786.0,3175.8 790.9,3174.0" stroke="#ff00ff" stroke-width="4.6"/>
</g>
<g clip-path="url(#clipi)" fill="none" opacity="0.7">
<path d="M164.4,3243.7h17v17h-17zM173.1,3243.3h17v17h-17zM181.8,3242.2h17v17h-17zM190.4,3240.4h17v17h-17zM199.1,3237.7h17v17h-17zM207.7,3231.8h17v17h-17zM216.4,3224.1h17v17h-17zM225.1,3214.1h17v17h-17zM233.7,3201.9h17v17h-17zM242.4,3189.9h17v17h-17zM251.0,3177.4h17v17h-17zM259.7,3165.6h17v17h-17zM268.3,3154.4h17v17h-17zM277.0,3148.4h17v17h-17zM285.7,3147.2h17v17h-17zM294.3,3153.7h17v17h-17zM303.0,3171.8h17v17h-17zM311.6,3200.4h17v17h-17zM320.3,3219.6h17v17h-17zM329.0,3157.2h17v17h-17zM337.6,3011.2h17v17h-17zM346.3,2903.6h17v17h-17zM354.9,2860.0h17v17h-17zM363.6,2844.2h17v17h-17zM372.3,2839.1h17v17h-17zM380.9,2838.0h17v17h-17zM389.6,2837.7h17v17h-17zM398.2,2837.4h17v17h-17zM406.9,2836.1h17v17h-17zM415.5,2833.7h17v17h-17zM424.2,2830.6h17v17h-17zM432.9,2825.9h17v17h-17zM441.5,2821.5h17v17h-17zM450.2,2818.7h17v17h-17zM458.8,2816.6h17v17h-17zM467.5,2815.3h17v17h-17zM476.2,2815.4h17v17h-17zM484.8,2818.6h17v17h-17zM493.5,2822.9h17v17h-17zM502.1,2829.2h17v17h-17zM510.8,2837.4h17v17h-17zM519.5,2848.3h17v17h-17zM528.1,2865.9h17v17h-17zM536.8,2913.2h17v17h-17zM545.4,3008.9h17v17h-17zM554.1,3118.0h17v17h-17zM562.8,3191.7h17v17h-17zM571.4,3220.7h17v17h-17zM580.1,3234.2h17v17h-17zM588.7,3239.0h17v17h-17zM597.4,3240.3h17v17h-17zM606.0,3240.7h17v17h-17zM614.7,3240.7h17v17h-17zM623.4,3240.7h17v17h-17zM632.0,3240.7h17v17h-17zM640.7,3240.7h17v17h-17zM649.3,3240.7h17v17h-17zM658.0,3240.7h17v17h-17zM666.7,3240.6h17v17h-17zM675.3,3239.8h17v17h-17zM684.0,3238.5h17v17h-17zM692.6,3234.5h17v17h-17zM701.3,3227.3h17v17h-17zM710.0,3218.9h17v17h-17zM718.6,3207.6h17v17h-17zM727.3,3195.4h17v17h-17zM735.9,3183.8h17v17h-17zM744.6,3172.3h17v17h-17zM753.3,3162.1h17v17h-17zM761.9,3152.6h17v17h-17zM770.6,3146.0h17v17h-17zM779.2,3141.8h17v17h-17z" stroke="#000000" stroke-width="1.4"/>
<path d="M164.7,3252.2a9.5,9.5 0 1,0 19,0a9.5,9.5 0 1,0 -19,0M173.3,3251.4a9.5,9.5 0 1,0 19,0a9.5,9.5 0 1,0 -19,0M182.0,3249.3a9.5,9.5 0 1,0 19,0a9.5,9.5 0 1,0 -19,0M190.7,3246.1a9.5,9.5 0 1,0 19,0a9.5,9.5 0 1,0 -19,0M199.3,3242.1a9.5,9.5 0 1,0 19,0a9.5,9.5 0 1,0 -19,0M208.0,3237.3a9.5,9.5 0 1,0 19,0a9.5,9.5 0 1,0 -19,0M216.6,3231.8a9.5,9.5 0 1,0 19,0a9.5,9.5 0 1,0 -19,0M225.3,3220.7a9.5,9.5 0 1,0 19,0a9.5,9.5 0 1,0 -19,0M233.9,3206.7a9.5,9.5 0 1,0 19,0a9.5,9.5 0 1,0 -19,0M242.6,3194.7a9.5,9.5 0 1,0 19,0a9.5,9.5 0 1,0 -19,0M251.3,3183.1a9.5,9.5 0 1,0 19,0a9.5,9.5 0 1,0 -19,0M259.9,3172.7a9.5,9.5 0 1,0 19,0a9.5,9.5 0 1,0 -19,0M268.6,3162.7a9.5,9.5 0 1,0 19,0a9.5,9.5 0 1,0 -19,0M277.2,3158.4a9.5,9.5 0 1,0 19,0a9.5,9.5 0 1,0 -19,0M285.9,3157.9a9.5,9.5 0 1,0 19,0a9.5,9.5 0 1,0 -19,0M294.6,3169.0a9.5,9.5 0 1,0 19,0a9.5,9.5 0 1,0 -19,0M303.2,3189.1a9.5,9.5 0 1,0 19,0a9.5,9.5 0 1,0 -19,0M311.9,3206.4a9.5,9.5 0 1,0 19,0a9.5,9.5 0 1,0 -19,0M320.5,3208.0a9.5,9.5 0 1,0 19,0a9.5,9.5 0 1,0 -19,0M329.2,3121.1a9.5,9.5 0 1,0 19,0a9.5,9.5 0 1,0 -19,0M337.9,2976.7a9.5,9.5 0 1,0 19,0a9.5,9.5 0 1,0 -19,0M346.5,2917.8a9.5,9.5 0 1,0 19,0a9.5,9.5 0 1,0 -19,0M355.2,2892.7a9.5,9.5 0 1,0 19,0a9.5,9.5 0 1,0 -19,0M363.8,2881.0a9.5,9.5 0 1,0 19,0a9.5,9.5 0 1,0 -19,0M372.5,2875.7a9.5,9.5 0 1,0 19,0a9.5,9.5 0 1,0 -19,0M381.2,2872.4a9.5,9.5 0 1,0 19,0a9.5,9.5 0 1,0 -19,0M389.8,2870.0a9.5,9.5 0 1,0 19,0a9.5,9.5 0 1,0 -19,0M398.5,2868.3a9.5,9.5 0 1,0 19,0a9.5,9.5 0 1,0 -19,0M407.1,2866.7a9.5,9.5 0 1,0 19,0a9.5,9.5 0 1,0 -19,0M415.8,2864.5a9.5,9.5 0 1,0 19,0a9.5,9.5 0 1,0 -19,0M424.4,2861.8a9.5,9.5 0 1,0 19,0a9.5,9.5 0 1,0 -19,0M433.1,2859.1a9.5,9.5 0 1,0 19,0a9.5,9.5 0 1,0 -19,0M441.8,2856.6a9.5,9.5 0 1,0 19,0a9.5,9.5 0 1,0 -19,0M450.4,2853.9a9.5,9.5 0 1,0 19,0a9.5,9.5 0 1,0 -19,0M459.1,2850.6a9.5,9.5 0 1,0 19,0a9.5,9.5 0 1,0 -19,0M467.7,2847.2a9.5,9.5 0 1,0 19,0a9.5,9.5 0 1,0 -19,0M476.4,2847.2a9.5,9.5 0 1,0 19,0a9.5,9.5 0 1,0 -19,0M485.1,2849.8a9.5,9.5 0 1,0 19,0a9.5,9.5 0 1,0 -19,0M493.7,2855.5a9.5,9.5 0 1,0 19,0a9.5,9.5 0 1,0 -19,0M502.4,2863.7a9.5,9.5 0 1,0 19,0a9.5,9.5 0 1,0 -19,0M511.0,2875.3a9.5,9.5 0 1,0 19,0a9.5,9.5 0 1,0 -19,0M519.7,2892.9a9.5,9.5 0 1,0 19,0a9.5,9.5 0 1,0 -19,0M528.4,2923.2a9.5,9.5 0 1,0 19,0a9.5,9.5 0 1,0 -19,0M537.0,2970.7a9.5,9.5 0 1,0 19,0a9.5,9.5 0 1,0 -19,0M545.7,3053.5a9.5,9.5 0 1,0 19,0a9.5,9.5 0 1,0 -19,0M554.3,3141.3a9.5,9.5 0 1,0 19,0a9.5,9.5 0 1,0 -19,0M563.0,3203.4a9.5,9.5 0 1,0 19,0a9.5,9.5 0 1,0 -19,0M571.6,3231.3a9.5,9.5 0 1,0 19,0a9.5,9.5 0 1,0 -19,0M580.3,3244.0a9.5,9.5 0 1,0 19,0a9.5,9.5 0 1,0 -19,0M589.0,3247.8a9.5,9.5 0 1,0 19,0a9.5,9.5 0 1,0 -19,0M597.6,3248.9a9.5,9.5 0 1,0 19,0a9.5,9.5 0 1,0 -19,0M606.3,3249.2a9.5,9.5 0 1,0 19,0a9.5,9.5 0 1,0 -19,0M614.9,3249.2a9.5,9.5 0 1,0 19,0a9.5,9.5 0 1,0 -19,0M623.6,3249.1a9.5,9.5 0 1,0 19,0a9.5,9.5 0 1,0 -19,0M632.3,3249.0a9.5,9.5 0 1,0 19,0a9.5,9.5 0 1,0 -19,0M640.9,3248.8a9.5,9.5 0 1,0 19,0a9.5,9.5 0 1,0 -19,0M649.6,3248.6a9.5,9.5 0 1,0 19,0a9.5,9.5 0 1,0 -19,0M658.2,3248.3a9.5,9.5 0 1,0 19,0a9.5,9.5 0 1,0 -19,0M666.9,3247.9a9.5,9.5 0 1,0 19,0a9.5,9.5 0 1,0 -19,0M675.6,3247.4a9.5,9.5 0 1,0 19,0a9.5,9.5 0 1,0 -19,0M684.2,3246.8a9.5,9.5 0 1,0 19,0a9.5,9.5 0 1,0 -19,0M692.9,3243.1a9.5,9.5 0 1,0 19,0a9.5,9.5 0 1,0 -19,0M701.5,3236.5a9.5,9.5 0 1,0 19,0a9.5,9.5 0 1,0 -19,0M710.2,3228.8a9.5,9.5 0 1,0 19,0a9.5,9.5 0 1,0 -19,0M718.9,3218.1a9.5,9.5 0 1,0 19,0a9.5,9.5 0 1,0 -19,0M727.5,3206.7a9.5,9.5 0 1,0 19,0a9.5,9.5 0 1,0 -19,0M736.2,3195.1a9.5,9.5 0 1,0 19,0a9.5,9.5 0 1,0 -19,0M744.8,3183.5a9.5,9.5 0 1,0 19,0a9.5,9.5 0 1,0 -19,0M753.5,3174.0a9.5,9.5 0 1,0 19,0a9.5,9.5 0 1,0 -19,0M762.1,3166.1a9.5,9.5 0 1,0 19,0a9.5,9.5 0 1,0 -19,0M770.8,3160.5a9.5,9.5 0 1,0 19,0a9.5,9.5 0 1,0 -19,0M779.5,3156.6a9.5,9.5 0 1,0 19,0a9.5,9.5 0 1,0 -19,0" stroke="#ff8000" stroke-width="1.4"/>
<path d="M175.4,3241.2l11.5,19.8h-23.0zM184.1,3239.9l11.5,19.8h-23.0zM192.7,3237.3l11.5,19.8h-23.0zM201.4,3233.5l11.5,19.8h-23.0zM210.0,3228.9l11.5,19.8h-23.0zM218.7,3223.6l11.5,19.8h-23.0zM227.4,3217.6l11.5,19.8h-23.0zM236.0,3207.6l11.5,19.8h-23.0zM244.7,3195.8l11.5,19.8h-23.0zM253.3,3184.3l11.5,19.8h-23.0zM262.0,3172.5l11.5,19.8h-23.0zM270.7,3162.8l11.5,19.8h-23.0zM279.3,3154.7l11.5,19.8h-23.0zM288.0,3151.4l11.5,19.8h-23.0zM296.6,3150.8l11.5,19.8h-23.0zM305.3,3151.7l11.5,19.8h-23.0zM314.0,3151.4l11.5,19.8h-23.0zM322.6,3147.9l11.5,19.8h-23.0zM331.3,3125.2l11.5,19.8h-23.0zM339.9,3078.5l11.5,19.8h-23.0zM348.6,3022.1l11.5,19.8h-23.0zM357.3,2984.4l11.5,19.8h-23.0zM365.9,2962.1l11.5,19.8h-23.0zM374.6,2946.4l11.5,19.8h-23.0zM383.2,2935.9l11.5,19.8h-23.0zM391.9,2928.4l11.5,19.8h-23.0zM400.5,2922.5l11.5,19.8h-23.0zM409.2,2917.0l11.5,19.8h-23.0zM417.9,2911.6l11.5,19.8h-23.0zM426.5,2906.5l11.5,19.8h-23.0zM435.2,2901.7l11.5,19.8h-23.0zM443.8,2897.2l11.5,19.8h-23.0zM452.5,2893.6l11.5,19.8h-23.0zM461.2,2890.5l11.5,19.8h-23.0zM469.8,2890.1l11.5,19.8h-23.0zM478.5,2892.6l11.5,19.8h-23.0zM487.1,2896.6l11.5,19.8h-23.0zM495.8,2903.2l11.5,19.8h-23.0zM504.5,2912.7l11.5,19.8h-23.0zM513.1,2926.6l11.5,19.8h-23.0zM521.8,2944.1l11.5,19.8h-23.0zM530.4,2967.9l11.5,19.8h-23.0zM539.1,3003.0l11.5,19.8h-23.0zM547.7,3053.1l11.5,19.8h-23.0zM556.4,3111.0l11.5,19.8h-23.0zM565.1,3166.2l11.5,19.8h-23.0zM573.7,3203.0l11.5,19.8h-23.0zM582.4,3224.0l11.5,19.8h-23.0zM591.0,3233.7l11.5,19.8h-23.0zM599.7,3237.7l11.5,19.8h-23.0zM608.4,3238.2l11.5,19.8h-23.0zM617.0,3238.2l11.5,19.8h-23.0zM625.7,3238.1l11.5,19.8h-23.0zM634.3,3238.0l11.5,19.8h-23.0zM643.0,3237.8l11.5,19.8h-23.0zM651.7,3237.6l11.5,19.8h-23.0zM660.3,3237.4l11.5,19.8h-23.0zM669.0,3237.1l11.5,19.8h-23.0zM677.6,3236.7l11.5,19.8h-23.0zM686.3,3236.3l11.5,19.8h-23.0zM695.0,3235.6l11.5,19.8h-23.0zM703.6,3232.0l11.5,19.8h-23.0zM712.3,3226.4l11.5,19.8h-23.0zM720.9,3219.7l11.5,19.8h-23.0zM729.6,3210.7l11.5,19.8h-23.0zM738.2,3201.1l11.5,19.8h-23.0zM746.9,3190.5l11.5,19.8h-23.0zM755.6,3179.8l11.5,19.8h-23.0zM764.2,3170.4l11.5,19.8h-23.0zM772.9,3161.4l11.5,19.8h-23.0zM781.5,3155.9l11.5,19.8h-23.0zM790.2,3153.8l11.5,19.8h-23.0z" stroke="#0000ff" stroke-width="1.4"/>
<path d="M176.6,3241.7L179.2,3248.6L186.6,3249.0L180.8,3253.6L182.8,3260.7L176.6,3256.6L170.5,3260.7L172.5,3253.6L166.7,3249.0L174.1,3248.6zM185.3,3241.3L187.9,3248.3L195.3,3248.6L189.5,3253.2L191.5,3260.3L185.3,3256.3L179.1,3260.3L181.1,3253.2L175.3,3248.6L182.7,3248.3zM194.0,3240.6L196.6,3247.6L204.0,3247.9L198.2,3252.5L200.1,3259.6L194.0,3255.6L187.8,3259.6L189.8,3252.5L184.0,3247.9L191.4,3247.6zM202.6,3239.6L205.2,3246.6L212.6,3246.9L206.8,3251.5L208.8,3258.6L202.6,3254.6L196.5,3258.6L198.4,3251.5L192.6,3246.9L200.0,3246.6zM211.3,3236.4L213.9,3243.4L221.3,3243.7L215.5,3248.3L217.5,3255.4L211.3,3251.4L205.1,3255.4L207.1,3248.3L201.3,3243.7L208.7,3243.4zM219.9,3230.3L222.5,3237.2L229.9,3237.6L224.1,3242.2L226.1,3249.3L219.9,3245.2L213.8,3249.3L215.7,3242.2L210.0,3237.6L217.4,3237.2zM228.6,3223.5L231.2,3230.4L238.6,3230.7L232.8,3235.3L234.8,3242.5L228.6,3238.4L222.4,3242.5L224.4,3235.3L218.6,3230.7L226.0,3230.4zM237.3,3215.1L239.9,3222.1L247.2,3222.4L241.5,3227.0L243.4,3234.1L237.3,3230.0L231.1,3234.1L233.1,3227.0L227.3,3222.4L234.7,3222.1zM245.9,3205.5L248.5,3212.4L255.9,3212.7L250.1,3217.3L252.1,3224.5L245.9,3220.4L239.7,3224.5L241.7,3217.3L235.9,3212.7L243.3,3212.4zM254.6,3194.2L257.2,3201.2L264.6,3201.5L258.8,3206.1L260.8,3213.2L254.6,3209.2L248.4,3213.2L250.4,3206.1L244.6,3201.5L252.0,3201.2zM263.2,3181.6L265.8,3188.5L273.2,3188.9L267.4,3193.5L269.4,3200.6L263.2,3196.5L257.1,3200.6L259.0,3193.5L253.3,3188.9L260.6,3188.5zM271.9,3168.7L274.5,3175.6L281.9,3176.0L276.1,3180.6L278.1,3187.7L271.9,3183.6L265.7,3187.7L267.7,3180.6L261.9,3176.0L269.3,3175.6zM280.6,3154.9L283.1,3161.8L290.5,3162.1L284.8,3166.7L286.7,3173.9L280.6,3169.8L274.4,3173.9L276.4,3166.7L270.6,3162.1L278.0,3161.8zM289.2,3142.7L291.8,3149.7L299.2,3150.0L293.4,3154.6L295.4,3161.7L289.2,3157.6L283.0,3161.7L285.0,3154.6L279.2,3150.0L286.6,3149.7zM297.9,3134.3L300.5,3141.2L307.9,3141.6L302.1,3146.2L304.0,3153.3L297.9,3149.2L291.7,3153.3L293.7,3146.2L287.9,3141.6L295.3,3141.2zM306.5,3122.0L309.1,3128.9L316.5,3129.2L310.7,3133.8L312.7,3141.0L306.5,3136.9L300.4,3141.0L302.3,3133.8L296.5,3129.2L303.9,3128.9zM315.2,3107.9L317.8,3114.8L325.2,3115.1L319.4,3119.8L321.4,3126.9L315.2,3122.8L309.0,3126.9L311.0,3119.8L305.2,3115.1L312.6,3114.8zM323.9,3093.3L326.4,3100.2L333.8,3100.6L328.0,3105.2L330.0,3112.3L323.9,3108.2L317.7,3112.3L319.7,3105.2L313.9,3100.6L321.3,3100.2zM332.5,3075.7L335.1,3082.6L342.5,3082.9L336.7,3087.6L338.7,3094.7L332.5,3090.6L326.3,3094.7L328.3,3087.6L322.5,3082.9L329.9,3082.6zM341.2,3058.4L343.8,3065.3L351.2,3065.6L345.4,3070.2L347.3,3077.4L341.2,3073.3L335.0,3077.4L337.0,3070.2L331.2,3065.6L338.6,3065.3zM349.8,3040.7L352.4,3047.6L359.8,3048.0L354.0,3052.6L356.0,3059.7L349.8,3055.6L343.7,3059.7L345.6,3052.6L339.8,3048.0L347.2,3047.6zM358.5,3025.0L361.1,3031.9L368.5,3032.2L362.7,3036.8L364.7,3044.0L358.5,3039.9L352.3,3044.0L354.3,3036.8L348.5,3032.2L355.9,3031.9zM367.1,3012.3L369.7,3019.2L377.1,3019.5L371.3,3024.1L373.3,3031.3L367.1,3027.2L361.0,3031.3L363.0,3024.1L357.2,3019.5L364.6,3019.2zM375.8,3002.2L378.4,3009.1L385.8,3009.5L380.0,3014.1L382.0,3021.2L375.8,3017.1L369.6,3021.2L371.6,3014.1L365.8,3009.5L373.2,3009.1zM384.5,2993.3L387.1,3000.2L394.5,3000.6L388.7,3005.2L390.6,3012.3L384.5,3008.2L378.3,3012.3L380.3,3005.2L374.5,3000.6L381.9,3000.2zM393.1,2986.2L395.7,2993.1L403.1,2993.4L397.3,2998.0L399.3,3005.2L393.1,3001.1L387.0,3005.2L388.9,2998.0L383.1,2993.4L390.5,2993.1zM401.8,2980.1L404.4,2987.0L411.8,2987.3L406.0,2991.9L408.0,2999.1L401.8,2995.0L395.6,2999.1L397.6,2991.9L391.8,2987.3L399.2,2987.0zM410.4,2975.3L413.0,2982.2L420.4,2982.6L414.6,2987.2L416.6,2994.3L410.4,2990.2L404.3,2994.3L406.2,2987.2L400.5,2982.6L407.8,2982.2zM419.1,2971.6L421.7,2978.5L429.1,2978.9L423.3,2983.5L425.3,2990.6L419.1,2986.5L412.9,2990.6L414.9,2983.5L409.1,2978.9L416.5,2978.5zM427.8,2968.5L430.4,2975.4L437.7,2975.8L432.0,2980.4L433.9,2987.5L427.8,2983.4L421.6,2987.5L423.6,2980.4L417.8,2975.8L425.2,2975.4zM436.4,2965.6L439.0,2972.5L446.4,2972.8L440.6,2977.4L442.6,2984.6L436.4,2980.5L430.2,2984.6L432.2,2977.4L426.4,2972.8L433.8,2972.5zM445.1,2963.0L447.7,2969.9L455.1,2970.2L449.3,2974.8L451.2,2982.0L445.1,2977.9L438.9,2982.0L440.9,2974.8L435.1,2970.2L442.5,2969.9zM453.7,2960.7L456.3,2967.7L463.7,2968.0L457.9,2972.6L459.9,2979.7L453.7,2975.6L447.6,2979.7L449.5,2972.6L443.8,2968.0L451.1,2967.7zM462.4,2959.3L465.0,2966.2L472.4,2966.5L466.6,2971.1L468.6,2978.3L462.4,2974.2L456.2,2978.3L458.2,2971.1L452.4,2966.5L459.8,2966.2zM471.1,2961.7L473.6,2968.7L481.0,2969.0L475.2,2973.6L477.2,2980.7L471.1,2976.7L464.9,2980.7L466.9,2973.6L461.1,2969.0L468.5,2968.7zM479.7,2966.6L482.3,2973.5L489.7,2973.9L483.9,2978.5L485.9,2985.6L479.7,2981.5L473.5,2985.6L475.5,2978.5L469.7,2973.9L477.1,2973.5zM488.4,2972.7L491.0,2979.6L498.4,2979.9L492.6,2984.5L494.5,2991.6L488.4,2987.6L482.2,2991.6L484.2,2984.5L478.4,2979.9L485.8,2979.6zM497.0,2982.1L499.6,2989.1L507.0,2989.4L501.2,2994.0L503.2,3001.1L497.0,2997.0L490.9,3001.1L492.8,2994.0L487.0,2989.4L494.4,2989.1zM505.7,2996.0L508.3,3002.9L515.7,3003.2L509.9,3007.8L511.9,3015.0L505.7,3010.9L499.5,3015.0L501.5,3007.8L495.7,3003.2L503.1,3002.9zM514.4,3013.8L516.9,3020.8L524.3,3021.1L518.5,3025.7L520.5,3032.8L514.4,3028.7L508.2,3032.8L510.2,3025.7L504.4,3021.1L511.8,3020.8zM523.0,3034.0L525.6,3040.9L533.0,3041.2L527.2,3045.8L529.2,3053.0L523.0,3048.9L516.8,3053.0L518.8,3045.8L513.0,3041.2L520.4,3040.9zM531.7,3059.4L534.3,3066.3L541.7,3066.6L535.9,3071.2L537.8,3078.4L531.7,3074.3L525.5,3078.4L527.5,3071.2L521.7,3066.6L529.1,3066.3zM540.3,3089.0L542.9,3095.9L550.3,3096.2L544.5,3100.8L546.5,3108.0L540.3,3103.9L534.2,3108.0L536.1,3100.8L530.3,3096.2L537.7,3095.9zM549.0,3120.7L551.6,3127.6L559.0,3128.0L553.2,3132.6L555.2,3139.7L549.0,3135.6L542.8,3139.7L544.8,3132.6L539.0,3128.0L546.4,3127.6zM557.6,3153.8L560.2,3160.8L567.6,3161.1L561.8,3165.7L563.8,3172.8L557.6,3168.8L551.5,3172.8L553.5,3165.7L547.7,3161.1L555.1,3160.8zM566.3,3184.9L568.9,3191.8L576.3,3192.1L570.5,3196.7L572.5,3203.9L566.3,3199.8L560.1,3203.9L562.1,3196.7L556.3,3192.1L563.7,3191.8zM575.0,3210.3L577.6,3217.2L584.9,3217.5L579.2,3222.1L581.1,3229.3L575.0,3225.2L568.8,3229.3L570.8,3222.1L565.0,3217.5L572.4,3217.2zM583.6,3227.2L586.2,3234.1L593.6,3234.4L587.8,3239.0L589.8,3246.2L583.6,3242.1L577.5,3246.2L579.4,3239.0L573.6,3234.4L581.0,3234.1zM592.3,3234.9L594.9,3241.9L602.3,3242.2L596.5,3246.8L598.5,3253.9L592.3,3249.8L586.1,3253.9L588.1,3246.8L582.3,3242.2L589.7,3241.9zM600.9,3238.5L603.5,3245.4L610.9,3245.7L605.1,3250.3L607.1,3257.5L600.9,3253.4L594.8,3257.5L596.7,3250.3L591.0,3245.7L598.3,3245.4zM609.6,3238.7L612.2,3245.6L619.6,3246.0L613.8,3250.6L615.8,3257.7L609.6,3253.6L603.4,3257.7L605.4,3250.6L599.6,3246.0L607.0,3245.6zM618.3,3238.7L620.9,3245.6L628.2,3245.9L622.5,3250.5L624.4,3257.7L618.3,3253.6L612.1,3257.7L614.1,3250.5L608.3,3245.9L615.7,3245.6zM626.9,3238.7L629.5,3245.6L636.9,3245.9L631.1,3250.5L633.1,3257.6L626.9,3253.6L620.7,3257.6L622.7,3250.5L616.9,3245.9L624.3,3245.6zM635.6,3238.6L638.2,3245.5L645.6,3245.9L639.8,3250.5L641.7,3257.6L635.6,3253.5L629.4,3257.6L631.4,3250.5L625.6,3245.9L633.0,3245.5zM644.2,3238.5L646.8,3245.5L654.2,3245.8L648.4,3250.4L650.4,3257.5L644.2,3253.4L638.1,3257.5L640.0,3250.4L634.2,3245.8L641.6,3245.5zM652.9,3238.4L655.5,3245.4L662.9,3245.7L657.1,3250.3L659.1,3257.4L652.9,3253.3L646.7,3257.4L648.7,3250.3L642.9,3245.7L650.3,3245.4zM661.6,3238.3L664.1,3245.2L671.5,3245.6L665.7,3250.2L667.7,3257.3L661.6,3253.2L655.4,3257.3L657.4,3250.2L651.6,3245.6L659.0,3245.2zM670.2,3238.1L672.8,3245.1L680.2,3245.4L674.4,3250.0L676.4,3257.1L670.2,3253.1L664.0,3257.1L666.0,3250.0L660.2,3245.4L667.6,3245.1zM678.9,3238.0L681.5,3244.9L688.9,3245.2L683.1,3249.8L685.0,3256.9L678.9,3252.9L672.7,3256.9L674.7,3249.8L668.9,3245.2L676.3,3244.9zM687.5,3237.7L690.1,3244.7L697.5,3245.0L691.7,3249.6L693.7,3256.7L687.5,3252.6L681.4,3256.7L683.3,3249.6L677.5,3245.0L684.9,3244.7zM696.2,3237.1L698.8,3244.0L706.2,3244.3L700.4,3248.9L702.4,3256.1L696.2,3252.0L690.0,3256.1L692.0,3248.9L686.2,3244.3L693.6,3244.0zM704.8,3233.4L707.4,3240.4L714.8,3240.7L709.0,3245.3L711.0,3252.4L704.8,3248.4L698.7,3252.4L700.7,3245.3L694.9,3240.7L702.3,3240.4zM713.5,3228.3L716.1,3235.2L723.5,3235.5L717.7,3240.1L719.7,3247.2L713.5,3243.2L707.3,3247.2L709.3,3240.1L703.5,3235.5L710.9,3235.2zM722.2,3221.9L724.8,3228.8L732.2,3229.1L726.4,3233.7L728.3,3240.8L722.2,3236.8L716.0,3240.8L718.0,3233.7L712.2,3229.1L719.6,3228.8zM730.8,3213.5L733.4,3220.4L740.8,3220.8L735.0,3225.4L737.0,3232.5L730.8,3228.4L724.7,3232.5L726.6,3225.4L720.8,3220.8L728.2,3220.4zM739.5,3205.0L742.1,3211.9L749.5,3212.3L743.7,3216.9L745.7,3224.0L739.5,3219.9L733.3,3224.0L735.3,3216.9L729.5,3212.3L736.9,3211.9zM748.1,3196.1L750.7,3203.0L758.1,3203.4L752.3,3208.0L754.3,3215.1L748.1,3211.0L742.0,3215.1L743.9,3208.0L738.2,3203.4L745.6,3203.0zM756.8,3187.4L759.4,3194.4L766.8,3194.7L761.0,3199.3L763.0,3206.4L756.8,3202.3L750.6,3206.4L752.6,3199.3L746.8,3194.7L754.2,3194.4zM765.5,3179.6L768.1,3186.5L775.4,3186.9L769.7,3191.5L771.6,3198.6L765.5,3194.5L759.3,3198.6L761.3,3191.5L755.5,3186.9L762.9,3186.5zM774.1,3172.3L776.7,3179.2L784.1,3179.6L778.3,3184.2L780.3,3191.3L774.1,3187.2L767.9,3191.3L769.9,3184.2L764.1,3179.6L771.5,3179.2zM782.8,3166.8L785.4,3173.7L792.8,3174.0L787.0,3178.6L789.0,3185.8L782.8,3181.7L776.6,3185.8L778.6,3178.6L772.8,3174.0L780.2,3173.7zM791.4,3163.2L794.0,3170.1L801.4,3170.5L795.6,3175.1L797.6,3182.2L791.4,3178.1L785.3,3182.2L787.2,3175.1L781.5,3170.5L788.8,3170.1z" stroke="#ff00ff" stroke-width="1.4"/>
</g>
<rect x="607.4" y="2791.5" width="184.0" height="327.5999999999999" fill="#fff" stroke="#777" stroke-width="1.5"/>
<line x1="627.9" y1="2827.7" x2="682.4" y2="2827.7" stroke="#000000" stroke-width="4.2"/>
<text transform="translate(690,2834.7) scale(1.07,1)" font-family="'Liberation Serif', 'Times New Roman', serif" font-size="22" fill="#111"><tspan font-style="italic">τ</tspan><tspan font-size="13" dy="6">sim</tspan><tspan dy="-6">=1ps</tspan></text>
<line x1="627.9" y1="2866.47" x2="682.4" y2="2866.47" stroke="#ff8000" stroke-width="4.2"/>
<text transform="translate(690,2873.5) scale(1.07,1)" font-family="'Liberation Serif', 'Times New Roman', serif" font-size="22" fill="#111"><tspan font-style="italic">τ</tspan><tspan font-size="13" dy="6">sim</tspan><tspan dy="-6">=0.5ps</tspan></text>
<line x1="627.9" y1="2905.24" x2="682.4" y2="2905.24" stroke="#0000ff" stroke-width="4.2"/>
<text transform="translate(690,2912.2) scale(1.07,1)" font-family="'Liberation Serif', 'Times New Roman', serif" font-size="22" fill="#111"><tspan font-style="italic">τ</tspan><tspan font-size="13" dy="6">sim</tspan><tspan dy="-6">=0.2ps</tspan></text>
<line x1="627.9" y1="2944.0099999999998" x2="682.4" y2="2944.0099999999998" stroke="#ff00ff" stroke-width="4.2"/>
<text transform="translate(690,2951.0) scale(1.07,1)" font-family="'Liberation Serif', 'Times New Roman', serif" font-size="22" fill="#111"><tspan font-style="italic">τ</tspan><tspan font-size="13" dy="6">sim</tspan><tspan dy="-6">=0.1ps</tspan></text>
<rect x="646.6" y="2974.3" width="17.0" height="17.0" stroke="#000000" fill="none" stroke-width="1.6"/>
<text transform="translate(690,2989.8) scale(1.07,1)" font-family="'Liberation Serif', 'Times New Roman', serif" font-size="22" fill="#111"><tspan font-style="italic">τ</tspan><tspan font-size="13" dy="6">cal</tspan><tspan dy="-6">=1ps</tspan></text>
<circle cx="655.1" cy="3021.5" r="9.5" stroke="#ff8000" fill="none" stroke-width="1.6"/>
<text transform="translate(690,3028.5) scale(1.07,1)" font-family="'Liberation Serif', 'Times New Roman', serif" font-size="22" fill="#111"><tspan font-style="italic">τ</tspan><tspan font-size="13" dy="6">cal</tspan><tspan dy="-6">=0.5ps</tspan></text>
<path d="M655.1,3049.3 L666.6,3069.1 L643.6,3069.1 Z" stroke="#0000ff" fill="none" stroke-width="1.6"/>
<text transform="translate(690,3067.3) scale(1.07,1)" font-family="'Liberation Serif', 'Times New Roman', serif" font-size="22" fill="#111"><tspan font-style="italic">τ</tspan><tspan font-size="13" dy="6">cal</tspan><tspan dy="-6">=0.2ps</tspan></text>
<path d="M655.1,3088.6 L657.7,3095.5 L665.1,3095.8 L659.3,3100.5 L661.3,3107.6 L655.1,3103.5 L649.0,3107.6 L651.0,3100.5 L645.2,3095.8 L652.6,3095.5 Z" stroke="#ff00ff" fill="none" stroke-width="1.6"/>
<text transform="translate(690,3106.1) scale(1.07,1)" font-family="'Liberation Serif', 'Times New Roman', serif" font-size="22" fill="#111"><tspan font-style="italic">τ</tspan><tspan font-size="13" dy="6">cal</tspan><tspan dy="-6">=0.1ps</tspan></text>
<rect x="172.9" y="2791.5" width="618.5" height="461.5" fill="none" stroke="#555" stroke-width="2.2"/>
<path d="M172.9,3253 v-9 M296.6,3253 v-9 M420.3,3253 v-9 M544.0,3253 v-9 M667.7,3253 v-9 M791.4,3253 v-9 M203.8,3253 v-5 M234.8,3253 v-5 M265.7,3253 v-5 M327.5,3253 v-5 M358.4,3253 v-5 M389.4,3253 v-5 M451.2,3253 v-5 M482.1,3253 v-5 M513.1,3253 v-5 M574.9,3253 v-5 M605.9,3253 v-5 M636.8,3253 v-5 M698.6,3253 v-5 M729.5,3253 v-5 M760.5,3253 v-5 M172.9,3253.0 h9 M172.9,3160.7 h9 M172.9,3068.4 h9 M172.9,2976.1 h9 M172.9,2883.8 h9 M172.9,2791.5 h9 M172.9,3229.9 h5 M172.9,3206.8 h5 M172.9,3183.8 h5 M172.9,3137.6 h5 M172.9,3114.6 h5 M172.9,3091.5 h5 M172.9,3045.3 h5 M172.9,3022.2 h5 M172.9,2999.2 h5 M172.9,2953.0 h5 M172.9,2929.9 h5 M172.9,2906.9 h5 M172.9,2860.7 h5 M172.9,2837.7 h5 M172.9,2814.6 h5" stroke="#555" stroke-width="2.2" fill="none"/>
<text x="172.9" y="3292" font-family="'Liberation Sans', Arial, sans-serif" font-size="39" text-anchor="middle" fill="#111">0</text>
<text x="296.6" y="3292" font-family="'Liberation Sans', Arial, sans-serif" font-size="39" text-anchor="middle" fill="#111">2</text>
<text x="420.3" y="3292" font-family="'Liberation Sans', Arial, sans-serif" font-size="39" text-anchor="middle" fill="#111">4</text>
<text x="544.0" y="3292" font-family="'Liberation Sans', Arial, sans-serif" font-size="39" text-anchor="middle" fill="#111">6</text>
<text x="667.7" y="3292" font-family="'Liberation Sans', Arial, sans-serif" font-size="39" text-anchor="middle" fill="#111">8</text>
<text x="791.4" y="3292" font-family="'Liberation Sans', Arial, sans-serif" font-size="39" text-anchor="middle" fill="#111">10</text>
<text x="163.9" y="3263.5" font-family="'Liberation Sans', Arial, sans-serif" font-size="39" text-anchor="end" fill="#111">0.0</text>
<text x="163.9" y="3171.2" font-family="'Liberation Sans', Arial, sans-serif" font-size="39" text-anchor="end" fill="#111">0.2</text>
<text x="163.9" y="3078.9" font-family="'Liberation Sans', Arial, sans-serif" font-size="39" text-anchor="end" fill="#111">0.4</text>
<text x="163.9" y="2986.6" font-family="'Liberation Sans', Arial, sans-serif" font-size="39" text-anchor="end" fill="#111">0.6</text>
<text x="163.9" y="2894.3" font-family="'Liberation Sans', Arial, sans-serif" font-size="39" text-anchor="end" fill="#111">0.8</text>
<text x="163.9" y="2802.0" font-family="'Liberation Sans', Arial, sans-serif" font-size="39" text-anchor="end" fill="#111">1.0</text>
<text x="482" y="3343" font-family="'Liberation Serif', 'Times New Roman', serif" font-size="39" text-anchor="middle" fill="#111">Frequency (THz)</text>
<text transform="translate(67,3035) rotate(-90)" font-family="'Liberation Serif', 'Times New Roman', serif" font-size="39.5" text-anchor="middle" fill="#111">Transmission</text>
<text x="33" y="3338" font-family="'Liberation Serif', 'Times New Roman', serif" font-size="50" fill="#111">(i)</text></svg>
</body></html>
